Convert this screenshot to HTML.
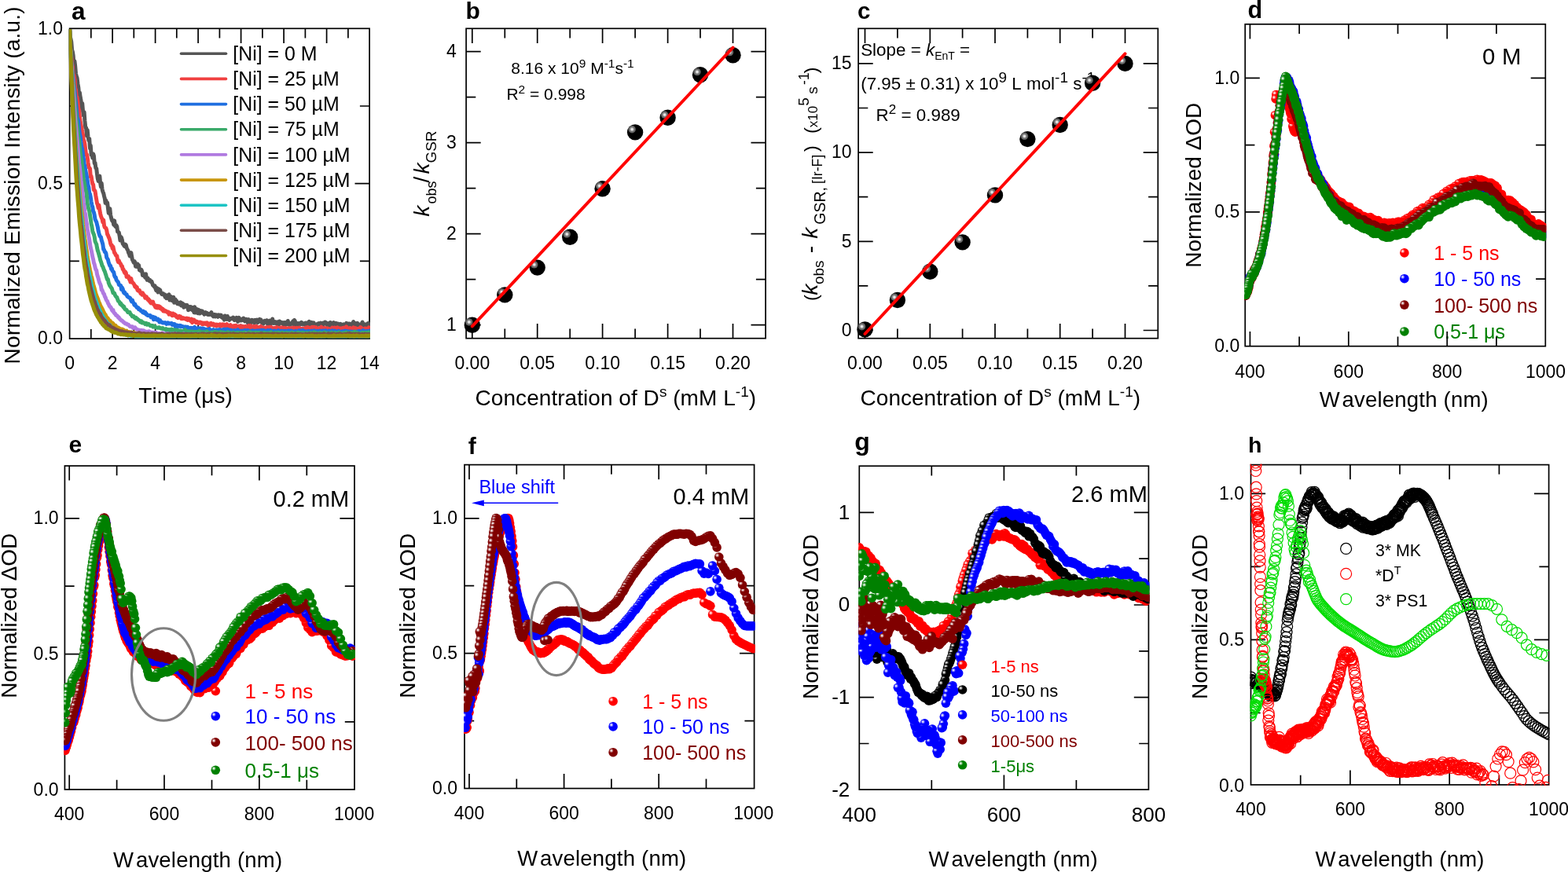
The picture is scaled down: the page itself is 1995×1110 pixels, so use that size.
<!DOCTYPE html>
<html lang="en"><head><meta charset="utf-8"><title>Figure</title>
<style>
html,body{margin:0;padding:0;background:#fff;}
body{width:1995px;height:1110px;overflow:hidden;}
svg{display:block;font-family:'Liberation Sans', Arial, Helvetica, sans-serif;}
text{white-space:pre;font-kerning:none;}
</style></head><body>
<svg width="1995" height="1110" viewBox="0 0 1995 1110">
<defs>
<radialGradient id="gmr"><stop offset="0" stop-color="#ffffff"/><stop offset="0.25" stop-color="#ffd9d9"/><stop offset="0.6" stop-color="#ff7373"/><stop offset="1" stop-color="#ff1919"/></radialGradient>
<marker id="mr" markerUnits="userSpaceOnUse" markerWidth="13.6" markerHeight="13.6" refX="6.8" refY="6.8" overflow="visible"><circle cx="6.8" cy="6.8" r="5.8" fill="#ff0000"/><circle cx="4.54" cy="4.65" r="2.73" fill="url(#gmr)"/></marker>
<radialGradient id="gmb"><stop offset="0" stop-color="#ffffff"/><stop offset="0.25" stop-color="#d9d9ff"/><stop offset="0.6" stop-color="#7373ff"/><stop offset="1" stop-color="#1919ff"/></radialGradient>
<marker id="mb" markerUnits="userSpaceOnUse" markerWidth="13.6" markerHeight="13.6" refX="6.8" refY="6.8" overflow="visible"><circle cx="6.8" cy="6.8" r="5.8" fill="#0000ff"/><circle cx="4.54" cy="4.65" r="2.73" fill="url(#gmb)"/></marker>
<radialGradient id="gmd"><stop offset="0" stop-color="#ffffff"/><stop offset="0.25" stop-color="#ecd9d9"/><stop offset="0.6" stop-color="#b97373"/><stop offset="1" stop-color="#8d1919"/></radialGradient>
<marker id="md" markerUnits="userSpaceOnUse" markerWidth="13.6" markerHeight="13.6" refX="6.8" refY="6.8" overflow="visible"><circle cx="6.8" cy="6.8" r="5.8" fill="#800000"/><circle cx="4.54" cy="4.65" r="2.73" fill="url(#gmd)"/></marker>
<radialGradient id="gmg"><stop offset="0" stop-color="#ffffff"/><stop offset="0.25" stop-color="#d9ecd9"/><stop offset="0.6" stop-color="#73b973"/><stop offset="1" stop-color="#198d19"/></radialGradient>
<marker id="mg" markerUnits="userSpaceOnUse" markerWidth="13.6" markerHeight="13.6" refX="6.8" refY="6.8" overflow="visible"><circle cx="6.8" cy="6.8" r="5.8" fill="#008000"/><circle cx="4.54" cy="4.65" r="2.73" fill="url(#gmg)"/></marker>
<radialGradient id="gmk"><stop offset="0" stop-color="#ffffff"/><stop offset="0.25" stop-color="#d9d9d9"/><stop offset="0.6" stop-color="#737373"/><stop offset="1" stop-color="#191919"/></radialGradient>
<marker id="mk" markerUnits="userSpaceOnUse" markerWidth="13.6" markerHeight="13.6" refX="6.8" refY="6.8" overflow="visible"><circle cx="6.8" cy="6.8" r="5.8" fill="#000000"/><circle cx="4.54" cy="4.65" r="2.73" fill="url(#gmk)"/></marker>
<radialGradient id="gbk"><stop offset="0" stop-color="#ffffff"/><stop offset="0.25" stop-color="#d9d9d9"/><stop offset="0.6" stop-color="#737373"/><stop offset="1" stop-color="#555555"/></radialGradient>
<marker id="bk" markerUnits="userSpaceOnUse" markerWidth="22.4" markerHeight="22.4" refX="11.2" refY="11.2" overflow="visible"><circle cx="11.2" cy="11.2" r="10.2" fill="#000000"/><circle cx="7.22" cy="7.43" r="4.79" fill="url(#gbk)"/></marker>
<marker id="ok" markerUnits="userSpaceOnUse" markerWidth="16" markerHeight="16" refX="8" refY="8" overflow="visible"><circle cx="8" cy="8" r="7" fill="none" stroke="#000" stroke-width="1.25"/></marker>
<marker id="or" markerUnits="userSpaceOnUse" markerWidth="16" markerHeight="16" refX="8" refY="8" overflow="visible"><circle cx="8" cy="8" r="7" fill="none" stroke="#ff0000" stroke-width="1.2"/></marker>
<marker id="og" markerUnits="userSpaceOnUse" markerWidth="16" markerHeight="16" refX="8" refY="8" overflow="visible"><circle cx="8" cy="8" r="7" fill="none" stroke="#00dc00" stroke-width="1.2"/></marker>
<clipPath id="ca"><rect x="87.75" y="37.15" width="383.20" height="393.35"/></clipPath>
<clipPath id="cd"><rect x="1583.20" y="29.80" width="384.10" height="411.90"/></clipPath>
<clipPath id="ce"><rect x="81.40" y="592.00" width="370.60" height="414.00"/></clipPath>
<clipPath id="cf"><rect x="590.00" y="590.60" width="370.60" height="414.00"/></clipPath>
<clipPath id="cg"><rect x="1092.30" y="592.20" width="370.10" height="413.90"/></clipPath>
<clipPath id="ch"><rect x="1590.70" y="590.80" width="380.70" height="409.00"/></clipPath>
</defs>
<rect width="1995" height="1110" fill="#fff"/>
<text x="91.1" y="24.7" font-size="31.5" font-weight="bold">a</text>
<rect x="88.6" y="36.3" width="381.5" height="394.8" fill="none" stroke="#000" stroke-width="1.7"/>
<path d="M143.1 431.1v-18.6M143.1 36.3v18.6M197.6 431.1v-18.6M197.6 36.3v18.6M252.1 431.1v-18.6M252.1 36.3v18.6M306.6 431.1v-18.6M306.6 36.3v18.6M361.1 431.1v-18.6M361.1 36.3v18.6M415.6 431.1v-18.6M415.6 36.3v18.6M115.8 431.1v-12.2M115.8 36.3v12.2M170.3 431.1v-12.2M170.3 36.3v12.2M224.8 431.1v-12.2M224.8 36.3v12.2M279.4 431.1v-12.2M279.4 36.3v12.2M333.9 431.1v-12.2M333.9 36.3v12.2M388.4 431.1v-12.2M388.4 36.3v12.2M442.9 431.1v-12.2M442.9 36.3v12.2M88.6 233.7h18.6M470.1 233.7h-18.6M88.6 332.4h12.2M470.1 332.4h-12.2M88.6 135h12.2M470.1 135h-12.2" fill="none" stroke="#000" stroke-width="1.7"/>
<text x="88.6" y="469.7" text-anchor="middle" font-size="23">0</text>
<text x="143.1" y="469.7" text-anchor="middle" font-size="23">2</text>
<text x="197.6" y="469.7" text-anchor="middle" font-size="23">4</text>
<text x="252.1" y="469.7" text-anchor="middle" font-size="23">6</text>
<text x="306.6" y="469.7" text-anchor="middle" font-size="23">8</text>
<text x="361.1" y="469.7" text-anchor="middle" font-size="23">10</text>
<text x="415.6" y="469.7" text-anchor="middle" font-size="23">12</text>
<text x="470.1" y="469.7" text-anchor="middle" font-size="23">14</text>
<text x="80" y="438.4" text-anchor="end" font-size="23">0.0</text>
<text x="80" y="241" text-anchor="end" font-size="23">0.5</text>
<text x="80" y="43.6" text-anchor="end" font-size="23">1.0</text>
<text x="176.2" y="513.4" font-size="28" text-anchor="start" fill="#000" textLength="119.6">Time (&#956;s)</text>
<text transform="translate(24.5 236) rotate(-90)" font-size="28" text-anchor="middle" textLength="455">Normalized Emission Intensity (a.u.)</text>
<g clip-path="url(#ca)" fill="none" stroke-linejoin="round" stroke-linecap="round">
<path d="M88.6 36.3 89.1 45.8 90 49.5 90.8 53.6 91.6 63.6 92.4 66 93.2 71.2 94 82.9 94.9 77.8 95.7 84.4 96.5 93.8 97.3 97.1 98.1 99.4 99 106.9 99.8 111.5 100.6 120.4 101.4 117.8 102.2 123.8 103 127.7 103.9 138.3 104.7 131.5 105.5 140.9 106.3 146.9 107.1 142.7 107.9 153.8 108.8 162.4 109.6 162.8 110.4 172.9 111.2 165.6 112 174.1 112.9 178.8 113.7 176.5 114.5 188.9 115.3 185.3 116.1 197.1 116.9 196 117.8 201 118.6 195.9 119.4 198.2 120.2 207.9 121 207.4 121.8 213.7 122.7 214.4 123.5 221.5 124.3 227.3 125.1 230.5 125.9 226.7 126.8 224 127.6 232.7 128.4 237.8 129.2 233.2 130 240.8 130.8 243.9 131.7 246 132.5 249.6 133.3 252.6 134.1 258.3 134.9 255.2 135.7 259.3 136.6 258 137.4 264.7 138.2 271.3 139 268.4 139.8 265.6 140.6 273.6 141.5 277.1 142.3 280.1 143.1 281.7 143.9 281.7 144.7 286.1 145.6 280.9 146.4 287.6 147.2 288.5 148 286.8 148.8 288.5 149.6 294.9 150.5 295.3 151.3 296 152.1 300.2 152.9 306 153.7 301.4 154.5 302.5 155.4 305.4 156.2 310.4 157 310.2 157.8 312.7 158.6 313.5 159.4 311.1 160.3 312 161.1 315.6 161.9 317.4 162.7 318.5 163.5 321.6 164.4 323.2 165.2 326 166 325.9 166.8 321.6 167.6 326.3 168.4 330.5 169.3 332.1 170.1 334.2 170.9 332.5 171.7 333.7 172.5 339.2 173.3 335.9 174.2 339.5 175 336 175.8 340.1 176.6 337.6 177.4 343.7 178.3 344.4 179.1 344.1 179.9 343.4 180.7 345.5 181.5 350.6 182.3 348.4 183.2 349.8 184 351.7 184.8 353.2 185.6 348.8 186.4 354.4 187.2 356.3 188.1 354 188.9 356 189.7 357.3 190.5 356.3 191.3 357.8 192.1 358.9 193 358.4 193.8 360.7 194.6 363.4 195.4 363.6 196.2 364.7 197.1 363.9 197.9 367.4 198.7 369.7 199.5 366.4 200.3 370.1 201.1 372 202 367.9 202.8 370.8 203.6 369 204.4 371.8 205.2 373.6 206 374.5 206.9 373.6 207.7 373.8 208.5 375.5 209.3 375 210.1 378.1 211 375.6 211.8 379.7 212.6 377.1 213.4 375.9 214.2 375.7 215 375 215.9 382 216.7 377.9 217.5 377.6 218.3 378.5 219.1 382.7 219.9 380.6 220.8 378.3 221.6 385.3 222.4 381.9 223.2 381.2 224 385.1 224.8 383.1 225.7 386.7 226.5 386.7 227.3 387.1 228.1 385.6 228.9 386.5 229.8 385 230.6 389 231.4 387.8 232.2 386.2 233 387.3 233.8 391.2 234.7 387.9 235.5 390.4 236.3 389.1 237.1 389.6 237.9 388.3 238.7 390.7 239.6 394.6 240.4 394.1 241.2 390.6 242 392.7 242.8 390.5 243.7 392.4 244.5 394.5 245.3 391.5 246.1 395.2 246.9 397.8 247.7 390.7 248.6 398.1 249.4 393.8 250.2 393.6 251 395.2 251.8 398.8 252.6 394.2 253.5 398.9 254.3 398.9 255.1 397.5 255.9 395.7 256.7 396.8 257.5 396.1 258.4 398.6 259.2 398.3 260 400.2 260.8 399 261.6 397.7 262.5 399.5 263.3 398.3 264.1 400.4 264.9 400.6 265.7 399.7 266.5 400.3 267.4 399.2 268.2 400.1 269 397.6 269.8 401.2 270.6 401.4 271.4 402.9 272.3 401.3 273.1 400.4 273.9 403 274.7 402 275.5 400.9 276.4 402.5 277.2 403.3 278 400.9 278.8 402.6 279.6 402.2 280.4 401.1 281.3 401.3 282.1 403.9 282.9 404.4 283.7 403.2 284.5 404 285.3 407.1 286.2 402 287 404.2 287.8 403.2 288.6 406.5 289.4 402.5 290.2 405.8 291.1 405.1 291.9 407.3 292.7 405.4 293.5 405.7 294.3 405.7 295.2 404.8 296 405.6 296.8 404.2 297.6 406.6 298.4 407.6 299.2 406.1 300.1 405.2 300.9 404.3 301.7 405.1 302.5 409.4 303.3 406 304.1 404.4 305 406.7 305.8 407.8 306.6 406.5 307.4 407.9 308.2 406.2 309.1 407.3 309.9 405.2 310.7 406.7 311.5 408.8 312.3 406.7 313.1 406.3 314 408.8 314.8 408.6 315.6 411.7 316.4 406.6 317.2 409.1 318 411.6 318.9 411.2 319.7 408.8 320.5 407.3 321.3 408.7 322.1 407.9 322.9 410.5 323.8 410.9 324.6 407.4 325.4 408.1 326.2 409 327 407 327.9 410.6 328.7 409.8 329.5 407.6 330.3 406.4 331.1 409.3 331.9 406.8 332.8 410.4 333.6 409 334.4 409.9 335.2 412.2 336 409.3 336.8 408.3 337.7 410 338.5 410 339.3 407.7 340.1 411.9 340.9 412.4 341.8 411.1 342.6 412 343.4 408.1 344.2 409.7 345 411.6 345.8 411.3 346.7 405.9 347.5 411.4 348.3 411.6 349.1 410 349.9 409.5 350.7 410.2 351.6 412 352.4 412.5 353.2 409.8 354 410.8 354.8 413.3 355.6 409 356.5 409.6 357.3 411.3 358.1 411.3 358.9 410.6 359.7 412.1 360.6 413.1 361.4 410.6 362.2 413.3 363 410.5 363.8 413.4 364.6 411.4 365.5 411.5 366.3 408.5 367.1 413 367.9 413.5 368.7 412.4 369.5 413.1 370.4 412.3 371.2 410.8 372 410.3 372.8 408.9 373.6 412.7 374.5 407.5 375.3 408.5 376.1 411.9 376.9 415.2 377.7 411.8 378.5 411.6 379.4 415.3 380.2 411.6 381 412.1 381.8 413 382.6 410.9 383.4 410.3 384.3 412.6 385.1 411.5 385.9 412.9 386.7 413.1 387.5 411.8 388.4 411.2 389.2 412.9 390 415.4 390.8 411.1 391.6 414.5 392.4 411.9 393.3 409.4 394.1 412.1 394.9 414 395.7 414.4 396.5 410.4 397.3 412.2 398.2 411.4 399 410.8 399.8 412.3 400.6 412.7 401.4 413.7 402.2 417 403.1 414.6 403.9 412.4 404.7 412.6 405.5 411.7 406.3 412.6 407.2 412.1 408 411.2 408.8 413.8 409.6 412.9 410.4 414.9 411.2 411 412.1 412.4 412.9 411.7 413.7 410.1 414.5 410.8 415.3 412.6 416.1 411.3 417 414.7 417.8 411.9 418.6 412.3 419.4 415 420.2 410.5 421.1 413.7 421.9 411.6 422.7 413.3 423.5 411.1 424.3 410.6 425.1 413.9 426 415 426.8 412.9 427.6 411.4 428.4 413.3 429.2 413.6 430 412 430.9 416.9 431.7 413.7 432.5 414.9 433.3 412.3 434.1 413.9 434.9 414.5 435.8 413.3 436.6 415 437.4 412.8 438.2 413.8 439 413.4 439.9 413.9 440.7 411.4 441.5 413 442.3 412 443.1 412.1 443.9 414.1 444.8 412 445.6 412.3 446.4 412.4 447.2 413.5 448 413.5 448.8 411.7 449.7 409.6 450.5 414.2 451.3 412.1 452.1 413.5 452.9 411.7 453.8 412.3 454.6 411.3 455.4 417.2 456.2 413.9 457 414.5 457.8 413.1 458.7 414.1 459.5 414 460.3 411.9 461.1 410.1 461.9 417.3 462.7 413.5 463.6 412.5 464.4 413 465.2 413.5 466 415.1 466.8 414.5 467.6 411.9 468.5 411.4 469.3 412.9 470.1 414.3" stroke="#555555" stroke-width="5"/>
<path d="M88.6 36.3 89.1 60.4 90 65.1 90.8 72.7 91.6 80.9 92.4 85.2 93.2 94.7 94 96 94.9 101.1 95.7 112.5 96.5 114.5 97.3 123.4 98.1 124.1 99 129.9 99.8 137.9 100.6 140.3 101.4 148.7 102.2 154.2 103 158.9 103.9 162.8 104.7 168 105.5 171.6 106.3 177.9 107.1 179.4 107.9 183.2 108.8 190.8 109.6 197 110.4 196.6 111.2 199.9 112 206.6 112.9 212.9 113.7 213.5 114.5 214.8 115.3 225.4 116.1 224.3 116.9 229.5 117.8 234.1 118.6 234.8 119.4 241.8 120.2 242 121 243.3 121.8 248.7 122.7 253.9 123.5 258.7 124.3 260.7 125.1 264.7 125.9 261.2 126.8 267.5 127.6 271.8 128.4 275 129.2 277.3 130 278.6 130.8 282.9 131.7 280.1 132.5 287 133.3 289.5 134.1 290 134.9 290.4 135.7 293 136.6 298.4 137.4 299.4 138.2 301.8 139 303.3 139.8 305.9 140.6 310 141.5 312.5 142.3 312.1 143.1 316.4 143.9 314.1 144.7 318.2 145.6 321.8 146.4 322.4 147.2 324.5 148 325.7 148.8 325.7 149.6 331.2 150.5 333.5 151.3 331.7 152.1 334.1 152.9 335.1 153.7 336.2 154.5 338.7 155.4 338.7 156.2 342.7 157 342.7 157.8 345.5 158.6 347.3 159.4 346 160.3 347.4 161.1 352.5 161.9 352.5 162.7 351.7 163.5 351.8 164.4 355.5 165.2 356 166 359 166.8 354.4 167.6 358.5 168.4 359 169.3 360.4 170.1 361.1 170.9 362.6 171.7 364.9 172.5 364.4 173.3 366.4 174.2 365.6 175 369.4 175.8 370.1 176.6 369.3 177.4 369.4 178.3 371.8 179.1 373.8 179.9 373.9 180.7 375.2 181.5 372.8 182.3 375 183.2 375.3 184 377.3 184.8 379.2 185.6 377.7 186.4 377.8 187.2 379.9 188.1 381.4 188.9 380.7 189.7 383.2 190.5 382.4 191.3 384.9 192.1 385.9 193 384.6 193.8 385.5 194.6 384.1 195.4 387.5 196.2 387.7 197.1 389.7 197.9 391.2 198.7 391.6 199.5 389.4 200.3 391.9 201.1 389.6 202 389.8 202.8 392.3 203.6 390.5 204.4 392.7 205.2 392.1 206 394.2 206.9 393.2 207.7 395.9 208.5 394.5 209.3 396.2 210.1 396.3 211 395.8 211.8 396.7 212.6 397.4 213.4 396.9 214.2 397.2 215 400.1 215.9 398.2 216.7 398.4 217.5 400.4 218.3 399.5 219.1 401.8 219.9 399 220.8 401.2 221.6 401.4 222.4 400.2 223.2 402.1 224 401.5 224.8 403.7 225.7 403.4 226.5 404.7 227.3 403.6 228.1 402.5 228.9 403.7 229.8 403.2 230.6 405.6 231.4 405.7 232.2 405.5 233 404.6 233.8 405.1 234.7 405.7 235.5 405.3 236.3 406.4 237.1 406.4 237.9 405.2 238.7 407.5 239.6 406.9 240.4 405.6 241.2 407.4 242 406.9 242.8 408.6 243.7 406 244.5 410.7 245.3 409.7 246.1 409.8 246.9 407.1 247.7 408.7 248.6 409.5 249.4 410.7 250.2 409.2 251 409.6 251.8 410.6 252.6 411.6 253.5 411.3 254.3 410.1 255.1 410.2 255.9 410.6 256.7 410.9 257.5 412.8 258.4 411 259.2 412.3 260 411.3 260.8 411 261.6 412.3 262.5 412.8 263.3 410.8 264.1 411.6 264.9 412.8 265.7 415.3 266.5 412.4 267.4 411.8 268.2 411.4 269 413.4 269.8 413.4 270.6 413.3 271.4 412.1 272.3 414.3 273.1 413.3 273.9 414.2 274.7 413.1 275.5 415 276.4 413.2 277.2 414.2 278 414 278.8 413.3 279.6 412.8 280.4 415.7 281.3 413.1 282.1 413.6 282.9 414.5 283.7 412.9 284.5 414.2 285.3 413.2 286.2 415.1 287 415.5 287.8 413.5 288.6 412.6 289.4 414.2 290.2 414 291.1 415.4 291.9 416.3 292.7 415.3 293.5 413.7 294.3 417.1 295.2 415.8 296 417.2 296.8 415.3 297.6 414.6 298.4 416.7 299.2 416 300.1 414.3 300.9 415.8 301.7 416.9 302.5 417.1 303.3 417.8 304.1 415.1 305 416.7 305.8 414.9 306.6 415.2 307.4 416.7 308.2 416.6 309.1 415.4 309.9 416.1 310.7 416 311.5 417.9 312.3 415.4 313.1 417.2 314 418.6 314.8 417 315.6 416.1 316.4 414.5 317.2 416.9 318 417.9 318.9 414.6 319.7 416.5 320.5 416.9 321.3 417.8 322.1 417.7 322.9 415.4 323.8 417.1 324.6 417.4 325.4 417.4 326.2 415.4 327 417.5 327.9 416.4 328.7 416.7 329.5 416.8 330.3 417.9 331.1 416.4 331.9 415.5 332.8 417.2 333.6 418 334.4 418.4 335.2 417 336 417.5 336.8 417.3 337.7 417.3 338.5 418.7 339.3 416.6 340.1 417.1 340.9 417.4 341.8 417.2 342.6 416.5 343.4 417.4 344.2 418.2 345 416.3 345.8 417.9 346.7 418.2 347.5 419 348.3 417.5 349.1 418.5 349.9 418.1 350.7 417.1 351.6 417.6 352.4 416.6 353.2 417.3 354 418 354.8 418 355.6 418.2 356.5 417.1 357.3 417.7 358.1 418.1 358.9 416.9 359.7 417.7 360.6 418.2 361.4 419.2 362.2 417.4 363 417.6 363.8 417.8 364.6 418.2 365.5 418.6 366.3 418.1 367.1 417.6 367.9 418 368.7 418 369.5 418.3 370.4 417.6 371.2 417.7 372 418.6 372.8 417.2 373.6 417.2 374.5 417.2 375.3 418.1 376.1 418.2 376.9 419.1 377.7 417.3 378.5 420 379.4 418.4 380.2 418.3 381 417.2 381.8 418 382.6 419 383.4 419.4 384.3 418.7 385.1 418 385.9 418 386.7 418.3 387.5 418.7 388.4 418.3 389.2 417.1 390 419.2 390.8 418.1 391.6 416.6 392.4 417.6 393.3 418.6 394.1 417.5 394.9 418.9 395.7 418.1 396.5 416.7 397.3 416.4 398.2 419.8 399 417.5 399.8 416.3 400.6 418.7 401.4 417.9 402.2 416.8 403.1 418.7 403.9 417.8 404.7 418.3 405.5 420 406.3 417.9 407.2 418.4 408 417.3 408.8 416.2 409.6 417.6 410.4 418.6 411.2 417.8 412.1 418.1 412.9 417.3 413.7 419.6 414.5 419.4 415.3 420.2 416.1 417.7 417 418.3 417.8 418.9 418.6 419 419.4 418.8 420.2 419.2 421.1 418.6 421.9 418.8 422.7 417 423.5 418 424.3 419.1 425.1 418.9 426 417.2 426.8 417.9 427.6 418 428.4 417.6 429.2 416.8 430 419.5 430.9 419 431.7 420 432.5 417.9 433.3 418.7 434.1 419 434.9 419.1 435.8 417.7 436.6 418.5 437.4 418.8 438.2 417.2 439 419.3 439.9 419.5 440.7 415.9 441.5 418.7 442.3 418.9 443.1 419 443.9 418.5 444.8 417.6 445.6 417.7 446.4 417.9 447.2 418.6 448 419.8 448.8 418.1 449.7 416.9 450.5 417.4 451.3 418.5 452.1 417.6 452.9 418.7 453.8 418.4 454.6 419.6 455.4 418.7 456.2 418.3 457 418.5 457.8 417.7 458.7 416.6 459.5 417.1 460.3 418.7 461.1 419.1 461.9 419 462.7 419.3 463.6 418.4 464.4 418 465.2 418.2 466 418.2 466.8 418.3 467.6 418.5 468.5 419.1 469.3 416.8 470.1 417.4" stroke="#f04040" stroke-width="5"/>
<path d="M88.6 36.3 89.1 66.2 90 73.8 90.8 80.6 91.6 86 92.4 94.2 93.2 101.6 94 108.9 94.9 116 95.7 123.7 96.5 131.1 97.3 138.8 98.1 148.3 99 151.7 99.8 154.5 100.6 164.7 101.4 170.8 102.2 173.7 103 181 103.9 187.5 104.7 189.5 105.5 196.4 106.3 201.3 107.1 208.6 107.9 211.7 108.8 216.7 109.6 220.8 110.4 224.8 111.2 229.4 112 235.3 112.9 238.7 113.7 245.8 114.5 247.1 115.3 251.1 116.1 256.6 116.9 261 117.8 263.6 118.6 269 119.4 270.3 120.2 273.8 121 279 121.8 280.9 122.7 282.7 123.5 285.8 124.3 289 125.1 293.7 125.9 296.9 126.8 299.9 127.6 301.3 128.4 301.7 129.2 305.7 130 308.1 130.8 311 131.7 317.4 132.5 318 133.3 320.7 134.1 320.9 134.9 322.6 135.7 327.9 136.6 329.2 137.4 330.6 138.2 334 139 336.2 139.8 338.3 140.6 338.3 141.5 342.4 142.3 341.8 143.1 344.9 143.9 345.8 144.7 346.6 145.6 350.9 146.4 352.8 147.2 352.9 148 356.2 148.8 357.4 149.6 358.2 150.5 359.3 151.3 362.4 152.1 362.8 152.9 363.1 153.7 363.6 154.5 368.6 155.4 366.2 156.2 367.9 157 371.3 157.8 372.9 158.6 372 159.4 374.1 160.3 374.6 161.1 374.9 161.9 377.3 162.7 377.7 163.5 378.4 164.4 379 165.2 379.1 166 380.1 166.8 382.5 167.6 383.9 168.4 382.1 169.3 384.8 170.1 385.8 170.9 388.2 171.7 387.1 172.5 389.4 173.3 389.9 174.2 391.5 175 391.4 175.8 391.6 176.6 393.8 177.4 393.9 178.3 393.7 179.1 395.5 179.9 396.1 180.7 396.4 181.5 397.5 182.3 396.2 183.2 398.3 184 397.2 184.8 397.6 185.6 400.1 186.4 399.5 187.2 400.5 188.1 401.6 188.9 401.4 189.7 401.8 190.5 401.4 191.3 401.6 192.1 403.9 193 403.7 193.8 403.3 194.6 403.2 195.4 406.8 196.2 403.9 197.1 405.6 197.9 404.5 198.7 406.5 199.5 407.3 200.3 406.9 201.1 406.2 202 407.6 202.8 409.9 203.6 407.7 204.4 409.9 205.2 409.7 206 410.1 206.9 411 207.7 410.8 208.5 410.9 209.3 410.8 210.1 410.6 211 411.1 211.8 412.3 212.6 411.5 213.4 410.8 214.2 411.1 215 412 215.9 411.8 216.7 411.8 217.5 411.6 218.3 411.6 219.1 413.4 219.9 413.6 220.8 412.4 221.6 412.5 222.4 412.7 223.2 416 224 414.5 224.8 417.1 225.7 414.1 226.5 414.8 227.3 415 228.1 415.3 228.9 414.3 229.8 415.7 230.6 414.8 231.4 415.3 232.2 415.6 233 415.7 233.8 416.1 234.7 417.2 235.5 415.9 236.3 416 237.1 416.8 237.9 416.3 238.7 416.3 239.6 418.1 240.4 417.3 241.2 417.6 242 418.1 242.8 417.3 243.7 418.3 244.5 418 245.3 417.6 246.1 417.6 246.9 417.8 247.7 416.4 248.6 418.6 249.4 418.1 250.2 419.3 251 418.1 251.8 417.7 252.6 417.7 253.5 419.2 254.3 419 255.1 417.9 255.9 419 256.7 418.3 257.5 419.8 258.4 418.1 259.2 418.4 260 418.9 260.8 419.9 261.6 419.5 262.5 419.3 263.3 419.3 264.1 419.6 264.9 419.8 265.7 419.5 266.5 418.7 267.4 421.3 268.2 420.8 269 421 269.8 420.4 270.6 421.3 271.4 419.6 272.3 420 273.1 420.3 273.9 420.7 274.7 420.1 275.5 420.1 276.4 420 277.2 420.9 278 419.9 278.8 421.5 279.6 419.5 280.4 422.7 281.3 420.9 282.1 421.4 282.9 420 283.7 421.7 284.5 419.3 285.3 421.8 286.2 419.2 287 420.4 287.8 420.7 288.6 420.5 289.4 419.2 290.2 420.2 291.1 422.5 291.9 420 292.7 420.8 293.5 422.1 294.3 420.4 295.2 421.9 296 420.9 296.8 420.9 297.6 421.5 298.4 420.6 299.2 421.9 300.1 421 300.9 421.5 301.7 421.3 302.5 419.8 303.3 421.1 304.1 422 305 421.3 305.8 421.8 306.6 421.3 307.4 421.2 308.2 421.3 309.1 421.3 309.9 421.7 310.7 421 311.5 420.6 312.3 421.8 313.1 421.5 314 421.4 314.8 420.5 315.6 420.7 316.4 422 317.2 421.4 318 422.6 318.9 422.2 319.7 421.5 320.5 421.1 321.3 420.8 322.1 421.8 322.9 422.5 323.8 421.3 324.6 421.7 325.4 421.3 326.2 421.5 327 421.1 327.9 421.1 328.7 421 329.5 422 330.3 420.9 331.1 422 331.9 421.6 332.8 420.3 333.6 421.4 334.4 422.5 335.2 420.6 336 421 336.8 420.9 337.7 421.6 338.5 421.5 339.3 421.9 340.1 422.2 340.9 420.6 341.8 422 342.6 422.1 343.4 422.1 344.2 420.4 345 421.1 345.8 422 346.7 421.8 347.5 421.4 348.3 421.2 349.1 423 349.9 421.2 350.7 422 351.6 422.3 352.4 422.1 353.2 421.3 354 420.6 354.8 421.7 355.6 421.4 356.5 422.4 357.3 421.5 358.1 421.3 358.9 422.9 359.7 422.2 360.6 421.3 361.4 423.1 362.2 422.1 363 421.4 363.8 423.1 364.6 422.2 365.5 421.8 366.3 421.2 367.1 422.8 367.9 421.1 368.7 421.7 369.5 421 370.4 421.1 371.2 421.7 372 421.6 372.8 423.2 373.6 422.9 374.5 422.6 375.3 422.2 376.1 421.3 376.9 423.2 377.7 422.2 378.5 422.9 379.4 423 380.2 420.9 381 421.9 381.8 420.8 382.6 421.1 383.4 422.6 384.3 423.3 385.1 420.5 385.9 422.2 386.7 422.8 387.5 421.5 388.4 421.9 389.2 422.4 390 422.2 390.8 421.8 391.6 421.9 392.4 421.4 393.3 422.2 394.1 422.2 394.9 421.5 395.7 421.7 396.5 421.2 397.3 422.1 398.2 422 399 422.8 399.8 420.9 400.6 423 401.4 421.8 402.2 422.6 403.1 421.7 403.9 421.4 404.7 423.1 405.5 422.1 406.3 423.2 407.2 421 408 422.3 408.8 423.1 409.6 422.5 410.4 421 411.2 420.9 412.1 421.1 412.9 422.5 413.7 422.1 414.5 420.8 415.3 422.5 416.1 422.2 417 422.7 417.8 422.8 418.6 421.1 419.4 421.5 420.2 421.7 421.1 421.6 421.9 421.3 422.7 420.9 423.5 422 424.3 422.2 425.1 422.7 426 421.2 426.8 422.4 427.6 423.1 428.4 422.2 429.2 422 430 421.4 430.9 421.3 431.7 422.5 432.5 422.6 433.3 422.2 434.1 422.9 434.9 422.1 435.8 421.7 436.6 422 437.4 423.2 438.2 422.9 439 421.1 439.9 422.7 440.7 421.5 441.5 421.6 442.3 422.2 443.1 422.7 443.9 421.9 444.8 422.6 445.6 422.1 446.4 421.9 447.2 422.5 448 422.2 448.8 422.2 449.7 422.9 450.5 422.1 451.3 422.5 452.1 423.3 452.9 422.2 453.8 422.2 454.6 422.4 455.4 423.5 456.2 421.5 457 421.5 457.8 421.5 458.7 421.8 459.5 422.9 460.3 421.9 461.1 422.7 461.9 420.5 462.7 422.4 463.6 421.5 464.4 423.1 465.2 422.9 466 422.4 466.8 421.5 467.6 421.6 468.5 421.8 469.3 423.3 470.1 421.2" stroke="#1f6fe0" stroke-width="5"/>
<path d="M88.6 36.3 89.1 57.5 90 67.5 90.8 79.1 91.6 88.7 92.4 101.4 93.2 105.2 94 117.5 94.9 125.1 95.7 136.2 96.5 143.3 97.3 152.8 98.1 159.3 99 166.4 99.8 173.5 100.6 179.1 101.4 187.2 102.2 194.2 103 201 103.9 204.9 104.7 214.3 105.5 218.1 106.3 227.7 107.1 232.1 107.9 236 108.8 242 109.6 243.5 110.4 249.1 111.2 258.7 112 262.9 112.9 266.4 113.7 268.8 114.5 273.9 115.3 279 116.1 285 116.9 288.4 117.8 294.2 118.6 296.7 119.4 298.3 120.2 301.5 121 307.1 121.8 309.1 122.7 310.8 123.5 315.4 124.3 319 125.1 321.1 125.9 324.1 126.8 327.3 127.6 330.7 128.4 333.2 129.2 335.3 130 338.4 130.8 339.2 131.7 341.9 132.5 344.1 133.3 345.5 134.1 348.1 134.9 350.4 135.7 353.3 136.6 355.8 137.4 355.6 138.2 360.1 139 361.9 139.8 363.9 140.6 364.7 141.5 366.2 142.3 367.3 143.1 369.9 143.9 372.7 144.7 372.5 145.6 373.5 146.4 375.6 147.2 377.1 148 377.9 148.8 378.5 149.6 381 150.5 383.2 151.3 383.8 152.1 384.6 152.9 387 153.7 386.1 154.5 388.3 155.4 388.4 156.2 389.7 157 391 157.8 390.5 158.6 393 159.4 394 160.3 394.2 161.1 394.6 161.9 396.1 162.7 397.5 163.5 397.1 164.4 398 165.2 397.7 166 400 166.8 400.3 167.6 401.6 168.4 402.8 169.3 402.4 170.1 402.5 170.9 404.3 171.7 404.7 172.5 405.6 173.3 404.5 174.2 406.3 175 406 175.8 407.4 176.6 407.3 177.4 408.2 178.3 409.8 179.1 408.7 179.9 408.8 180.7 410.9 181.5 410.1 182.3 410.7 183.2 411.5 184 411.3 184.8 412.7 185.6 411.7 186.4 411.5 187.2 413.3 188.1 412.9 188.9 412.3 189.7 413.4 190.5 414.1 191.3 414.7 192.1 414.3 193 414.7 193.8 414.5 194.6 416.1 195.4 414.8 196.2 415.9 197.1 415.5 197.9 416.6 198.7 417.1 199.5 416.9 200.3 417.3 201.1 417.2 202 416.8 202.8 416.8 203.6 417.5 204.4 418.1 205.2 418.2 206 417.8 206.9 417.6 207.7 418.6 208.5 418.7 209.3 419.2 210.1 418.8 211 418.5 211.8 420.8 212.6 419.2 213.4 419.8 214.2 420.9 215 419.5 215.9 419.9 216.7 419.7 217.5 420.8 218.3 419 219.1 420.2 219.9 420.6 220.8 419.7 221.6 420.2 222.4 420.2 223.2 420.1 224 422 224.8 420.1 225.7 421.2 226.5 421 227.3 420.7 228.1 421.7 228.9 421.2 229.8 421 230.6 421.5 231.4 421.3 232.2 422.5 233 422.4 233.8 422.4 234.7 421.7 235.5 419.9 236.3 421.8 237.1 422.1 237.9 422.1 238.7 421.6 239.6 421.8 240.4 422.9 241.2 421.8 242 422.4 242.8 422 243.7 423.5 244.5 423.3 245.3 422.2 246.1 423.5 246.9 422.4 247.7 422.5 248.6 422.6 249.4 422.5 250.2 422.6 251 422.6 251.8 423 252.6 422.9 253.5 421.3 254.3 422.3 255.1 422.6 255.9 422.8 256.7 423.4 257.5 422.9 258.4 423.2 259.2 422.6 260 423.6 260.8 424.4 261.6 423.5 262.5 422.8 263.3 421.9 264.1 422.7 264.9 423.8 265.7 423.4 266.5 423.8 267.4 423.4 268.2 423.8 269 424.2 269.8 423.1 270.6 423.3 271.4 423.5 272.3 423.2 273.1 422.4 273.9 423.4 274.7 423.7 275.5 423 276.4 424.4 277.2 423.1 278 423.9 278.8 424 279.6 423.5 280.4 422.7 281.3 424 282.1 423.1 282.9 423.4 283.7 424.3 284.5 423.1 285.3 424.1 286.2 424.4 287 424.1 287.8 424 288.6 423.4 289.4 424.1 290.2 422.9 291.1 423.6 291.9 424.1 292.7 424.1 293.5 423.6 294.3 424.8 295.2 424.9 296 424.2 296.8 423.4 297.6 423.7 298.4 423.8 299.2 423.9 300.1 424.9 300.9 424 301.7 424.7 302.5 423.4 303.3 423.8 304.1 423.9 305 423.6 305.8 423.7 306.6 423.7 307.4 423.6 308.2 424.1 309.1 424.5 309.9 423.7 310.7 423.1 311.5 423.3 312.3 424 313.1 423.5 314 424.1 314.8 423.7 315.6 424.2 316.4 423.8 317.2 422.8 318 423.5 318.9 423.1 319.7 424.3 320.5 424.2 321.3 423.9 322.1 423.6 322.9 424 323.8 423.4 324.6 424.2 325.4 423.2 326.2 423.4 327 424.5 327.9 423.6 328.7 424 329.5 423.4 330.3 424.2 331.1 423.8 331.9 423.6 332.8 425.3 333.6 424.9 334.4 423.9 335.2 424 336 423.4 336.8 423.8 337.7 424.6 338.5 423.8 339.3 424.3 340.1 424.1 340.9 424.2 341.8 423.8 342.6 424.7 343.4 424.5 344.2 425.1 345 422.8 345.8 424.5 346.7 424.4 347.5 424.5 348.3 424.3 349.1 424.2 349.9 423.6 350.7 423.9 351.6 423.8 352.4 424.3 353.2 424 354 423.3 354.8 424 355.6 423.8 356.5 425 357.3 423.7 358.1 423.8 358.9 423.3 359.7 425.4 360.6 424 361.4 424 362.2 423.9 363 424.3 363.8 423.9 364.6 423.6 365.5 424 366.3 424.1 367.1 424.1 367.9 424.2 368.7 424 369.5 424.4 370.4 425 371.2 423.3 372 424.9 372.8 424 373.6 424.7 374.5 424.1 375.3 424.5 376.1 424 376.9 424.4 377.7 424.7 378.5 423.8 379.4 423.3 380.2 423.8 381 423.9 381.8 424.5 382.6 424 383.4 423.8 384.3 424.3 385.1 423.5 385.9 424 386.7 423.8 387.5 424.3 388.4 424.3 389.2 423.9 390 423.8 390.8 423.8 391.6 424.5 392.4 424.4 393.3 424 394.1 425 394.9 423.5 395.7 423.8 396.5 424 397.3 424.4 398.2 423.6 399 424.2 399.8 423 400.6 423.8 401.4 424.8 402.2 423.6 403.1 424.3 403.9 424.3 404.7 424.1 405.5 424.1 406.3 423.9 407.2 423.6 408 423.8 408.8 424.4 409.6 424.7 410.4 424.4 411.2 423.8 412.1 423.6 412.9 423.1 413.7 424.7 414.5 424 415.3 424.1 416.1 424.2 417 423.9 417.8 424.1 418.6 424.2 419.4 424.4 420.2 423.8 421.1 423.5 421.9 423.2 422.7 424.3 423.5 424.6 424.3 424.2 425.1 424.5 426 423.5 426.8 424.4 427.6 424 428.4 424.7 429.2 424.2 430 423.9 430.9 423.2 431.7 424.4 432.5 423.8 433.3 425.1 434.1 424.6 434.9 424.4 435.8 424.3 436.6 423.8 437.4 423.7 438.2 424.9 439 423.8 439.9 424.6 440.7 423.1 441.5 423.9 442.3 423.9 443.1 424.1 443.9 424 444.8 424 445.6 424.4 446.4 423.6 447.2 423.9 448 423.6 448.8 424.1 449.7 423.7 450.5 424.4 451.3 422.2 452.1 424.4 452.9 424.3 453.8 423.5 454.6 423.4 455.4 424.4 456.2 424.9 457 424.7 457.8 424.5 458.7 424.4 459.5 424.1 460.3 423.5 461.1 423.5 461.9 424.3 462.7 423.7 463.6 423.6 464.4 423.3 465.2 424.1 466 424.4 466.8 423.6 467.6 423.2 468.5 424.3 469.3 423 470.1 423.1" stroke="#3aaa6a" stroke-width="5"/>
<path d="M88.6 36.3 89.1 54.9 90 67.4 90.8 80.4 91.6 92 92.4 107 93.2 113.9 94 125.5 94.9 140 95.7 151.8 96.5 160.1 97.3 169.3 98.1 177.7 99 187.5 99.8 197.3 100.6 207.5 101.4 213.1 102.2 220.6 103 229.3 103.9 236 104.7 243.1 105.5 250.2 106.3 257.6 107.1 262.4 107.9 270.1 108.8 273.3 109.6 281 110.4 285.1 111.2 291.4 112 295.4 112.9 300.7 113.7 304.7 114.5 310.3 115.3 315.3 116.1 318.3 116.9 322.3 117.8 327.1 118.6 330.1 119.4 334.5 120.2 336.5 121 340.2 121.8 343.1 122.7 344.2 123.5 349 124.3 351.7 125.1 354.2 125.9 357.4 126.8 360.3 127.6 361.7 128.4 364 129.2 369 130 369.2 130.8 371.5 131.7 373.7 132.5 374.4 133.3 377.5 134.1 378.4 134.9 381 135.7 382.6 136.6 383.5 137.4 386 138.2 387.1 139 389.2 139.8 390.4 140.6 390.8 141.5 392.2 142.3 394.5 143.1 395.7 143.9 394.6 144.7 397.6 145.6 398.8 146.4 399.1 147.2 400.8 148 401.5 148.8 401.7 149.6 402.6 150.5 404.1 151.3 404.1 152.1 405.7 152.9 406.5 153.7 407.1 154.5 408 155.4 408.2 156.2 409 157 410.2 157.8 410.3 158.6 411.3 159.4 411.9 160.3 412.2 161.1 412.1 161.9 413 162.7 413 163.5 413.3 164.4 414.6 165.2 415.3 166 415.8 166.8 415.7 167.6 415.8 168.4 415.8 169.3 417.6 170.1 416.8 170.9 417.1 171.7 416.8 172.5 418.2 173.3 418.6 174.2 419.6 175 419.5 175.8 419.9 176.6 420.1 177.4 420.3 178.3 420.8 179.1 420.4 179.9 420.4 180.7 420.4 181.5 421 182.3 420.7 183.2 420.9 184 422.3 184.8 421.9 185.6 422.5 186.4 422.5 187.2 422.2 188.1 422.5 188.9 421.9 189.7 421.8 190.5 422.6 191.3 423 192.1 423.1 193 423.2 193.8 423.1 194.6 423.7 195.4 423.3 196.2 423.7 197.1 423.3 197.9 423.3 198.7 423.2 199.5 424.1 200.3 424.7 201.1 424.9 202 424.4 202.8 425 203.6 425.1 204.4 424.6 205.2 425 206 424.3 206.9 423.9 207.7 424.9 208.5 424.7 209.3 425.5 210.1 424.9 211 425.3 211.8 425.5 212.6 425.9 213.4 424.5 214.2 425.9 215 425.7 215.9 425.3 216.7 425.2 217.5 425.2 218.3 425.3 219.1 425.8 219.9 425.1 220.8 425.4 221.6 426.1 222.4 424.9 223.2 425.7 224 425.2 224.8 426.2 225.7 426.2 226.5 425.9 227.3 426 228.1 425.3 228.9 426.4 229.8 425.7 230.6 426.2 231.4 425.6 232.2 425.8 233 426.1 233.8 425 234.7 425.9 235.5 425.5 236.3 426.5 237.1 426 237.9 425.9 238.7 425.9 239.6 426.1 240.4 426.4 241.2 427.3 242 426.3 242.8 426.4 243.7 426.2 244.5 425.7 245.3 425.2 246.1 425.9 246.9 425.7 247.7 425.9 248.6 425.8 249.4 425.9 250.2 426.2 251 426.3 251.8 426 252.6 425.4 253.5 425.9 254.3 425.5 255.1 426.7 255.9 426.1 256.7 426 257.5 426 258.4 426.8 259.2 427 260 427.1 260.8 426.4 261.6 425.3 262.5 426.1 263.3 426.7 264.1 426.1 264.9 426.4 265.7 426.2 266.5 426.4 267.4 426.8 268.2 426.5 269 426 269.8 426.1 270.6 425.8 271.4 426.7 272.3 425.9 273.1 426.3 273.9 426.2 274.7 425.8 275.5 426.3 276.4 426.2 277.2 426 278 426 278.8 426 279.6 425.8 280.4 426.1 281.3 426.5 282.1 425.3 282.9 426.3 283.7 426.1 284.5 426.6 285.3 427.2 286.2 426.6 287 426.3 287.8 426.1 288.6 426.3 289.4 426 290.2 425.9 291.1 425.9 291.9 426.3 292.7 426.3 293.5 426.4 294.3 426.7 295.2 425.7 296 426.8 296.8 426.3 297.6 426.2 298.4 427.2 299.2 426 300.1 426.5 300.9 426.2 301.7 426.5 302.5 426.9 303.3 426.2 304.1 426.3 305 425.9 305.8 426.1 306.6 427 307.4 425.9 308.2 426 309.1 426 309.9 426.1 310.7 426.6 311.5 426.1 312.3 426.5 313.1 425.2 314 426.4 314.8 426.8 315.6 426.5 316.4 425.8 317.2 426.6 318 427.3 318.9 425.7 319.7 426.2 320.5 426.5 321.3 426 322.1 426.7 322.9 426.8 323.8 426 324.6 426.5 325.4 426.1 326.2 426.3 327 426 327.9 426.3 328.7 427.2 329.5 426.1 330.3 426.5 331.1 426 331.9 426.3 332.8 425.8 333.6 426.5 334.4 427.2 335.2 426.5 336 426.1 336.8 426.5 337.7 426.5 338.5 425.7 339.3 426.4 340.1 425.9 340.9 426.3 341.8 426.9 342.6 426.7 343.4 426.5 344.2 426.2 345 426.7 345.8 426.9 346.7 426.8 347.5 426.6 348.3 426.7 349.1 426.6 349.9 425.6 350.7 426.2 351.6 426.7 352.4 426.3 353.2 425.7 354 426.1 354.8 426.4 355.6 426.9 356.5 427 357.3 426.5 358.1 426.4 358.9 427 359.7 426.9 360.6 426.4 361.4 427.2 362.2 427 363 426.4 363.8 426.1 364.6 426.2 365.5 425.9 366.3 425.7 367.1 426 367.9 426.5 368.7 425.5 369.5 425.7 370.4 426 371.2 426.7 372 426.2 372.8 427.2 373.6 426.5 374.5 427.4 375.3 426.5 376.1 425.9 376.9 426.3 377.7 425.7 378.5 426.3 379.4 426.3 380.2 426.5 381 426.1 381.8 426.4 382.6 425.9 383.4 425.7 384.3 426.2 385.1 426.8 385.9 426.1 386.7 425.8 387.5 426.1 388.4 426.2 389.2 426 390 425.8 390.8 427.4 391.6 425.7 392.4 426 393.3 426.1 394.1 426.6 394.9 426.2 395.7 426.1 396.5 426.9 397.3 426 398.2 426.3 399 425.7 399.8 426.1 400.6 426.4 401.4 426.3 402.2 426.1 403.1 426.3 403.9 426.1 404.7 426.6 405.5 426.8 406.3 426.6 407.2 426.9 408 426.7 408.8 426.2 409.6 427 410.4 426.8 411.2 426 412.1 426.6 412.9 426.3 413.7 426.8 414.5 426.8 415.3 426.5 416.1 425.7 417 426.2 417.8 427 418.6 426.2 419.4 426 420.2 426.1 421.1 426.8 421.9 426.4 422.7 425.5 423.5 426.7 424.3 426.2 425.1 426.6 426 426.9 426.8 426.5 427.6 425.9 428.4 425.9 429.2 426.7 430 426.5 430.9 426.7 431.7 427.2 432.5 426.1 433.3 425.7 434.1 425.7 434.9 426.5 435.8 425.8 436.6 425.9 437.4 426.5 438.2 426.3 439 426.5 439.9 426.2 440.7 425.6 441.5 426.7 442.3 426.8 443.1 426 443.9 426.3 444.8 427.1 445.6 426.7 446.4 426.7 447.2 426.6 448 426.2 448.8 425.9 449.7 426.4 450.5 426.3 451.3 426.6 452.1 425.9 452.9 425.8 453.8 426.4 454.6 426.6 455.4 425.5 456.2 426 457 426.7 457.8 427 458.7 426.4 459.5 425.8 460.3 426.6 461.1 426.4 461.9 426.5 462.7 426.1 463.6 425.8 464.4 426.8 465.2 426.4 466 426.4 466.8 426.6 467.6 426.8 468.5 426 469.3 426.3 470.1 426" stroke="#b07ae0" stroke-width="5"/>
<path d="M88.6 36.3 89.1 52.8 90 69.6 90.8 87.4 91.6 103.2 92.4 118.1 93.2 133.1 94 148.2 94.9 158.7 95.7 172.6 96.5 185.7 97.3 198 98.1 207.1 99 216.9 99.8 226.6 100.6 235.9 101.4 246.1 102.2 253.9 103 263.7 103.9 270.2 104.7 277 105.5 285.2 106.3 291.6 107.1 297.8 107.9 303.9 108.8 308.8 109.6 316.1 110.4 319.7 111.2 326.5 112 330.9 112.9 335.5 113.7 339.4 114.5 343.8 115.3 347.2 116.1 351.2 116.9 353.5 117.8 358 118.6 361.6 119.4 364.4 120.2 367.2 121 370.4 121.8 373.6 122.7 376 123.5 377.9 124.3 379.9 125.1 382.3 125.9 384.7 126.8 386.4 127.6 388.8 128.4 390.3 129.2 391.4 130 393.2 130.8 394.7 131.7 397 132.5 398.2 133.3 400.1 134.1 400.5 134.9 402.4 135.7 403.9 136.6 404.7 137.4 405.4 138.2 407.5 139 408.1 139.8 408 140.6 409.3 141.5 410.2 142.3 411.7 143.1 411.1 143.9 412.1 144.7 412.9 145.6 414.3 146.4 414.2 147.2 414.6 148 415.8 148.8 416.3 149.6 416.9 150.5 416.9 151.3 417.7 152.1 418.2 152.9 419.1 153.7 419.6 154.5 419 155.4 419.1 156.2 419.7 157 419.8 157.8 420.9 158.6 421 159.4 421.1 160.3 421.6 161.1 421.2 161.9 422.5 162.7 422.5 163.5 422.7 164.4 423 165.2 422.7 166 423.9 166.8 423 167.6 423.2 168.4 423.6 169.3 423.4 170.1 423.2 170.9 424.1 171.7 424 172.5 424.3 173.3 424.4 174.2 424.8 175 425 175.8 424.7 176.6 425.2 177.4 424.8 178.3 424.9 179.1 425.4 179.9 425.3 180.7 425.4 181.5 425.6 182.3 425.2 183.2 425.7 184 425.7 184.8 426.5 185.6 425.7 186.4 426.4 187.2 426.1 188.1 425.5 188.9 425.5 189.7 426.3 190.5 426.6 191.3 426.1 192.1 426.4 193 426.2 193.8 426.8 194.6 426 195.4 425.9 196.2 426.9 197.1 426.7 197.9 426.7 198.7 426.3 199.5 427.2 200.3 426.5 201.1 426.7 202 426.9 202.8 426.4 203.6 427.3 204.4 427.1 205.2 427 206 426.5 206.9 426.9 207.7 427 208.5 426.6 209.3 427 210.1 427 211 426.9 211.8 426.7 212.6 426 213.4 427.2 214.2 426.8 215 426.9 215.9 427 216.7 426.4 217.5 426.7 218.3 426.7 219.1 427.1 219.9 427.2 220.8 426.9 221.6 427.1 222.4 427.2 223.2 426.8 224 427.4 224.8 427.2 225.7 426.7 226.5 427 227.3 426.8 228.1 427.3 228.9 426.8 229.8 427.2 230.6 426.6 231.4 426.8 232.2 426.9 233 426.5 233.8 426.9 234.7 427.2 235.5 426.6 236.3 426.9 237.1 426.7 237.9 427 238.7 426.7 239.6 427.3 240.4 427.5 241.2 427.5 242 426.8 242.8 427.7 243.7 427.6 244.5 427.5 245.3 427 246.1 426.9 246.9 427.3 247.7 426.8 248.6 427 249.4 426.7 250.2 426.8 251 427.3 251.8 427 252.6 427.1 253.5 426.9 254.3 427 255.1 427.1 255.9 426.9 256.7 427.1 257.5 426.9 258.4 427.1 259.2 427.1 260 426.8 260.8 426.8 261.6 426.7 262.5 426.9 263.3 427.2 264.1 427 264.9 427 265.7 427.6 266.5 427.4 267.4 426.6 268.2 427.1 269 428 269.8 427.1 270.6 427 271.4 427.5 272.3 426.4 273.1 426.7 273.9 426.8 274.7 427.2 275.5 426.9 276.4 426.8 277.2 426.9 278 427.3 278.8 427 279.6 427.1 280.4 427 281.3 427.4 282.1 427 282.9 427.1 283.7 427 284.5 427 285.3 427.6 286.2 426.8 287 426.9 287.8 427.5 288.6 427.1 289.4 427.4 290.2 427.2 291.1 426.8 291.9 426.9 292.7 426.5 293.5 427.1 294.3 427.5 295.2 427.1 296 427.9 296.8 426.5 297.6 427 298.4 427 299.2 427.1 300.1 427.4 300.9 427.2 301.7 427.4 302.5 427.3 303.3 427 304.1 427.5 305 426.6 305.8 427.5 306.6 426.9 307.4 427.3 308.2 427.5 309.1 427 309.9 427.1 310.7 427.2 311.5 427.1 312.3 427.3 313.1 427 314 427.3 314.8 427.1 315.6 426.8 316.4 427.6 317.2 427.3 318 427.4 318.9 427.4 319.7 427.6 320.5 427.2 321.3 427.1 322.1 427.2 322.9 427.6 323.8 426.9 324.6 426.9 325.4 427.1 326.2 427.5 327 427.4 327.9 426.5 328.7 426.6 329.5 427 330.3 427.4 331.1 426.8 331.9 427.1 332.8 426.6 333.6 427.3 334.4 427 335.2 427.2 336 426.9 336.8 427.3 337.7 426.9 338.5 427.3 339.3 427.4 340.1 427 340.9 427.1 341.8 427.8 342.6 427.2 343.4 427.1 344.2 427.1 345 426.5 345.8 427.4 346.7 427.2 347.5 427.7 348.3 427.6 349.1 427.3 349.9 427.2 350.7 427.2 351.6 427 352.4 426.9 353.2 426.8 354 427.2 354.8 427 355.6 427.4 356.5 427 357.3 427 358.1 427.3 358.9 428.2 359.7 427.4 360.6 426.3 361.4 427.2 362.2 427.4 363 427.1 363.8 426.8 364.6 427 365.5 427.2 366.3 427.6 367.1 427.2 367.9 427.5 368.7 427 369.5 426.7 370.4 426.8 371.2 427.3 372 427.5 372.8 427.6 373.6 427 374.5 427 375.3 426.9 376.1 427 376.9 427.5 377.7 427.8 378.5 426.8 379.4 427.4 380.2 426.6 381 427.8 381.8 427.5 382.6 427.5 383.4 427.1 384.3 426.9 385.1 427.3 385.9 427 386.7 427.6 387.5 427.3 388.4 427.5 389.2 427.3 390 427.4 390.8 427.1 391.6 426.1 392.4 427.6 393.3 427.2 394.1 426.9 394.9 427.1 395.7 426.7 396.5 427.5 397.3 426.9 398.2 427.4 399 426.9 399.8 427.1 400.6 427.1 401.4 427.3 402.2 427.7 403.1 427.5 403.9 426.9 404.7 427.2 405.5 426.9 406.3 427.6 407.2 427 408 426.8 408.8 427.9 409.6 427.1 410.4 426.5 411.2 427.4 412.1 426.8 412.9 427.1 413.7 426.9 414.5 427.3 415.3 427.4 416.1 427.3 417 427.3 417.8 427.3 418.6 427.4 419.4 426.8 420.2 427.3 421.1 427.5 421.9 427.5 422.7 427 423.5 427.9 424.3 427 425.1 426.9 426 426.8 426.8 427.3 427.6 427.4 428.4 427.1 429.2 427.1 430 426.7 430.9 427.1 431.7 427.3 432.5 427.6 433.3 427.2 434.1 427.1 434.9 426.8 435.8 427.1 436.6 426.7 437.4 426.8 438.2 427.4 439 427.5 439.9 427.4 440.7 427.2 441.5 427.4 442.3 426.9 443.1 426.9 443.9 426.8 444.8 427.1 445.6 427.3 446.4 427 447.2 427.4 448 427.1 448.8 427.4 449.7 426.8 450.5 428 451.3 426.9 452.1 426.9 452.9 427.2 453.8 427 454.6 427.1 455.4 426.7 456.2 426.6 457 427.1 457.8 426.6 458.7 427.4 459.5 427 460.3 427 461.1 427.6 461.9 427 462.7 427.4 463.6 426.9 464.4 427.4 465.2 427.7 466 427.6 466.8 427.1 467.6 427.1 468.5 427 469.3 427.4 470.1 426.9" stroke="#c8960a" stroke-width="5"/>
<path d="M88.6 36.3 89.1 52.5 90 70.4 90.8 89.6 91.6 108.4 92.4 122.2 93.2 138.4 94 153.4 94.9 165.9 95.7 180.8 96.5 192.3 97.3 204.7 98.1 214 99 228.4 99.8 237 100.6 246.6 101.4 255.3 102.2 265.2 103 273.7 103.9 280.1 104.7 288.9 105.5 295.5 106.3 302.5 107.1 308.6 107.9 315.9 108.8 321.1 109.6 326.3 110.4 331.5 111.2 335.8 112 340.9 112.9 345.3 113.7 349.9 114.5 353.2 115.3 358.1 116.1 361.5 116.9 365.7 117.8 368.7 118.6 370.8 119.4 374.2 120.2 378 121 379.7 121.8 382.3 122.7 385.2 123.5 386.7 124.3 389.2 125.1 391.1 125.9 392.6 126.8 395.2 127.6 396.2 128.4 398.5 129.2 400.1 130 400.9 130.8 402.7 131.7 404.5 132.5 405.6 133.3 406.7 134.1 408.6 134.9 408.8 135.7 410.1 136.6 411.7 137.4 412.5 138.2 412.6 139 414.3 139.8 413.8 140.6 415.8 141.5 416.1 142.3 417.8 143.1 417.5 143.9 418.3 144.7 418.5 145.6 419.2 146.4 419.9 147.2 419.5 148 420.5 148.8 421.5 149.6 421.6 150.5 423.1 151.3 422.7 152.1 422.5 152.9 423.4 153.7 423.5 154.5 424.3 155.4 423.9 156.2 424.5 157 424.8 157.8 424.7 158.6 424.7 159.4 425.2 160.3 426.3 161.1 425.8 161.9 426.1 162.7 426.7 163.5 427 164.4 426.8 165.2 427 166 427 166.8 427.4 167.6 427.2 168.4 427.3 169.3 427.6 170.1 427.6 170.9 428 171.7 428.4 172.5 428 173.3 427.8 174.2 427.4 175 428.9 175.8 428.5 176.6 428.7 177.4 428.4 178.3 428.9 179.1 428.6 179.9 428.4 180.7 429 181.5 428.9 182.3 428.4 183.2 428.7 184 429.5 184.8 428.4 185.6 429.3 186.4 429 187.2 429.3 188.1 429.3 188.9 429.4 189.7 429.1 190.5 429.5 191.3 429.7 192.1 429.5 193 429.4 193.8 430 194.6 429.2 195.4 429.7 196.2 429.3 197.1 429.1 197.9 429.5 198.7 429.4 199.5 429.7 200.3 429.8 201.1 430.2 202 429.7 202.8 429.8 203.6 430.3 204.4 429.6 205.2 429.3 206 429.6 206.9 429.4 207.7 429.8 208.5 430 209.3 429.7 210.1 429.8 211 430.1 211.8 429.5 212.6 429.7 213.4 430 214.2 429.7 215 429.8 215.9 429.6 216.7 429.4 217.5 430 218.3 430.2 219.1 429.4 219.9 429.2 220.8 430 221.6 430.1 222.4 430.2 223.2 429.9 224 429.8 224.8 429.9 225.7 429.6 226.5 430.1 227.3 430 228.1 430.2 228.9 429.5 229.8 429.6 230.6 429.5 231.4 430.1 232.2 429.5 233 429.8 233.8 429.7 234.7 429.7 235.5 430 236.3 429.9 237.1 430.3 237.9 430 238.7 430 239.6 430.2 240.4 429.9 241.2 429.5 242 430 242.8 430.2 243.7 430.1 244.5 429.8 245.3 429.4 246.1 429.9 246.9 429.9 247.7 430.3 248.6 429.8 249.4 429.7 250.2 430 251 429.9 251.8 430.1 252.6 429.7 253.5 429.5 254.3 429.8 255.1 429.8 255.9 429.9 256.7 430.1 257.5 430.1 258.4 430 259.2 429.9 260 429.9 260.8 429.6 261.6 429.7 262.5 429.5 263.3 429.7 264.1 430 264.9 429.9 265.7 430.4 266.5 429.4 267.4 430.1 268.2 430 269 429.4 269.8 430.2 270.6 430.1 271.4 429.9 272.3 430.1 273.1 429.9 273.9 429.8 274.7 429.7 275.5 429.9 276.4 429.7 277.2 430 278 429.7 278.8 429.6 279.6 430.4 280.4 430 281.3 429.9 282.1 430.4 282.9 430.8 283.7 429.8 284.5 430.1 285.3 429.7 286.2 429.9 287 429.9 287.8 430 288.6 429.9 289.4 430.2 290.2 430.1 291.1 429.7 291.9 430 292.7 429.8 293.5 429.9 294.3 430 295.2 430.2 296 429.7 296.8 430.1 297.6 429.8 298.4 430.4 299.2 429.8 300.1 429.8 300.9 430.1 301.7 430.4 302.5 430 303.3 429.9 304.1 430.1 305 430.1 305.8 429.7 306.6 429.9 307.4 430 308.2 429.7 309.1 429.9 309.9 430.1 310.7 429.7 311.5 430 312.3 429.7 313.1 430.1 314 429.8 314.8 429.6 315.6 429.8 316.4 429.8 317.2 429.8 318 429.7 318.9 429.9 319.7 429.8 320.5 430 321.3 429.4 322.1 430.2 322.9 429.7 323.8 430.2 324.6 429.8 325.4 429.6 326.2 430.2 327 429.4 327.9 430.2 328.7 430.1 329.5 429.8 330.3 430.2 331.1 429.6 331.9 429.8 332.8 430.7 333.6 430.3 334.4 430.1 335.2 429.8 336 430.2 336.8 430.1 337.7 429.7 338.5 430.2 339.3 429.8 340.1 430.3 340.9 429.6 341.8 429.5 342.6 430.2 343.4 430.6 344.2 430.4 345 429.7 345.8 430.1 346.7 429.6 347.5 430.3 348.3 430.2 349.1 430 349.9 429.6 350.7 430 351.6 430.2 352.4 429.8 353.2 429.9 354 429.8 354.8 430 355.6 430.1 356.5 429.9 357.3 430.6 358.1 429.8 358.9 429.6 359.7 429.8 360.6 430.2 361.4 430.3 362.2 429.6 363 430.1 363.8 430 364.6 429.9 365.5 430.1 366.3 429.9 367.1 429.5 367.9 430.1 368.7 429.4 369.5 429.8 370.4 429.8 371.2 429.7 372 429.7 372.8 429.6 373.6 429.8 374.5 430.1 375.3 429.5 376.1 430 376.9 430.2 377.7 429.7 378.5 429.7 379.4 429.9 380.2 429.9 381 429.8 381.8 429.4 382.6 429.9 383.4 430.3 384.3 430.1 385.1 429.8 385.9 430 386.7 430.1 387.5 429.7 388.4 429.7 389.2 430 390 429.8 390.8 430.1 391.6 430.1 392.4 430 393.3 430.3 394.1 429.8 394.9 429.9 395.7 430.1 396.5 429.9 397.3 429.9 398.2 430.1 399 430.1 399.8 430.1 400.6 429.6 401.4 430.4 402.2 430 403.1 429.7 403.9 430.2 404.7 430.2 405.5 430.2 406.3 430.4 407.2 429.6 408 430 408.8 430.2 409.6 430.1 410.4 429.9 411.2 430 412.1 430.2 412.9 429.8 413.7 430.2 414.5 430.1 415.3 429.9 416.1 430.2 417 429.9 417.8 430.1 418.6 429.2 419.4 430.1 420.2 429.8 421.1 430.2 421.9 430.3 422.7 430 423.5 430.1 424.3 430.1 425.1 430 426 429.7 426.8 429.4 427.6 429.4 428.4 429.9 429.2 429.5 430 429.5 430.9 430.1 431.7 430.1 432.5 430 433.3 429.4 434.1 430 434.9 430 435.8 429.6 436.6 430 437.4 430 438.2 429.8 439 429.9 439.9 430.6 440.7 430.3 441.5 429.8 442.3 430.4 443.1 429.6 443.9 430 444.8 429.9 445.6 429.9 446.4 430.5 447.2 430.2 448 430.3 448.8 429.9 449.7 429.6 450.5 430 451.3 430 452.1 430.5 452.9 430.1 453.8 430 454.6 430 455.4 429.8 456.2 429.6 457 430 457.8 429.9 458.7 430.4 459.5 429.8 460.3 430 461.1 430.5 461.9 429.9 462.7 430.2 463.6 429.7 464.4 429.8 465.2 430 466 429.5 466.8 430 467.6 430.1 468.5 430 469.3 429.9 470.1 430.2" stroke="#1cc4c4" stroke-width="5"/>
<path d="M88.6 36.3 89.1 53.1 90 74.9 90.8 95.5 91.6 111.5 92.4 129 93.2 145.9 94 161.5 94.9 175.6 95.7 190.8 96.5 202.8 97.3 216.7 98.1 229 99 239.3 99.8 250 100.6 259.3 101.4 267.6 102.2 277.4 103 285.3 103.9 292.4 104.7 300 105.5 308.1 106.3 315.2 107.1 319.6 107.9 327.5 108.8 333.5 109.6 338.8 110.4 341.8 111.2 348.1 112 351.7 112.9 355.8 113.7 358.9 114.5 364.1 115.3 366.8 116.1 370 116.9 372.5 117.8 376.3 118.6 378.8 119.4 381.7 120.2 383.5 121 385.9 121.8 388.8 122.7 390.4 123.5 393.3 124.3 394.4 125.1 396.6 125.9 398 126.8 398.9 127.6 399.9 128.4 402.2 129.2 403.6 130 404.9 130.8 405.6 131.7 407.1 132.5 407.7 133.3 408.4 134.1 409.7 134.9 411 135.7 411.4 136.6 412.8 137.4 413.9 138.2 413.4 139 413.8 139.8 414.7 140.6 415.9 141.5 417.6 142.3 417.1 143.1 417.1 143.9 417.9 144.7 417.7 145.6 418.9 146.4 418.8 147.2 419.3 148 419.6 148.8 420.6 149.6 420.4 150.5 420.6 151.3 421.1 152.1 421.7 152.9 421.6 153.7 422 154.5 421.8 155.4 421.8 156.2 422.2 157 422.4 157.8 422.7 158.6 422.8 159.4 423.7 160.3 423.1 161.1 423 161.9 423.6 162.7 423.3 163.5 424.2 164.4 423.7 165.2 423.9 166 423.8 166.8 424 167.6 423.4 168.4 425.3 169.3 424.8 170.1 424.6 170.9 424.4 171.7 424.7 172.5 424.8 173.3 425.2 174.2 425.1 175 425 175.8 424.3 176.6 425.1 177.4 423.9 178.3 424.5 179.1 425 179.9 424.7 180.7 424.7 181.5 425.5 182.3 425.6 183.2 424.6 184 425.5 184.8 424.9 185.6 425 186.4 425.8 187.2 425 188.1 425.1 188.9 424.8 189.7 425.3 190.5 425.2 191.3 425.2 192.1 425.4 193 424.8 193.8 425 194.6 424.9 195.4 425.3 196.2 425 197.1 425.7 197.9 425.6 198.7 425.1 199.5 425.5 200.3 425.6 201.1 425.4 202 426 202.8 425.4 203.6 425.3 204.4 425.6 205.2 425.9 206 424.9 206.9 425.4 207.7 425.9 208.5 425.7 209.3 426.1 210.1 426.1 211 426.2 211.8 425.8 212.6 425.4 213.4 425.3 214.2 425.6 215 425.2 215.9 425.4 216.7 425.9 217.5 425.8 218.3 425.5 219.1 425.3 219.9 425.2 220.8 426 221.6 426.2 222.4 424.9 223.2 425.7 224 425.2 224.8 425.6 225.7 426 226.5 425.1 227.3 425.4 228.1 425.1 228.9 425.4 229.8 425.9 230.6 425.6 231.4 425.2 232.2 425.8 233 425.5 233.8 425.2 234.7 426 235.5 425.7 236.3 425.5 237.1 425.3 237.9 425.6 238.7 425.8 239.6 425.4 240.4 425.8 241.2 425.4 242 425.5 242.8 425.6 243.7 425.3 244.5 425.2 245.3 426 246.1 425.4 246.9 425.6 247.7 425.7 248.6 425.6 249.4 425.2 250.2 425.6 251 425.7 251.8 426 252.6 425.6 253.5 425.6 254.3 425.9 255.1 425.7 255.9 425.4 256.7 425.1 257.5 425.7 258.4 424.9 259.2 425.2 260 425.3 260.8 425.4 261.6 425.5 262.5 425.8 263.3 425.6 264.1 425.5 264.9 425.5 265.7 425.1 266.5 424.9 267.4 425.4 268.2 425.2 269 425.8 269.8 426.2 270.6 425.6 271.4 425.5 272.3 425.1 273.1 424.8 273.9 425.5 274.7 425.1 275.5 425.2 276.4 425.5 277.2 425.3 278 425.4 278.8 425 279.6 425.9 280.4 426.3 281.3 425.5 282.1 425.2 282.9 425.2 283.7 425.7 284.5 425.4 285.3 425.8 286.2 425.3 287 425.8 287.8 425.9 288.6 425.2 289.4 426 290.2 426 291.1 425.3 291.9 425.5 292.7 426.3 293.5 425.2 294.3 426 295.2 425.7 296 425.6 296.8 424.9 297.6 425.6 298.4 425.3 299.2 425.6 300.1 425.4 300.9 426 301.7 425.6 302.5 425.8 303.3 425.9 304.1 425.5 305 425.2 305.8 425.4 306.6 425.7 307.4 425.3 308.2 425.9 309.1 425.4 309.9 425.4 310.7 425.6 311.5 425.6 312.3 425.5 313.1 425.7 314 425.6 314.8 425.3 315.6 426.2 316.4 425.1 317.2 425.4 318 425.5 318.9 425.9 319.7 425.7 320.5 425.7 321.3 425.3 322.1 425.3 322.9 425.2 323.8 425.5 324.6 426.2 325.4 425.9 326.2 425.7 327 425.4 327.9 426.1 328.7 425.6 329.5 425.5 330.3 425.8 331.1 425.6 331.9 424.8 332.8 425.6 333.6 424.9 334.4 425.5 335.2 425.8 336 425.4 336.8 425.7 337.7 425.6 338.5 426.3 339.3 425.4 340.1 425.8 340.9 425.2 341.8 425.5 342.6 425.7 343.4 425.9 344.2 425.6 345 425.7 345.8 425.8 346.7 425 347.5 425.6 348.3 425.3 349.1 425.1 349.9 425.4 350.7 425.4 351.6 425.4 352.4 425.3 353.2 425.4 354 425.4 354.8 425.5 355.6 425.7 356.5 425.7 357.3 425.8 358.1 425.5 358.9 425.1 359.7 425.9 360.6 425.8 361.4 425.9 362.2 425.6 363 425.2 363.8 425.7 364.6 425.5 365.5 426.3 366.3 425.6 367.1 425.4 367.9 425.8 368.7 426.1 369.5 425.4 370.4 425.6 371.2 425 372 425.8 372.8 425.6 373.6 425.7 374.5 425.5 375.3 426.2 376.1 425.1 376.9 425.4 377.7 425.6 378.5 425.7 379.4 425.4 380.2 425.5 381 425.7 381.8 425.6 382.6 425.5 383.4 425.7 384.3 425.7 385.1 425.7 385.9 425.7 386.7 426 387.5 425.9 388.4 425.5 389.2 425.3 390 425.6 390.8 426.7 391.6 426.1 392.4 425.4 393.3 425 394.1 425.2 394.9 425.6 395.7 425.7 396.5 425.7 397.3 425 398.2 425.5 399 425.9 399.8 425.3 400.6 425.3 401.4 426.2 402.2 425.8 403.1 425.2 403.9 425.3 404.7 426 405.5 425.6 406.3 425.3 407.2 425.5 408 425.9 408.8 425.6 409.6 425.4 410.4 425.4 411.2 425.9 412.1 424.8 412.9 425.5 413.7 426.1 414.5 425.7 415.3 426.5 416.1 425.8 417 425.6 417.8 424.8 418.6 425.5 419.4 425.4 420.2 425.3 421.1 425.5 421.9 425.8 422.7 425.1 423.5 425.4 424.3 425.1 425.1 425.2 426 425.9 426.8 425.7 427.6 425.7 428.4 425.7 429.2 425.4 430 425.6 430.9 425.8 431.7 425.1 432.5 425.1 433.3 425.5 434.1 425.9 434.9 425.8 435.8 425.8 436.6 425.8 437.4 425.9 438.2 425.5 439 425.5 439.9 425.4 440.7 425.9 441.5 425.5 442.3 424.9 443.1 425.5 443.9 425.7 444.8 424.7 445.6 425.5 446.4 425.8 447.2 425.3 448 425.8 448.8 425.7 449.7 425.2 450.5 425.8 451.3 426 452.1 425.3 452.9 425.3 453.8 426 454.6 425.7 455.4 425.2 456.2 425.5 457 425.3 457.8 425.6 458.7 425.8 459.5 425.7 460.3 425.7 461.1 425.5 461.9 426.4 462.7 426.2 463.6 425.5 464.4 425.3 465.2 425.8 466 425.5 466.8 425.9 467.6 426 468.5 425.5 469.3 425.6 470.1 425.7" stroke="#7a4c48" stroke-width="5"/>
<path d="M88.6 36.3 89.1 54.7 90 77.9 90.8 99.7 91.6 119.9 92.4 139.1 93.2 156.2 94 173.1 94.9 187.6 95.7 202.7 96.5 217.7 97.3 231.6 98.1 242.4 99 254.7 99.8 263.9 100.6 276.1 101.4 284.8 102.2 292.2 103 301.6 103.9 308.9 104.7 316.3 105.5 323.9 106.3 329.5 107.1 336.5 107.9 341.9 108.8 345.7 109.6 352.1 110.4 356.4 111.2 361.6 112 364.4 112.9 369.5 113.7 373 114.5 376.3 115.3 379.7 116.1 382.9 116.9 385.1 117.8 387.9 118.6 390.1 119.4 392.9 120.2 395 121 396.8 121.8 398.5 122.7 400.7 123.5 402 124.3 403.7 125.1 404.6 125.9 406.2 126.8 407.6 127.6 408.6 128.4 410.4 129.2 410.7 130 412.1 130.8 413.4 131.7 413.9 132.5 415.3 133.3 415 134.1 416.3 134.9 417.7 135.7 418.2 136.6 418.5 137.4 419.1 138.2 419.3 139 419.6 139.8 420.1 140.6 420.7 141.5 421.6 142.3 421.3 143.1 421.6 143.9 423 144.7 422.9 145.6 423.1 146.4 423.5 147.2 423.2 148 423.6 148.8 424 149.6 424.6 150.5 425.1 151.3 424.9 152.1 425.1 152.9 425.3 153.7 425.8 154.5 425.8 155.4 425.6 156.2 425.5 157 425.9 157.8 425.9 158.6 425.9 159.4 426 160.3 425.7 161.1 426.4 161.9 426.2 162.7 426.8 163.5 426.1 164.4 426.3 165.2 426.3 166 426.6 166.8 426.7 167.6 427.1 168.4 426.7 169.3 426.4 170.1 427.7 170.9 426.4 171.7 427.2 172.5 426.8 173.3 427.3 174.2 427.1 175 426.8 175.8 427.2 176.6 426.6 177.4 427.2 178.3 427 179.1 427.4 179.9 427.4 180.7 427.4 181.5 427.1 182.3 426.8 183.2 427.3 184 427.7 184.8 427.5 185.6 427.8 186.4 427.2 187.2 427.4 188.1 427.7 188.9 427.5 189.7 427.1 190.5 427.3 191.3 427.6 192.1 427.2 193 427.3 193.8 427.6 194.6 427.4 195.4 426.9 196.2 427.8 197.1 427.2 197.9 427.5 198.7 427.3 199.5 427.4 200.3 427.4 201.1 427.5 202 427.5 202.8 427.3 203.6 427.4 204.4 427.9 205.2 427.4 206 427.1 206.9 427.2 207.7 427.4 208.5 428.1 209.3 427.3 210.1 427.3 211 427.1 211.8 427.8 212.6 427.6 213.4 427.7 214.2 427.6 215 428.1 215.9 427.7 216.7 427.7 217.5 427.6 218.3 427 219.1 427.7 219.9 427.7 220.8 427.2 221.6 427.7 222.4 427.2 223.2 427.4 224 427.7 224.8 427.8 225.7 427.5 226.5 427.6 227.3 427.5 228.1 427.7 228.9 427.4 229.8 427.7 230.6 427.7 231.4 427.6 232.2 427.9 233 427.6 233.8 427.6 234.7 428 235.5 428.1 236.3 427.2 237.1 427.6 237.9 427.6 238.7 427.7 239.6 427.1 240.4 427.6 241.2 428.1 242 427.4 242.8 427.8 243.7 427.4 244.5 427.6 245.3 427.2 246.1 427.4 246.9 427.7 247.7 427.1 248.6 426.7 249.4 427.7 250.2 427.2 251 427.4 251.8 427.4 252.6 427.9 253.5 427.8 254.3 427.1 255.1 427.5 255.9 427.7 256.7 427 257.5 427.2 258.4 427.3 259.2 427.8 260 427.5 260.8 427.1 261.6 428.2 262.5 428 263.3 427.8 264.1 427.2 264.9 427.5 265.7 427.4 266.5 427.5 267.4 427.5 268.2 427.2 269 426.4 269.8 427.4 270.6 427.1 271.4 427.7 272.3 427.1 273.1 427.5 273.9 427.5 274.7 427.7 275.5 427.8 276.4 427.7 277.2 427.8 278 427.9 278.8 427 279.6 427.4 280.4 427.2 281.3 427.4 282.1 428 282.9 427.5 283.7 427.8 284.5 427.8 285.3 427.6 286.2 427.5 287 427.5 287.8 427.5 288.6 427.6 289.4 427.5 290.2 427.2 291.1 426.9 291.9 427.2 292.7 427.6 293.5 427.4 294.3 427.2 295.2 427.2 296 427.2 296.8 427.2 297.6 427.4 298.4 427.6 299.2 428 300.1 427.2 300.9 427.4 301.7 427.8 302.5 427.5 303.3 427.7 304.1 427.7 305 427 305.8 427.7 306.6 426.8 307.4 427.6 308.2 427.8 309.1 427.5 309.9 426.8 310.7 427.6 311.5 427.4 312.3 428.2 313.1 427.4 314 428 314.8 427.6 315.6 427.1 316.4 427.6 317.2 427.3 318 427.6 318.9 427.7 319.7 427.5 320.5 427.2 321.3 427.5 322.1 427.6 322.9 427.8 323.8 428.1 324.6 427.5 325.4 427.6 326.2 427.5 327 427.2 327.9 427.3 328.7 427.8 329.5 427.5 330.3 427.5 331.1 427.6 331.9 428.2 332.8 427.8 333.6 427.6 334.4 427.3 335.2 427.6 336 428 336.8 427.1 337.7 427.6 338.5 427.7 339.3 427.4 340.1 427.3 340.9 427.6 341.8 427.7 342.6 427.7 343.4 427.3 344.2 427.6 345 427.4 345.8 428.1 346.7 427.7 347.5 427.7 348.3 427.7 349.1 428.2 349.9 427.7 350.7 427.1 351.6 427.5 352.4 427.7 353.2 427.8 354 428 354.8 427.5 355.6 427.8 356.5 427.7 357.3 427.3 358.1 427.3 358.9 427.4 359.7 428.1 360.6 427.7 361.4 427.2 362.2 427.9 363 427.2 363.8 427.6 364.6 427.3 365.5 427.7 366.3 427.9 367.1 427.9 367.9 427.1 368.7 427.7 369.5 427.9 370.4 427.3 371.2 428 372 427.6 372.8 427.5 373.6 427.5 374.5 427.4 375.3 427.6 376.1 428.3 376.9 427.5 377.7 427.6 378.5 427.6 379.4 427.4 380.2 427.3 381 427.5 381.8 427.1 382.6 426.9 383.4 427.5 384.3 427.7 385.1 428 385.9 427.4 386.7 428.1 387.5 427 388.4 427.3 389.2 427.7 390 427.3 390.8 427.8 391.6 427.9 392.4 427.3 393.3 427.9 394.1 427.5 394.9 427.6 395.7 427.1 396.5 427.5 397.3 427.1 398.2 427.3 399 427.8 399.8 427.9 400.6 428.2 401.4 427.6 402.2 428.4 403.1 427.8 403.9 428.3 404.7 427.8 405.5 427.3 406.3 427.8 407.2 427.7 408 427.7 408.8 427.5 409.6 428 410.4 427.5 411.2 427.6 412.1 427.9 412.9 427.9 413.7 427.2 414.5 427.3 415.3 427.4 416.1 427.8 417 427.7 417.8 428 418.6 428.1 419.4 427.7 420.2 427.8 421.1 428 421.9 427.9 422.7 427.5 423.5 427.7 424.3 428.1 425.1 426.9 426 428.1 426.8 427.5 427.6 427.9 428.4 427.4 429.2 427.5 430 427.3 430.9 427.6 431.7 427.8 432.5 427.1 433.3 427.6 434.1 427.6 434.9 427.6 435.8 427.8 436.6 427.5 437.4 427 438.2 427.1 439 427.5 439.9 427.4 440.7 427.3 441.5 427.8 442.3 427.1 443.1 427.5 443.9 428.1 444.8 427.4 445.6 427.9 446.4 427.5 447.2 427.4 448 427.7 448.8 427.5 449.7 427.1 450.5 428 451.3 428.2 452.1 427.6 452.9 427.6 453.8 426.9 454.6 427.3 455.4 427.4 456.2 427.6 457 428.2 457.8 428 458.7 427.7 459.5 427.5 460.3 427.7 461.1 427.5 461.9 427.4 462.7 427.8 463.6 427.7 464.4 427.9 465.2 427.2 466 428.2 466.8 427.4 467.6 427.3 468.5 428.2 469.3 427.7 470.1 427.2" stroke="#968f08" stroke-width="5"/>
</g>
<line x1="230.5" y1="68.3" x2="287.5" y2="68.3" stroke="#555555" stroke-width="3.6" stroke-linecap="round"/>
<text x="296.3" y="77" font-size="24.9" text-anchor="start" fill="#000">[Ni] = 0 M</text>
<line x1="230.5" y1="100.4" x2="287.5" y2="100.4" stroke="#f04040" stroke-width="3.6" stroke-linecap="round"/>
<text x="296.3" y="109.1" font-size="24.9" text-anchor="start" fill="#000">[Ni] = 25 &#181;M</text>
<line x1="230.5" y1="132.6" x2="287.5" y2="132.6" stroke="#1f6fe0" stroke-width="3.6" stroke-linecap="round"/>
<text x="296.3" y="141.3" font-size="24.9" text-anchor="start" fill="#000">[Ni] = 50 &#181;M</text>
<line x1="230.5" y1="164.8" x2="287.5" y2="164.8" stroke="#3aaa6a" stroke-width="3.6" stroke-linecap="round"/>
<text x="296.3" y="173.4" font-size="24.9" text-anchor="start" fill="#000">[Ni] = 75 &#181;M</text>
<line x1="230.5" y1="196.9" x2="287.5" y2="196.9" stroke="#b07ae0" stroke-width="3.6" stroke-linecap="round"/>
<text x="296.3" y="205.6" font-size="24.9" text-anchor="start" fill="#000">[Ni] = 100 &#181;M</text>
<line x1="230.5" y1="229.1" x2="287.5" y2="229.1" stroke="#c8960a" stroke-width="3.6" stroke-linecap="round"/>
<text x="296.3" y="237.8" font-size="24.9" text-anchor="start" fill="#000">[Ni] = 125 &#181;M</text>
<line x1="230.5" y1="261.2" x2="287.5" y2="261.2" stroke="#1cc4c4" stroke-width="3.6" stroke-linecap="round"/>
<text x="296.3" y="269.9" font-size="24.9" text-anchor="start" fill="#000">[Ni] = 150 &#181;M</text>
<line x1="230.5" y1="293.3" x2="287.5" y2="293.3" stroke="#7a4c48" stroke-width="3.6" stroke-linecap="round"/>
<text x="296.3" y="302" font-size="24.9" text-anchor="start" fill="#000">[Ni] = 175 &#181;M</text>
<line x1="230.5" y1="325.5" x2="287.5" y2="325.5" stroke="#968f08" stroke-width="3.6" stroke-linecap="round"/>
<text x="296.3" y="334.2" font-size="24.9" text-anchor="start" fill="#000">[Ni] = 200 &#181;M</text>
<text x="592.6" y="23.8" font-size="30" font-weight="bold">b</text>
<rect x="593.1" y="36.3" width="381" height="394.4" fill="none" stroke="#000" stroke-width="1.7"/>
<path d="M600.8 430.7v-18.6M600.8 36.3v18.6M683.7 430.7v-18.6M683.7 36.3v18.6M766.6 430.7v-18.6M766.6 36.3v18.6M849.6 430.7v-18.6M849.6 36.3v18.6M932.5 430.7v-18.6M932.5 36.3v18.6M642.3 430.7v-12.2M642.3 36.3v12.2M725.2 430.7v-12.2M725.2 36.3v12.2M808.1 430.7v-12.2M808.1 36.3v12.2M891 430.7v-12.2M891 36.3v12.2M593.1 413.7h18.6M974.1 413.7h-18.6M593.1 297.7h18.6M974.1 297.7h-18.6M593.1 181.7h18.6M974.1 181.7h-18.6M593.1 65.7h18.6M974.1 65.7h-18.6M593.1 355.7h12.2M974.1 355.7h-12.2M593.1 239.7h12.2M974.1 239.7h-12.2M593.1 123.7h12.2M974.1 123.7h-12.2" fill="none" stroke="#000" stroke-width="1.7"/>
<text x="600.8" y="469.7" text-anchor="middle" font-size="23">0.00</text>
<text x="683.7" y="469.7" text-anchor="middle" font-size="23">0.05</text>
<text x="766.6" y="469.7" text-anchor="middle" font-size="23">0.10</text>
<text x="849.6" y="469.7" text-anchor="middle" font-size="23">0.15</text>
<text x="932.5" y="469.7" text-anchor="middle" font-size="23">0.20</text>
<text x="580.8" y="421" text-anchor="end" font-size="23">1</text>
<text x="580.8" y="305" text-anchor="end" font-size="23">2</text>
<text x="580.8" y="189" text-anchor="end" font-size="23">3</text>
<text x="580.8" y="73" text-anchor="end" font-size="23">4</text>
<text x="604.6" y="516.4" font-size="28" textLength="357.5">Concentration of D<tspan dy="-11" font-size="19">s</tspan><tspan dy="11"> (mM L</tspan><tspan dy="-11" font-size="19">-1</tspan><tspan dy="11">)</tspan></text>
<g transform="translate(546.4 275.8) rotate(-90)" fill="#000">
<text x="0" y="0" font-size="28" font-style="italic">k</text>
<text x="16.4" y="8.5" font-size="18">obs</text>
<text x="43.3" y="0" font-size="28">/</text>
<text x="54.2" y="0" font-size="28" font-style="italic">k</text>
<text x="68.2" y="8.5" font-size="19">GSR</text>
</g>
<text x="650.3" y="94" font-size="21">8.16 x 10<tspan dy="-8.5" font-size="15.5">9</tspan><tspan dy="8.5"> M</tspan><tspan dy="-8.5" font-size="15.5">-1</tspan><tspan dy="8.5">s</tspan><tspan dy="-8.5" font-size="15.5">-1</tspan></text>
<text x="644.4" y="127.1" font-size="21">R<tspan dy="-8.5" font-size="15.5">2</tspan><tspan dy="8.5"> = 0.998</tspan></text>
<polyline points="600.8,413.7 642.3,375.4 683.7,340.6 725.2,301.8 766.6,240.3 808.1,168.4 849.6,149.8 891,95.3 932.5,70.3" fill="none" stroke="none" marker-start="url(#bk)" marker-mid="url(#bk)" marker-end="url(#bk)"/>
<line x1="600.8" y1="415.4" x2="932.5" y2="60.5" stroke="#ff0000" stroke-width="4" stroke-linecap="round"/>
<text x="1090.9" y="23.8" font-size="29.5" font-weight="bold">c</text>
<rect x="1092.1" y="36.3" width="381.2" height="394.4" fill="none" stroke="#000" stroke-width="1.7"/>
<path d="M1100.5 430.7v-18.6M1100.5 36.3v18.6M1183.3 430.7v-18.6M1183.3 36.3v18.6M1266 430.7v-18.6M1266 36.3v18.6M1348.7 430.7v-18.6M1348.7 36.3v18.6M1431.5 430.7v-18.6M1431.5 36.3v18.6M1141.9 430.7v-12.2M1141.9 36.3v12.2M1224.6 430.7v-12.2M1224.6 36.3v12.2M1307.4 430.7v-12.2M1307.4 36.3v12.2M1390.1 430.7v-12.2M1390.1 36.3v12.2M1092.1 420.5h18.6M1473.3 420.5h-18.6M1092.1 307.3h18.6M1473.3 307.3h-18.6M1092.1 194.1h18.6M1473.3 194.1h-18.6M1092.1 80.9h18.6M1473.3 80.9h-18.6M1092.1 363.9h12.2M1473.3 363.9h-12.2M1092.1 250.7h12.2M1473.3 250.7h-12.2M1092.1 137.5h12.2M1473.3 137.5h-12.2" fill="none" stroke="#000" stroke-width="1.7"/>
<text x="1100.5" y="469.7" text-anchor="middle" font-size="23">0.00</text>
<text x="1183.3" y="469.7" text-anchor="middle" font-size="23">0.05</text>
<text x="1266" y="469.7" text-anchor="middle" font-size="23">0.10</text>
<text x="1348.7" y="469.7" text-anchor="middle" font-size="23">0.15</text>
<text x="1431.5" y="469.7" text-anchor="middle" font-size="23">0.20</text>
<text x="1083.5" y="427.8" text-anchor="end" font-size="23">0</text>
<text x="1083.5" y="314.6" text-anchor="end" font-size="23">5</text>
<text x="1083.5" y="201.4" text-anchor="end" font-size="23">10</text>
<text x="1083.5" y="88.2" text-anchor="end" font-size="23">15</text>
<text x="1094.6" y="516.4" font-size="28" textLength="356.5">Concentration of D<tspan dy="-11" font-size="19">s</tspan><tspan dy="11"> (mM L</tspan><tspan dy="-11" font-size="19">-1</tspan><tspan dy="11">)</tspan></text>
<g transform="translate(1040 381.9) rotate(-90)" fill="#000">
<text x="-1.2" y="0" font-size="24">(</text>
<text x="6.2" y="0" font-size="28" font-style="italic">k</text>
<text x="19.8" y="7.7" font-size="19">obs</text>
<text x="59.7" y="0" font-size="28">-</text>
<text x="78.2" y="0" font-size="28" font-style="italic">k</text>
<text x="96.2" y="9.5" font-size="19.5">GSR,</text>
<text x="147.9" y="6" font-size="17.6">[Ir-F]</text>
<text x="188.7" y="0" font-size="24">)</text>
<text x="212" y="0" font-size="24">(</text>
<text x="219.6" y="0" font-size="17">x10</text>
<text x="247.2" y="-11" font-size="19">5</text>
<text x="262.2" y="0" font-size="19">s</text>
<text x="274" y="-11" font-size="17.5">-1</text>
<text x="288.3" y="0" font-size="24">)</text>
</g>
<text x="1095.2" y="71" font-size="22.4">Slope = <tspan font-style="italic">k</tspan><tspan dy="5" font-size="14">EnT</tspan><tspan dy="-5"> =</tspan></text>
<text x="1095.2" y="114.3" font-size="22.4">(7.95 &#177; 0.31) x 10<tspan dy="-9" font-size="19">9</tspan><tspan dy="9"> L mol</tspan><tspan dy="-9" font-size="19">-1</tspan><tspan dy="9"> s</tspan><tspan dy="-9" font-size="19">-1</tspan></text>
<text x="1114.6" y="153.5" font-size="22.4">R<tspan dy="-9" font-size="17">2</tspan><tspan dy="9"> = 0.989</tspan></text>
<polyline points="1100.5,419.4 1141.9,382 1183.3,345.8 1224.6,308.4 1266,248.4 1307.4,177.1 1348.7,159 1390.1,105.8 1431.5,80.9" fill="none" stroke="none" marker-start="url(#bk)" marker-mid="url(#bk)" marker-end="url(#bk)"/>
<line x1="1100.5" y1="425" x2="1431.5" y2="68.4" stroke="#ff0000" stroke-width="4" stroke-linecap="round"/>
<text x="1587.6" y="23" font-size="30.5" font-weight="bold">d</text>
<rect x="1584.2" y="30.8" width="382.1" height="409.9" fill="none" stroke="#000" stroke-width="1.7"/>
<polyline points="1786.9,321.9" fill="none" stroke="none" marker-start="url(#mr)" marker-mid="url(#mr)" marker-end="url(#mr)"/>
<text x="1824.2" y="331.3" font-size="25" text-anchor="start" fill="#ff0000">1 - 5 ns</text>
<polyline points="1786.9,354.7" fill="none" stroke="none" marker-start="url(#mb)" marker-mid="url(#mb)" marker-end="url(#mb)"/>
<text x="1824.2" y="364.1" font-size="25" text-anchor="start" fill="#0000ff">10 - 50 ns</text>
<polyline points="1786.9,388.1" fill="none" stroke="none" marker-start="url(#md)" marker-mid="url(#md)" marker-end="url(#md)"/>
<text x="1824.2" y="397.5" font-size="25" text-anchor="start" fill="#800000">100- 500 ns</text>
<polyline points="1786.9,422" fill="none" stroke="none" marker-start="url(#mg)" marker-mid="url(#mg)" marker-end="url(#mg)"/>
<text x="1824.2" y="431.4" font-size="25" text-anchor="start" fill="#008000">0.5-1 &#956;s</text>
<path d="M1590.4 440.7v-18.6M1590.4 30.8v18.6M1715.8 440.7v-18.6M1715.8 30.8v18.6M1841.2 440.7v-18.6M1841.2 30.8v18.6M1653.1 440.7v-12.2M1653.1 30.8v12.2M1778.5 440.7v-12.2M1778.5 30.8v12.2M1903.9 440.7v-12.2M1903.9 30.8v12.2M1584.2 269.9h18.6M1966.3 269.9h-18.6M1584.2 99.3h18.6M1966.3 99.3h-18.6M1584.2 355.1h12.2M1966.3 355.1h-12.2M1584.2 184.6h12.2M1966.3 184.6h-12.2" fill="none" stroke="#000" stroke-width="1.7"/>
<text x="1590.4" y="480.6" text-anchor="middle" font-size="23">400</text>
<text x="1715.8" y="480.6" text-anchor="middle" font-size="23">600</text>
<text x="1841.2" y="480.6" text-anchor="middle" font-size="23">800</text>
<text x="1966.6" y="480.6" text-anchor="middle" font-size="23">1000</text>
<text x="1577.3" y="447.7" text-anchor="end" font-size="23">0.0</text>
<text x="1577.3" y="277.2" text-anchor="end" font-size="23">0.5</text>
<text x="1577.3" y="106.7" text-anchor="end" font-size="23">1.0</text>
<text x="1678.7" y="518.4" font-size="27.5" textLength="215">W<tspan dx="2.6">avelength (nm)</tspan></text>
<text transform="translate(1528.4 235.7) rotate(-90)" font-size="28" text-anchor="middle">Normalized &#916;OD</text>
<text x="1886" y="82" font-size="29.3" text-anchor="start" fill="#000" textLength="49.3">0 M</text>
<g clip-path="url(#cd)">
<polyline points="1963.9,289.2 1960.7,286.9 1957.5,284.9 1954.4,285.7 1951.3,284.9 1948.2,279.4 1945.1,278.1 1942.1,273.1 1939.1,270.1 1936.1,268 1933.2,266.3 1930.2,263.7 1927.3,260.4 1924.5,257.5 1921.6,255 1918.8,254.6 1916,254.6 1913.3,253.3 1910.5,247.2 1907.8,246.1 1905.1,239.4 1902.5,236.3 1899.8,234.8 1897.2,232.9 1894.6,232.7 1892,232.9 1889.5,231 1886.9,229.9 1884.4,228.8 1882,231.4 1879.5,228.2 1877.1,230.4 1874.6,229.7 1872.2,229.7 1869.9,230 1867.5,232.2 1865.2,231.5 1862.8,231.6 1860.5,231.8 1858.3,233 1856,233.7 1853.7,237.3 1851.5,237.1 1849.3,239.5 1847.1,239.9 1844.9,240.8 1842.8,244.6 1840.7,243.3 1838.5,245.9 1836.4,246.7 1834.3,251.2 1832.3,250.7 1830.2,251 1828.2,252.7 1826.2,255.6 1824.2,254.3 1822.2,258 1820.2,261.8 1818.2,260.3 1816.3,263 1814.4,265.6 1812.4,265.8 1810.5,264.5 1808.7,266.2 1806.8,270.2 1804.9,268.5 1803.1,269.1 1801.3,271.8 1799.4,274.3 1797.6,273.4 1795.9,275.4 1794.1,276.6 1792.3,278.8 1790.6,277.8 1788.8,280.6 1787.1,280.1 1785.4,282.1 1783.7,283.2 1782,283.9 1780.3,282.3 1778.7,282.4 1777,283.1 1775.4,284.9 1773.8,285.2 1772.1,283.4 1770.5,286.3 1768.9,285.7 1767.4,283.7 1765.8,285.6 1764.2,286.1 1762.7,284.1 1761.1,283.2 1759.6,285.4 1758.1,285 1756.6,284.4 1755.1,282.7 1753.6,280.6 1752.1,282.2 1750.7,282 1749.2,280.1 1747.8,281.7 1746.3,278.7 1744.9,280.6 1743.5,276.5 1742.1,279.4 1740.7,279.3 1739.3,277.4 1737.9,278.6 1736.5,276.1 1735.1,275.4 1733.8,275.5 1732.4,275.5 1731.1,274.4 1729.8,273.1 1728.5,271.2 1727.1,271.2 1725.8,270.7 1724.5,270.3 1723.3,268.5 1722,269.8 1720.7,267.7 1719.5,268.9 1718.2,267.7 1716.9,263.4 1715.7,266 1714.5,264.1 1713.3,262.7 1712,263.3 1710.8,264 1709.6,260.5 1708.4,261.6 1707.2,257.9 1706.1,258.6 1704.9,258.1 1703.7,256.5 1702.6,255.7 1701.4,256.6 1700.3,256.2 1699.1,253 1698,252.6 1696.9,250.3 1695.8,249.2 1694.7,248.6 1693.6,246.2 1692.5,245.5 1691.4,244.2 1690.3,244.5 1689.2,241.8 1688.1,240.2 1687.1,238.1 1686,239.3 1684.9,235.4 1683.9,234.6 1682.9,233.3 1681.8,232.1 1680.8,229.1 1679.8,229.1 1678.8,226.6 1677.7,227.3 1676.7,225.4 1675.7,223.4 1674.7,223.4 1673.7,221.3 1672.8,219.6 1671.8,219.3 1670.8,216.6 1669.8,215.1 1668.9,214.2 1667.9,208.2 1667,205.3 1666,203.7 1665.1,199 1664.1,198.2 1663.2,193.1 1662.3,191.1 1661.4,187.6 1660.4,181.8 1659.5,179.9 1658.6,171 1657.7,170.8 1656.8,165.6 1655.9,164.9 1655.1,160.4 1654.2,160.4 1653.3,155.7 1652.4,157.7 1651.6,161.1 1650.7,164.1 1649.8,166 1649,166.3 1648.1,168.2 1647.3,167.7 1646.4,166.3 1645.6,163.4 1644.8,160.7 1643.9,152.6 1643.1,151.5 1642.3,145.3 1641.5,142.5 1640.7,138.9 1639.9,135.6 1639.1,130.9 1638.3,126.9 1637.5,125.4 1636.7,118 1635.9,118.3 1635.1,114.7 1634.3,117.2 1633.5,117.7 1632.8,119.3 1632,116.8 1631.2,121.6 1630.5,121.4 1629.7,121.3 1629,122.9 1628.2,121.7 1627.5,123.4 1626.7,124 1626,122.4 1625.3,121.7 1624.5,122.2 1623.8,120.5 1623.1,126 1622.4,146.7 1621.6,168.3 1620.9,185.7 1620.2,197.2 1619.5,206.3 1618.8,215.2 1618.1,220.8 1617.4,233.1 1616.7,240.5 1616,246.6 1615.3,250.4 1614.6,256.4 1614,263.1 1613.3,265.9 1612.6,271 1611.9,278.1 1611.3,282.5 1610.6,286.9 1610,288.7 1609.3,295.4 1608.6,298.6 1608,302.2 1607.3,307 1606.7,310.3 1606,313.5 1605.4,315.1 1604.8,318.1 1604.1,321 1603.5,323.2 1602.9,324.2 1602.2,327.1 1601.6,329.5 1601,332.6 1600.4,333.6 1599.8,336.3 1599.2,339.1 1598.5,340.2 1597.9,341.8 1597.3,343.8 1596.7,342.4 1596.1,344.3 1595.5,348.4 1594.9,349.1 1594.3,349.9 1593.8,350.1 1593.2,353.1 1592.6,352.4 1592,351.6 1591.4,355.3 1590.9,356.8 1590.3,357.4 1589.7,359.4 1589.1,363 1588.6,366.8 1588,366.2 1587.5,370.8 1586.9,372 1586.3,372.3 1585.8,373.9 1585.2,373.7 1584.7,375 1584.1,376.1" fill="none" stroke="none" marker-start="url(#mr)" marker-mid="url(#mr)" marker-end="url(#mr)"/>
<polyline points="1963.9,298.6 1960.7,298.5 1957.5,295.8 1954.4,295.3 1951.3,294.7 1948.2,291.6 1945.1,287.4 1942.1,286.3 1939.1,284.1 1936.1,279.8 1933.2,277.7 1930.2,274.8 1927.3,272.6 1924.5,271.3 1921.6,272.5 1918.8,270.4 1916,268.6 1913.3,266.8 1910.5,262.8 1907.8,261.9 1905.1,258.9 1902.5,258.6 1899.8,254.3 1897.2,249.8 1894.6,247.7 1892,248.7 1889.5,247.5 1886.9,247 1884.4,245.3 1882,241.1 1879.5,245.6 1877.1,244.1 1874.6,245 1872.2,241.9 1869.9,246.8 1867.5,243.7 1865.2,244.9 1862.8,246.2 1860.5,248.3 1858.3,248.4 1856,247.4 1853.7,251.8 1851.5,250.7 1849.3,253 1847.1,252.3 1844.9,254.4 1842.8,253.2 1840.7,255.2 1838.5,255.2 1836.4,257.9 1834.3,257.5 1832.3,259.3 1830.2,260.2 1828.2,263.8 1826.2,265.2 1824.2,265.3 1822.2,267 1820.2,267.5 1818.2,268.4 1816.3,272.2 1814.4,273.2 1812.4,273.2 1810.5,277 1808.7,276.9 1806.8,275.9 1804.9,280.4 1803.1,280.8 1801.3,280.8 1799.4,284.2 1797.6,284.5 1795.9,285.3 1794.1,286.3 1792.3,286.8 1790.6,288.6 1788.8,290 1787.1,291.2 1785.4,294.1 1783.7,292.7 1782,295.6 1780.3,294.6 1778.7,291.6 1777,295.1 1775.4,296.9 1773.8,295.1 1772.1,295.6 1770.5,298.4 1768.9,295.6 1767.4,296.7 1765.8,296.8 1764.2,298 1762.7,297.8 1761.1,296.2 1759.6,295.8 1758.1,294.4 1756.6,294.9 1755.1,294.6 1753.6,293.6 1752.1,293.8 1750.7,289.6 1749.2,291.6 1747.8,291.1 1746.3,290.4 1744.9,289.1 1743.5,288 1742.1,287.2 1740.7,288 1739.3,287 1737.9,285.8 1736.5,287.7 1735.1,285.7 1733.8,284.8 1732.4,284.9 1731.1,284 1729.8,282.6 1728.5,280.9 1727.1,279.5 1725.8,279.5 1724.5,278.8 1723.3,278 1722,275.5 1720.7,275.8 1719.5,275.9 1718.2,271.6 1716.9,274.6 1715.7,273.7 1714.5,274.4 1713.3,271 1712,271 1710.8,268.4 1709.6,267.5 1708.4,269.2 1707.2,267.8 1706.1,265.4 1704.9,265.2 1703.7,263.1 1702.6,263.4 1701.4,260.8 1700.3,260.5 1699.1,260.9 1698,256.6 1696.9,256.6 1695.8,256.4 1694.7,254.8 1693.6,253.8 1692.5,252.1 1691.4,248 1690.3,247.7 1689.2,249.3 1688.1,245.3 1687.1,242.3 1686,239.7 1684.9,240.6 1683.9,235.8 1682.9,233.6 1681.8,235.6 1680.8,232 1679.8,228.2 1678.8,228.2 1677.7,225.9 1676.7,221.5 1675.7,220.4 1674.7,220.7 1673.7,214.4 1672.8,213.6 1671.8,210.6 1670.8,207.7 1669.8,205.3 1668.9,199.2 1667.9,199.7 1667,194.4 1666,191.9 1665.1,188.1 1664.1,184.1 1663.2,181.4 1662.3,175.4 1661.4,175.5 1660.4,170.6 1659.5,166.3 1658.6,160.7 1657.7,157.8 1656.8,156.3 1655.9,150.8 1655.1,149.7 1654.2,146.3 1653.3,144 1652.4,138.8 1651.6,137.9 1650.7,133.5 1649.8,129.4 1649,128.9 1648.1,127.4 1647.3,123.1 1646.4,120.3 1645.6,116.5 1644.8,115.5 1643.9,114.3 1643.1,112.1 1642.3,111.7 1641.5,109.1 1640.7,105.1 1639.9,102.3 1639.1,102.4 1638.3,100.9 1637.5,98.7 1636.7,100 1635.9,99.2 1635.1,99.1 1634.3,102.7 1633.5,106.8 1632.8,114.1 1632,118.8 1631.2,122.8 1630.5,128.6 1629.7,132.7 1629,137.9 1628.2,141.1 1627.5,146.1 1626.7,153.2 1626,156.6 1625.3,166.2 1624.5,169.3 1623.8,177.2 1623.1,183.6 1622.4,188.2 1621.6,196.6 1620.9,201 1620.2,208.2 1619.5,213 1618.8,219.9 1618.1,229.3 1617.4,237.6 1616.7,243.1 1616,249.4 1615.3,257.2 1614.6,261.7 1614,266.8 1613.3,272.1 1612.6,275.7 1611.9,283.4 1611.3,286.9 1610.6,292.4 1610,294.4 1609.3,298.5 1608.6,302.9 1608,304.5 1607.3,309.8 1606.7,310.4 1606,314.7 1605.4,317.8 1604.8,322.6 1604.1,323.2 1603.5,326.2 1602.9,323.4 1602.2,328.1 1601.6,332.9 1601,332.8 1600.4,334.2 1599.8,338.3 1599.2,339.6 1598.5,341.2 1597.9,342 1597.3,344 1596.7,344.3 1596.1,346.9 1595.5,346.3 1594.9,346.7 1594.3,348.7 1593.8,348.9 1593.2,348.3 1592.6,350.7 1592,352.4 1591.4,352.3 1590.9,351.9 1590.3,353.1 1589.7,358.7 1589.1,361.8 1588.6,364.4 1588,364.7 1587.5,366.6 1586.9,369.1 1586.3,370.1 1585.8,372.1 1585.2,372.6 1584.7,373.2 1584.1,376" fill="none" stroke="none" marker-start="url(#mb)" marker-mid="url(#mb)" marker-end="url(#mb)"/>
<polyline points="1963.9,291.9 1960.7,291.9 1957.5,291.9 1954.4,292.1 1951.3,290.1 1948.2,287.3 1945.1,285.7 1942.1,281.9 1939.1,279.3 1936.1,278.2 1933.2,271 1930.2,272.3 1927.3,267.9 1924.5,266.5 1921.6,265.9 1918.8,264.3 1916,263.4 1913.3,260.5 1910.5,256.1 1907.8,253.4 1905.1,249.3 1902.5,246.3 1899.8,244.4 1897.2,241.7 1894.6,237.7 1892,239.3 1889.5,236.5 1886.9,237.3 1884.4,237 1882,237 1879.5,236.9 1877.1,236.6 1874.6,233.2 1872.2,235.1 1869.9,238.2 1867.5,237.4 1865.2,237.4 1862.8,238.5 1860.5,238.8 1858.3,241.2 1856,244.2 1853.7,241.9 1851.5,247.1 1849.3,245.7 1847.1,247.6 1844.9,249.5 1842.8,250.1 1840.7,250.1 1838.5,252.6 1836.4,254.2 1834.3,255.5 1832.3,256.8 1830.2,258.8 1828.2,257.6 1826.2,262 1824.2,264 1822.2,263.8 1820.2,264.5 1818.2,266.6 1816.3,268.2 1814.4,269.1 1812.4,270.3 1810.5,272.2 1808.7,273.3 1806.8,272.5 1804.9,275.2 1803.1,275.8 1801.3,278.4 1799.4,278.7 1797.6,281.3 1795.9,282.2 1794.1,283 1792.3,283.9 1790.6,285.2 1788.8,287 1787.1,287.6 1785.4,288.3 1783.7,290 1782,290.2 1780.3,290.9 1778.7,290.4 1777,290.8 1775.4,292.9 1773.8,292.1 1772.1,291.8 1770.5,291.4 1768.9,292.1 1767.4,294 1765.8,292.4 1764.2,294.2 1762.7,293.4 1761.1,290.1 1759.6,292.3 1758.1,289.9 1756.6,291.9 1755.1,292.4 1753.6,290.1 1752.1,289.3 1750.7,287.6 1749.2,289.3 1747.8,286.1 1746.3,286.6 1744.9,286.4 1743.5,285.7 1742.1,285 1740.7,283 1739.3,283.1 1737.9,282.4 1736.5,282.6 1735.1,279.5 1733.8,279.8 1732.4,280.9 1731.1,279.3 1729.8,279.5 1728.5,280 1727.1,275.8 1725.8,280 1724.5,275.5 1723.3,275.5 1722,274.6 1720.7,272.4 1719.5,272.1 1718.2,272.6 1716.9,271.7 1715.7,270.1 1714.5,268.6 1713.3,270.8 1712,268.9 1710.8,267.1 1709.6,266.3 1708.4,267 1707.2,267.3 1706.1,262.1 1704.9,265.3 1703.7,263.9 1702.6,260.9 1701.4,260.7 1700.3,260.3 1699.1,257.7 1698,259.3 1696.9,256.9 1695.8,256.7 1694.7,254.9 1693.6,253.5 1692.5,251.6 1691.4,248.5 1690.3,249.1 1689.2,245.4 1688.1,247.4 1687.1,243.2 1686,240.6 1684.9,242.5 1683.9,239.9 1682.9,238.5 1681.8,237.8 1680.8,234.3 1679.8,232.9 1678.8,230.8 1677.7,230.7 1676.7,228.7 1675.7,229.5 1674.7,227.8 1673.7,228.1 1672.8,222.8 1671.8,220 1670.8,220.7 1669.8,220.5 1668.9,214.3 1667.9,214.1 1667,209.6 1666,205.8 1665.1,204.3 1664.1,201.2 1663.2,197.8 1662.3,193.7 1661.4,190 1660.4,188.7 1659.5,185.5 1658.6,180.7 1657.7,175.6 1656.8,175 1655.9,170.6 1655.1,167.7 1654.2,164.4 1653.3,161.2 1652.4,157.3 1651.6,152.1 1650.7,151.7 1649.8,149 1649,146.7 1648.1,143.9 1647.3,142.2 1646.4,140.2 1645.6,135.7 1644.8,135.1 1643.9,131 1643.1,129.3 1642.3,129.1 1641.5,123.9 1640.7,124.8 1639.9,118.5 1639.1,119.5 1638.3,113.5 1637.5,113.3 1636.7,109.7 1635.9,108.7 1635.1,110.1 1634.3,110.7 1633.5,112.3 1632.8,116.8 1632,117.4 1631.2,120.4 1630.5,124.2 1629.7,129.7 1629,129.2 1628.2,134.3 1627.5,141.7 1626.7,145.8 1626,150.2 1625.3,156.5 1624.5,164 1623.8,172.7 1623.1,174.9 1622.4,182.2 1621.6,186.4 1620.9,195.2 1620.2,199.3 1619.5,208.2 1618.8,215.4 1618.1,222.7 1617.4,231.6 1616.7,238.7 1616,245.2 1615.3,253.8 1614.6,259.3 1614,261.9 1613.3,269.6 1612.6,273.9 1611.9,279.5 1611.3,282.6 1610.6,289 1610,292.6 1609.3,296.2 1608.6,298.2 1608,303.6 1607.3,306.7 1606.7,311.7 1606,313.9 1605.4,317 1604.8,317.7 1604.1,322 1603.5,323.6 1602.9,323.5 1602.2,329.1 1601.6,331.3 1601,332.1 1600.4,332.3 1599.8,334.8 1599.2,338.2 1598.5,338.6 1597.9,340.7 1597.3,341.1 1596.7,345.5 1596.1,343.7 1595.5,343.9 1594.9,346.5 1594.3,349.2 1593.8,348.1 1593.2,351.3 1592.6,354 1592,353.9 1591.4,352.7 1590.9,355.5 1590.3,358 1589.7,360.1 1589.1,362.5 1588.6,366.2 1588,366 1587.5,370 1586.9,370.7 1586.3,372.3 1585.8,373.6 1585.2,375.6 1584.7,376.5 1584.1,375.9" fill="none" stroke="none" marker-start="url(#md)" marker-mid="url(#md)" marker-end="url(#md)"/>
<polyline points="1963.9,301.2 1960.7,300.5 1957.5,298.1 1954.4,299.9 1951.3,296.2 1948.2,295.7 1945.1,292.8 1942.1,291.1 1939.1,288.7 1936.1,285.1 1933.2,280 1930.2,279.9 1927.3,277.3 1924.5,275.1 1921.6,274 1918.8,276 1916,273.6 1913.3,271 1910.5,267.6 1907.8,266.4 1905.1,261.5 1902.5,259.9 1899.8,257 1897.2,254.1 1894.6,255.8 1892,254.2 1889.5,250.3 1886.9,250.2 1884.4,249.3 1882,248.3 1879.5,248.7 1877.1,246.3 1874.6,247.3 1872.2,248.8 1869.9,247.6 1867.5,250.1 1865.2,248.7 1862.8,250.6 1860.5,250.2 1858.3,252.8 1856,250.6 1853.7,251.2 1851.5,256.6 1849.3,255.8 1847.1,258.5 1844.9,257.1 1842.8,259.2 1840.7,260.9 1838.5,259.6 1836.4,263.1 1834.3,261.6 1832.3,267 1830.2,266.3 1828.2,268 1826.2,266.5 1824.2,269.9 1822.2,270.4 1820.2,271.3 1818.2,276.3 1816.3,275.1 1814.4,276.2 1812.4,278 1810.5,279.5 1808.7,281.6 1806.8,283.1 1804.9,286.6 1803.1,284.7 1801.3,285.9 1799.4,287.8 1797.6,288.3 1795.9,291 1794.1,290.6 1792.3,291.7 1790.6,295.8 1788.8,297.5 1787.1,295.5 1785.4,295.7 1783.7,297.3 1782,296.5 1780.3,298.6 1778.7,297.7 1777,299.7 1775.4,299.5 1773.8,297.1 1772.1,299.9 1770.5,299.9 1768.9,302 1767.4,301.7 1765.8,300 1764.2,302.3 1762.7,300.6 1761.1,300.3 1759.6,300.9 1758.1,298.8 1756.6,298 1755.1,297.5 1753.6,297.3 1752.1,295.5 1750.7,297.4 1749.2,296.5 1747.8,297.5 1746.3,296.5 1744.9,292.5 1743.5,292.7 1742.1,293.4 1740.7,291.2 1739.3,291.5 1737.9,291.5 1736.5,291.3 1735.1,289.6 1733.8,290.3 1732.4,289.5 1731.1,288.3 1729.8,284.6 1728.5,285.2 1727.1,286.8 1725.8,284.5 1724.5,283.9 1723.3,284.4 1722,282.1 1720.7,281 1719.5,279.8 1718.2,278 1716.9,279 1715.7,276.9 1714.5,275.9 1713.3,280.1 1712,275.3 1710.8,272.4 1709.6,274.1 1708.4,272.6 1707.2,275.3 1706.1,269.6 1704.9,269.9 1703.7,270.3 1702.6,268 1701.4,266.1 1700.3,266.9 1699.1,265 1698,264.9 1696.9,261.6 1695.8,261.1 1694.7,257.2 1693.6,258.6 1692.5,256.5 1691.4,253.4 1690.3,250.6 1689.2,251.1 1688.1,248.3 1687.1,247.3 1686,245.9 1684.9,242.8 1683.9,240 1682.9,237.4 1681.8,237.4 1680.8,235.7 1679.8,232.8 1678.8,228.3 1677.7,228.9 1676.7,227.7 1675.7,224.8 1674.7,221.4 1673.7,218.7 1672.8,217.1 1671.8,215.4 1670.8,215.1 1669.8,210.8 1668.9,206.5 1667.9,205.8 1667,201.4 1666,196.8 1665.1,192.8 1664.1,191.5 1663.2,187 1662.3,183.8 1661.4,180 1660.4,178.5 1659.5,173 1658.6,170.9 1657.7,165.3 1656.8,162.8 1655.9,157.1 1655.1,155.9 1654.2,151.6 1653.3,147.8 1652.4,143.1 1651.6,142 1650.7,137.4 1649.8,134.1 1649,134.7 1648.1,130.8 1647.3,126.5 1646.4,125.7 1645.6,122.5 1644.8,119.9 1643.9,117.9 1643.1,115.9 1642.3,114.1 1641.5,112 1640.7,110.8 1639.9,108.4 1639.1,106.1 1638.3,102.8 1637.5,101.4 1636.7,99.8 1635.9,97.3 1635.1,100.3 1634.3,101.9 1633.5,109.3 1632.8,112.8 1632,118.3 1631.2,122 1630.5,127.4 1629.7,130.2 1629,136.9 1628.2,142 1627.5,145.4 1626.7,152.5 1626,159.1 1625.3,164.3 1624.5,168.9 1623.8,176.1 1623.1,183.6 1622.4,185.4 1621.6,192.2 1620.9,201.2 1620.2,206.8 1619.5,214.5 1618.8,221.1 1618.1,228.2 1617.4,237.6 1616.7,242.8 1616,249.8 1615.3,256 1614.6,260.1 1614,265.8 1613.3,273.9 1612.6,276.6 1611.9,281.2 1611.3,286 1610.6,291.8 1610,293.3 1609.3,298.9 1608.6,302.8 1608,305.4 1607.3,309.7 1606.7,311.5 1606,314.6 1605.4,316.7 1604.8,320.1 1604.1,324.2 1603.5,323.5 1602.9,327.4 1602.2,328.8 1601.6,333.1 1601,334.9 1600.4,334.3 1599.8,337.6 1599.2,339.9 1598.5,338.8 1597.9,342.3 1597.3,341.9 1596.7,344.8 1596.1,347.5 1595.5,346.9 1594.9,348.1 1594.3,350.3 1593.8,348.1 1593.2,352.6 1592.6,348.7 1592,352 1591.4,353.3 1590.9,354.8 1590.3,356.1 1589.7,357 1589.1,360.4 1588.6,363.5 1588,365.5 1587.5,368 1586.9,371.3 1586.3,371.5 1585.8,372.7 1585.2,375.1 1584.7,375.3 1584.1,375.3" fill="none" stroke="none" marker-start="url(#mg)" marker-mid="url(#mg)" marker-end="url(#mg)"/>
</g>
<text x="87.6" y="575.8" font-size="30" font-weight="bold">e</text>
<rect x="82.4" y="593" width="368.6" height="412" fill="none" stroke="#000" stroke-width="1.7"/>
<polyline points="274.3,879.6" fill="none" stroke="none" marker-start="url(#mr)" marker-mid="url(#mr)" marker-end="url(#mr)"/>
<text x="311.5" y="889.2" font-size="26" text-anchor="start" fill="#ff0000">1 - 5 ns</text>
<polyline points="274.3,911.6" fill="none" stroke="none" marker-start="url(#mb)" marker-mid="url(#mb)" marker-end="url(#mb)"/>
<text x="311.5" y="921.2" font-size="26" text-anchor="start" fill="#0000ff">10 - 50 ns</text>
<polyline points="274.3,944.9" fill="none" stroke="none" marker-start="url(#md)" marker-mid="url(#md)" marker-end="url(#md)"/>
<text x="311.5" y="954.5" font-size="26" text-anchor="start" fill="#800000">100- 500 ns</text>
<polyline points="274.3,980.3" fill="none" stroke="none" marker-start="url(#mg)" marker-mid="url(#mg)" marker-end="url(#mg)"/>
<text x="311.5" y="989.9" font-size="26" text-anchor="start" fill="#008000">0.5-1 &#956;s</text>
<path d="M88.2 1005v-18.6M88.2 593v18.6M209 1005v-18.6M209 593v18.6M329.9 1005v-18.6M329.9 593v18.6M148.6 1005v-12.2M148.6 593v12.2M269.5 1005v-12.2M269.5 593v12.2M390.3 1005v-12.2M390.3 593v12.2M82.4 832.6h18.6M451 832.6h-18.6M82.4 659.9h18.6M451 659.9h-18.6M82.4 918.9h12.2M451 918.9h-12.2M82.4 746.2h12.2M451 746.2h-12.2" fill="none" stroke="#000" stroke-width="1.7"/>
<text x="88.2" y="1044.3" text-anchor="middle" font-size="23">400</text>
<text x="209" y="1044.3" text-anchor="middle" font-size="23">600</text>
<text x="329.9" y="1044.3" text-anchor="middle" font-size="23">800</text>
<text x="450.7" y="1044.3" text-anchor="middle" font-size="23">1000</text>
<text x="74.6" y="1012.6" text-anchor="end" font-size="23">0.0</text>
<text x="74.6" y="839.9" text-anchor="end" font-size="23">0.5</text>
<text x="74.6" y="667.2" text-anchor="end" font-size="23">1.0</text>
<text x="144.1" y="1103.5" font-size="27.5" textLength="215">W<tspan dx="2.6">avelength (nm)</tspan></text>
<text transform="translate(21.4 783.7) rotate(-90)" font-size="28" text-anchor="middle">Normalized &#916;OD</text>
<text x="444.2" y="644.9" font-size="29" text-anchor="end" fill="#000">0.2 mM</text>
<g clip-path="url(#ce)">
<polyline points="448.6,835.1 445.5,833 442.4,834.6 439.4,835.1 436.4,834 433.4,833 430.4,830.6 427.5,829.9 424.6,824.6 421.7,821.9 418.9,814.8 416.1,809.5 413.3,805.5 410.5,804 407.8,802.4 405.1,802.8 402.4,803.3 399.7,803.4 397.1,804.7 394.4,801.1 391.8,798.9 389.3,792.8 386.7,787 384.2,782.9 381.7,780.5 379.2,779.6 376.7,780.6 374.3,778.7 371.9,778.9 369.5,780.7 367.1,778 364.8,781.2 362.4,780.1 360.1,783.7 357.8,783 355.5,787.1 353.3,786 351,787.5 348.8,789.9 346.6,792.3 344.4,792.5 342.3,796.3 340.1,795.9 338,797 335.9,798.2 333.8,800.1 331.7,800.1 329.6,800.9 327.6,802.8 325.6,805.3 323.6,806.8 321.6,807 319.6,811.5 317.6,813.4 315.7,813.8 313.7,815.1 311.8,815.2 309.9,820.5 308,821.1 306.1,825.3 304.3,825.2 302.4,827.6 300.6,832.3 298.8,833 297,835.3 295.2,837.8 293.4,839 291.6,844.2 289.9,845.4 288.2,847 286.4,849.7 284.7,851.7 283,855.5 281.3,857.2 279.7,860.4 278,861.3 276.3,863.3 274.7,865.1 273.1,868 271.5,870.1 269.9,871.1 268.3,872.3 266.7,872.3 265.1,875.3 263.5,873.9 262,874.9 260.5,876.6 258.9,875.6 257.4,876.6 255.9,875.6 254.4,881.7 252.9,880.5 251.5,881.4 250,880.8 248.5,878.2 247.1,878.1 245.7,875.8 244.2,873.6 242.8,873.7 241.4,870.3 240,869.2 238.6,868.6 237.3,865.4 235.9,866.7 234.5,863.4 233.2,861.8 231.8,860.8 230.5,858 229.2,858 227.9,858.1 226.6,855.1 225.3,855.7 224,854 222.7,851.6 221.4,852.2 220.2,853.8 218.9,853.6 217.6,851.2 216.4,851.3 215.2,850.7 213.9,849.6 212.7,848.9 211.5,849.7 210.3,849.5 209.1,848.2 207.9,847.8 206.7,847.6 205.6,846.5 204.4,847.4 203.3,845.9 202.1,847.1 201,845.5 199.8,846.1 198.7,845.3 197.6,846.7 196.4,845.3 195.3,844 194.2,844 193.1,844.2 192,843.7 191,844.7 189.9,843.6 188.8,845.2 187.7,841.7 186.7,842.9 185.6,842.1 184.6,843 183.5,841.9 182.5,840.8 181.5,839.2 180.5,839.5 179.4,840 178.4,837.3 177.4,836.3 176.4,836 175.4,833.3 174.5,835.1 173.5,833.5 172.5,831.9 171.5,830.3 170.6,829.8 169.6,829.9 168.6,825.2 167.7,825.8 166.8,826 165.8,823.6 164.9,821.2 164,819.9 163,818.4 162.1,816.4 161.2,815.9 160.3,812.6 159.4,811.7 158.5,808.6 157.6,805.3 156.7,802.9 155.8,799.8 154.9,796.1 154.1,792.7 153.2,789.2 152.3,784.3 151.5,779.9 150.6,774.2 149.8,772.2 148.9,766.3 148.1,762.4 147.2,758.3 146.4,751.5 145.6,746.2 144.8,743.2 143.9,736.2 143.1,732.6 142.3,725.8 141.5,718.4 140.7,714.9 139.9,708 139.1,702.3 138.3,696.6 137.5,688 136.7,684.4 136,676.7 135.2,670.3 134.4,662.9 133.7,662.1 132.9,663.8 132.1,666.2 131.4,669.9 130.6,669.9 129.9,672.7 129.1,675.3 128.4,679.2 127.6,683.1 126.9,687.2 126.2,690 125.5,694.4 124.7,699.7 124,706.9 123.3,710.2 122.6,718.1 121.9,725 121.2,732 120.5,735 119.8,744.8 119.1,747.2 118.4,755.8 117.7,764.7 117,771.6 116.3,778.6 115.7,785.2 115,793 114.3,800.8 113.6,808.4 113,816.6 112.3,821.7 111.7,829.1 111,834.4 110.3,837.3 109.7,841.1 109,847.2 108.4,850.6 107.8,856.4 107.1,860.1 106.5,863.3 105.9,867 105.2,871.7 104.6,874.9 104,879.6 103.4,881.1 102.7,884.5 102.1,885.2 101.5,888.7 100.9,892.7 100.3,894.5 99.7,896.2 99.1,901.1 98.5,900.7 97.9,904.5 97.3,905.8 96.7,910 96.1,908.8 95.5,913.5 95,914.1 94.4,917.1 93.8,919.4 93.2,918.6 92.7,919.7 92.1,921.7 91.5,925.9 90.9,926.1 90.4,930.4 89.8,931.4 89.3,934.1 88.7,936.4 88.2,937.9 87.6,940.2 87.1,942.4 86.5,942.2 86,945 85.4,947.7 84.9,947.7 84.4,951 83.8,951.5 83.3,953.4 82.8,955.5" fill="none" stroke="none" marker-start="url(#mr)" marker-mid="url(#mr)" marker-end="url(#mr)"/>
<polyline points="448.6,827.3 445.5,825 442.4,826.4 439.4,827.3 436.4,827.5 433.4,825.7 430.4,824.6 427.5,820.8 424.6,815.2 421.7,810.8 418.9,802.3 416.1,793.3 413.3,793 410.5,791.6 407.8,794.9 405.1,797.3 402.4,799.5 399.7,795 397.1,793.3 394.4,786.5 391.8,782.5 389.3,780.6 386.7,774.2 384.2,774.8 381.7,773.1 379.2,773.4 376.7,774.6 374.3,772.4 371.9,774 369.5,774.9 367.1,772.1 364.8,771.1 362.4,772.9 360.1,776.1 357.8,775.6 355.5,775.6 353.3,779.7 351,781.1 348.8,782.5 346.6,784.9 344.4,784 342.3,785.5 340.1,787.2 338,788.9 335.9,788.1 333.8,790.7 331.7,790.8 329.6,794.2 327.6,792.6 325.6,792.3 323.6,796.6 321.6,797.5 319.6,799 317.6,801.9 315.7,802.4 313.7,806 311.8,808.6 309.9,809.7 308,810.9 306.1,814.9 304.3,818.5 302.4,818.5 300.6,823.6 298.8,821.6 297,826.2 295.2,829.1 293.4,831.1 291.6,834.1 289.9,835 288.2,838.8 286.4,840.5 284.7,842.8 283,845.3 281.3,848.6 279.7,847.7 278,853.7 276.3,856 274.7,858.2 273.1,861.7 271.5,863.9 269.9,862.9 268.3,864.2 266.7,866 265.1,867.3 263.5,869.8 262,869.5 260.5,870.3 258.9,872.3 257.4,871.9 255.9,873.2 254.4,875.8 252.9,875.1 251.5,874.9 250,876 248.5,876.4 247.1,874.6 245.7,872.5 244.2,870.4 242.8,868.5 241.4,867.9 240,865.7 238.6,865.9 237.3,864.3 235.9,861.3 234.5,857.6 233.2,859.2 231.8,856 230.5,856.1 229.2,854 227.9,853.5 226.6,852.6 225.3,852.2 224,852.2 222.7,851.6 221.4,850.8 220.2,849.6 218.9,846.8 217.6,847.3 216.4,847.2 215.2,846.1 213.9,847.5 212.7,844.9 211.5,844.8 210.3,846.2 209.1,844 207.9,845.5 206.7,843.4 205.6,841.6 204.4,843.9 203.3,842.5 202.1,842.2 201,842.9 199.8,841.5 198.7,841.3 197.6,841 196.4,840.4 195.3,842.1 194.2,841.7 193.1,839.3 192,839.5 191,839.2 189.9,840.7 188.8,837.3 187.7,838.1 186.7,839.1 185.6,836.6 184.6,837.3 183.5,837.3 182.5,834.3 181.5,836.2 180.5,834.1 179.4,835 178.4,833 177.4,833.9 176.4,832 175.4,830.4 174.5,830.1 173.5,829.4 172.5,824.9 171.5,825.3 170.6,826 169.6,821.7 168.6,822.7 167.7,819.5 166.8,818 165.8,816.1 164.9,817.1 164,814.4 163,812.5 162.1,811.3 161.2,806.8 160.3,807.4 159.4,805.4 158.5,805.1 157.6,800.6 156.7,797.1 155.8,793.6 154.9,787.9 154.1,785.3 153.2,781.6 152.3,777.8 151.5,773 150.6,768.8 149.8,765.4 148.9,759.6 148.1,754.7 147.2,749.6 146.4,744.7 145.6,741.5 144.8,735.4 143.9,730.3 143.1,725.4 142.3,718.2 141.5,713.5 140.7,707.4 139.9,702.8 139.1,696.3 138.3,690.3 137.5,686.6 136.7,681 136,674.4 135.2,666.4 134.4,662.8 133.7,660.6 132.9,662 132.1,660.6 131.4,662.3 130.6,663.8 129.9,665.4 129.1,671.6 128.4,670.3 127.6,675.1 126.9,676.8 126.2,681.3 125.5,685.7 124.7,688.4 124,692 123.3,697.9 122.6,701.7 121.9,707.8 121.2,715.7 120.5,721.6 119.8,726.8 119.1,733.3 118.4,738 117.7,744.9 117,751.7 116.3,758.7 115.7,763.7 115,770.8 114.3,778.6 113.6,787.4 113,794.6 112.3,801.2 111.7,810.5 111,815.1 110.3,820.7 109.7,828.2 109,833.8 108.4,839.5 107.8,843.1 107.1,847.5 106.5,851.7 105.9,855.4 105.2,860.1 104.6,865.7 104,870.2 103.4,871.6 102.7,876.6 102.1,877.8 101.5,883 100.9,884.9 100.3,885.9 99.7,891.2 99.1,893.4 98.5,896.1 97.9,897.4 97.3,901.2 96.7,902.1 96.1,904.8 95.5,907.7 95,908.1 94.4,910.4 93.8,910.6 93.2,915.5 92.7,917 92.1,917.7 91.5,921.1 90.9,922.7 90.4,926 89.8,928.2 89.3,928 88.7,930.7 88.2,932.6 87.6,933.5 87.1,936.5 86.5,937 86,938 85.4,941.6 84.9,943.4 84.4,943.3 83.8,945.9 83.3,948.5 82.8,949.5" fill="none" stroke="none" marker-start="url(#mb)" marker-mid="url(#mb)" marker-end="url(#mb)"/>
<polyline points="448.6,828.6 445.5,831.8 442.4,829.3 439.4,827.2 436.4,825.1 433.4,821.9 430.4,817.8 427.5,811 424.6,806.6 421.7,804.5 418.9,801.6 416.1,802 413.3,804 410.5,803 407.8,800.8 405.1,795.9 402.4,791.2 399.7,784.3 397.1,778.3 394.4,773.4 391.8,770.4 389.3,769.7 386.7,766.9 384.2,771.8 381.7,774.4 379.2,776.1 376.7,773 374.3,771 371.9,768 369.5,764.6 367.1,761.8 364.8,760.5 362.4,762.6 360.1,761.9 357.8,762.9 355.5,765.6 353.3,766.6 351,767.7 348.8,769.4 346.6,771.3 344.4,773.6 342.3,774.2 340.1,774.7 338,775.9 335.9,777 333.8,776.5 331.7,777.6 329.6,779.1 327.6,781.3 325.6,782.6 323.6,783.2 321.6,784.7 319.6,785.4 317.6,789.7 315.7,790.7 313.7,793.2 311.8,794.9 309.9,799.7 308,799.1 306.1,804.3 304.3,804.5 302.4,807.2 300.6,810.3 298.8,812 297,814.3 295.2,815.8 293.4,817.9 291.6,822.7 289.9,825.5 288.2,827.2 286.4,829.5 284.7,829.7 283,835 281.3,836.8 279.7,840.7 278,843.3 276.3,845.7 274.7,848.7 273.1,851.1 271.5,852.3 269.9,855.2 268.3,855.7 266.7,855.6 265.1,854.7 263.5,857.6 262,857.9 260.5,860.4 258.9,859.7 257.4,860.8 255.9,861.9 254.4,864.3 252.9,863.5 251.5,867.1 250,869.1 248.5,868.5 247.1,867.4 245.7,867.7 244.2,866.7 242.8,861.7 241.4,859.8 240,859.7 238.6,857.8 237.3,855.5 235.9,854.9 234.5,853 233.2,853.7 231.8,851.4 230.5,848.7 229.2,846.9 227.9,846.6 226.6,846.3 225.3,843.7 224,844 222.7,842 221.4,840.6 220.2,838.7 218.9,839.5 217.6,839.8 216.4,839.8 215.2,838.7 213.9,837.4 212.7,835.9 211.5,838.5 210.3,836.4 209.1,837.2 207.9,836.6 206.7,836.3 205.6,833.6 204.4,836.9 203.3,836.4 202.1,833.6 201,835.8 199.8,835.8 198.7,831.5 197.6,832.6 196.4,833.5 195.3,833.1 194.2,832.9 193.1,832.4 192,831 191,831 189.9,832.2 188.8,831 187.7,832.2 186.7,830.1 185.6,831.1 184.6,832 183.5,829.1 182.5,829.2 181.5,827.2 180.5,827.4 179.4,824.6 178.4,822.6 177.4,820.5 176.4,817.2 175.4,814.8 174.5,814.8 173.5,810.6 172.5,810.5 171.5,809 170.6,806.5 169.6,806.4 168.6,801.5 167.7,800.5 166.8,798.9 165.8,796.2 164.9,794.3 164,791.6 163,790.3 162.1,789.5 161.2,785.1 160.3,784.5 159.4,781.9 158.5,779.5 157.6,776.5 156.7,775.8 155.8,771.7 154.9,770.1 154.1,763.6 153.2,760.5 152.3,754.8 151.5,752.1 150.6,750.7 149.8,744.7 148.9,740.4 148.1,735.4 147.2,733.3 146.4,728.9 145.6,725.2 144.8,721.9 143.9,716.4 143.1,712.9 142.3,707.5 141.5,705 140.7,699.5 139.9,696.3 139.1,691.6 138.3,685.1 137.5,684.7 136.7,676.9 136,673.4 135.2,667.7 134.4,664.9 133.7,661.5 132.9,659 132.1,659.2 131.4,661 130.6,662.1 129.9,664.7 129.1,665.8 128.4,669.2 127.6,668.7 126.9,673.2 126.2,677.1 125.5,681.1 124.7,683.1 124,686.7 123.3,689.6 122.6,694.1 121.9,700.4 121.2,703.4 120.5,708.3 119.8,713.6 119.1,720 118.4,725.5 117.7,732.4 117,736.6 116.3,742.5 115.7,748.6 115,756.7 114.3,762.3 113.6,769.2 113,776 112.3,782 111.7,787.5 111,796.8 110.3,801.2 109.7,809.5 109,815.8 108.4,821.9 107.8,824.7 107.1,831.6 106.5,836.6 105.9,841.5 105.2,846.2 104.6,853.4 104,856 103.4,864.1 102.7,864.6 102.1,870.9 101.5,874.1 100.9,877.9 100.3,880.1 99.7,885.2 99.1,885.6 98.5,888.5 97.9,890.7 97.3,893.6 96.7,894.7 96.1,897.6 95.5,900 95,899.2 94.4,903.6 93.8,905.3 93.2,908.1 92.7,910.2 92.1,911.8 91.5,911.2 90.9,915.3 90.4,916.8 89.8,920.2 89.3,923 88.7,922.8 88.2,925.6 87.6,927.6 87.1,927.8 86.5,928.8 86,932.2 85.4,934.9 84.9,935.4 84.4,938.5 83.8,940.1 83.3,942.3 82.8,942.9" fill="none" stroke="none" marker-start="url(#md)" marker-mid="url(#md)" marker-end="url(#md)"/>
<polyline points="448.6,832.5 445.5,834.2 442.4,833.2 439.4,828.9 436.4,821.2 433.4,813.1 430.4,805 427.5,802.8 424.6,794.7 421.7,795.2 418.9,796.6 416.1,796.3 413.3,796.1 410.5,792.3 407.8,793.8 405.1,787.7 402.4,782.8 399.7,776.5 397.1,767.5 394.4,758.8 391.8,754.5 389.3,756.2 386.7,756.7 384.2,758.7 381.7,762.3 379.2,764.4 376.7,765.6 374.3,759 371.9,754 369.5,752.6 367.1,750.3 364.8,748.1 362.4,747.7 360.1,748.2 357.8,751 355.5,750.1 353.3,750.4 351,752.7 348.8,754.3 346.6,755.9 344.4,757.3 342.3,757.4 340.1,760.3 338,760.4 335.9,761 333.8,761.5 331.7,764.4 329.6,765.8 327.6,764.8 325.6,767.5 323.6,769.5 321.6,772 319.6,772.4 317.6,775.1 315.7,777.4 313.7,779.7 311.8,780.6 309.9,785.4 308,785.9 306.1,785.5 304.3,790.6 302.4,791.8 300.6,793.7 298.8,796.4 297,798.5 295.2,802.6 293.4,805.1 291.6,807.4 289.9,809.7 288.2,811.1 286.4,814.5 284.7,817.2 283,821.7 281.3,823.4 279.7,824.2 278,829.7 276.3,831.7 274.7,833.2 273.1,835.7 271.5,837.1 269.9,838.3 268.3,843.1 266.7,841.8 265.1,844.7 263.5,845.1 262,847.9 260.5,848.8 258.9,850.5 257.4,850.4 255.9,853 254.4,854.8 252.9,852.7 251.5,856.4 250,858.6 248.5,857 247.1,854.5 245.7,855.5 244.2,851.8 242.8,852 241.4,849.4 240,848.6 238.6,847.5 237.3,849.3 235.9,845.9 234.5,846.4 233.2,843.9 231.8,842.3 230.5,846.2 229.2,844.9 227.9,846 226.6,846.5 225.3,845.3 224,847.7 222.7,849.4 221.4,849.3 220.2,849.7 218.9,851.9 217.6,852.9 216.4,854.1 215.2,854.7 213.9,852 212.7,855.6 211.5,854.9 210.3,854.3 209.1,855.3 207.9,855 206.7,856.3 205.6,856.3 204.4,857.5 203.3,856.7 202.1,856.1 201,856 199.8,858.4 198.7,862.3 197.6,861.6 196.4,862.2 195.3,861.3 194.2,861.9 193.1,862 192,861.5 191,860.2 189.9,861.2 188.8,858.5 187.7,854.3 186.7,849.3 185.6,848.1 184.6,845.8 183.5,842.2 182.5,840.4 181.5,840.6 180.5,840.7 179.4,837.4 178.4,835 177.4,831.5 176.4,825 175.4,823.9 174.5,818.5 173.5,807.8 172.5,799.1 171.5,788 170.6,781.4 169.6,778 168.6,771.9 167.7,765.3 166.8,761 165.8,760 164.9,759.1 164,759.3 163,762 162.1,761.3 161.2,764.6 160.3,764.3 159.4,764.4 158.5,765.2 157.6,765.6 156.7,767.4 155.8,763.2 154.9,762.2 154.1,750.1 153.2,742.5 152.3,739 151.5,733.8 150.6,732.1 149.8,726.9 148.9,727.7 148.1,723.3 147.2,719.7 146.4,717.4 145.6,714.8 144.8,712.1 143.9,708.9 143.1,708.6 142.3,702.1 141.5,702.1 140.7,697.8 139.9,694.8 139.1,689.6 138.3,687.1 137.5,683.4 136.7,679.8 136,673.3 135.2,668.4 134.4,666.8 133.7,662.1 132.9,661.8 132.1,661 131.4,661.4 130.6,663.2 129.9,662.1 129.1,666.5 128.4,667.2 127.6,670.6 126.9,672.3 126.2,674 125.5,675.2 124.7,677.1 124,681.7 123.3,683.7 122.6,688.7 121.9,689.5 121.2,693.6 120.5,696.6 119.8,701.3 119.1,704.1 118.4,711.1 117.7,715.3 117,720.5 116.3,724.6 115.7,730.9 115,737.3 114.3,742.4 113.6,748.3 113,753.7 112.3,762 111.7,770.1 111,778.3 110.3,788.5 109.7,797.8 109,807 108.4,814.1 107.8,823.4 107.1,826.5 106.5,833.5 105.9,835.7 105.2,838.7 104.6,841 104,846.2 103.4,845.7 102.7,847 102.1,848.5 101.5,849.7 100.9,851.5 100.3,852.7 99.7,854 99.1,855.2 98.5,856.6 97.9,856.9 97.3,858.4 96.7,857.2 96.1,859.7 95.5,861.5 95,861.2 94.4,861.7 93.8,864.1 93.2,865.1 92.7,864.2 92.1,866.5 91.5,867.4 90.9,871.9 90.4,877.7 89.8,879.4 89.3,882.1 88.7,879.8 88.2,878.3 87.6,874.6 87.1,874.1 86.5,874.7 86,875.2 85.4,882.5 84.9,886.6 84.4,891.8 83.8,897.3 83.3,907.6 82.8,919.7" fill="none" stroke="none" marker-start="url(#mg)" marker-mid="url(#mg)" marker-end="url(#mg)"/>
</g>
<ellipse cx="208.1" cy="858.5" rx="40.6" ry="58.7" fill="none" stroke="#808080" stroke-width="3.1"/>
<text x="595.8" y="578.3" font-size="30" font-weight="bold">f</text>
<rect x="591" y="591.6" width="368.6" height="412" fill="none" stroke="#000" stroke-width="1.7"/>
<polyline points="780.1,892.7" fill="none" stroke="none" marker-start="url(#mr)" marker-mid="url(#mr)" marker-end="url(#mr)"/>
<text x="817.2" y="902.2" font-size="25" text-anchor="start" fill="#ff0000">1 - 5 ns</text>
<polyline points="780.1,924.9" fill="none" stroke="none" marker-start="url(#mb)" marker-mid="url(#mb)" marker-end="url(#mb)"/>
<text x="817.2" y="934.4" font-size="25" text-anchor="start" fill="#0000ff">10 - 50 ns</text>
<polyline points="780.1,957.7" fill="none" stroke="none" marker-start="url(#md)" marker-mid="url(#md)" marker-end="url(#md)"/>
<text x="817.2" y="967.2" font-size="25" text-anchor="start" fill="#800000">100- 500 ns</text>
<path d="M597 1003.6v-18.6M597 591.6v18.6M717.6 1003.6v-18.6M717.6 591.6v18.6M838.2 1003.6v-18.6M838.2 591.6v18.6M657.3 1003.6v-12.2M657.3 591.6v12.2M777.9 1003.6v-12.2M777.9 591.6v12.2M898.5 1003.6v-12.2M898.5 591.6v12.2M591 831.6h18.6M959.6 831.6h-18.6M591 659.8h18.6M959.6 659.8h-18.6M591 917.6h12.2M959.6 917.6h-12.2M591 745.7h12.2M959.6 745.7h-12.2" fill="none" stroke="#000" stroke-width="1.7"/>
<text x="597" y="1042.7" text-anchor="middle" font-size="23">400</text>
<text x="717.6" y="1042.7" text-anchor="middle" font-size="23">600</text>
<text x="838.2" y="1042.7" text-anchor="middle" font-size="23">800</text>
<text x="958.8" y="1042.7" text-anchor="middle" font-size="23">1000</text>
<text x="582" y="1010.8" text-anchor="end" font-size="23">0.0</text>
<text x="582" y="839" text-anchor="end" font-size="23">0.5</text>
<text x="582" y="667.1" text-anchor="end" font-size="23">1.0</text>
<text x="658.2" y="1102.1" font-size="27.5" textLength="215">W<tspan dx="2.6">avelength (nm)</tspan></text>
<text transform="translate(528.4 783.7) rotate(-90)" font-size="28" text-anchor="middle">Normalized &#916;OD</text>
<text x="953.2" y="642.2" font-size="29" text-anchor="end" fill="#000">0.4 mM</text>
<text x="609.4" y="628.3" font-size="23.5" text-anchor="start" fill="#0000ff">Blue shift</text>
<path d="M710.2 640.3H614" stroke="#0000ff" stroke-width="1.5" fill="none"/><path d="M600 640.3l15.8 -3.9v7.8z" fill="#0000ff"/>
<g clip-path="url(#cf)">
<polyline points="958.2,825.7 955.5,824.5 952.8,823.3 950.1,822 947.3,820.7 944.6,819.3 941.9,817.9 939.2,816.2 936.5,813.9 933.8,809.1 931.1,801.8 928.3,796.3 925.6,792.6 922.9,789.4 920.2,787.1 917.5,785.9 914.8,785.6 912.1,785.4 909.4,785.2 906.6,782.4 903.9,771.3 901.2,769.5 898.5,768.7 895.8,767 893.1,756.9 890.4,754.4 887.6,754.6 885,755.2 882.5,755 880.1,756 877.7,757.3 875.4,756.7 873,757.9 870.7,759.8 868.4,759.8 866.1,760.7 863.8,762.3 861.6,762.9 859.3,764.4 857.1,766.2 854.9,767.4 852.7,768.7 850.6,770.3 848.4,771.7 846.3,772.7 844.2,775.3 842.1,777.2 840,778.6 838,779.9 835.9,783.1 833.9,784.2 831.9,787.6 829.9,789.2 827.9,790.7 826,793.5 824,796.4 822.1,797.5 820.2,799.9 818.3,801.7 816.4,804 814.5,806.7 812.7,808.3 810.8,811.2 809,813.4 807.2,815.6 805.4,817.7 803.6,819.9 801.8,822.7 800,823.8 798.3,826.1 796.6,827.8 794.8,830.5 793.1,832.7 791.4,835.4 789.7,836.5 788.1,838.6 786.4,839.8 784.8,842.9 783.1,844.3 781.5,846 779.9,847.8 778.3,850.2 776.7,851 775.1,851.8 773.6,850.7 772,851.8 770.5,851.8 768.9,852.1 767.4,852.2 765.9,851.9 764.4,851.3 762.9,850.8 761.4,850 759.9,847.6 758.5,846.6 757,845.6 755.6,844.6 754.2,843 752.7,841.3 751.3,840.3 749.9,839.4 748.5,836.6 747.1,835.8 745.8,834.8 744.4,833.4 743,832.1 741.7,830.7 740.4,829.9 739,829.1 737.7,827.2 736.4,827.1 735.1,825.9 733.8,824.2 732.5,823.1 731.2,822.3 730,821.2 728.7,820.5 727.4,820 726.2,819.5 724.9,818.8 723.7,818.5 722.5,817 721.3,816.9 720.1,816.2 718.9,816.1 717.7,815.9 716.5,814.2 715.3,815 714.1,813.8 713,814.3 711.8,814.8 710.7,814.2 709.5,815.5 708.4,816.8 707.3,818.5 706.1,819.1 705,819.8 703.9,821.2 702.8,821.4 701.7,822.7 700.6,823.3 699.6,824.3 698.5,826.1 697.4,826.6 696.3,828.2 695.3,828.5 694.2,829.6 693.2,830.1 692.2,830.1 691.1,831.3 690.1,831.1 689.1,830.9 688.1,831.6 687.1,831.4 686.1,831 685.1,830 684.1,830.3 683.1,829.7 682.1,830 681.1,829 680.2,828.6 679.2,827.5 678.2,827.5 677.3,825 676.3,824.6 675.4,822.9 674.5,821.1 673.5,819.2 672.6,817.5 671.7,815.9 670.8,813.5 669.9,811.6 668.9,808.9 668,805.9 667.1,803.5 666.3,800.2 665.4,796.3 664.5,791 663.6,786.9 662.7,781.5 661.9,776.7 661,772.2 660.2,768.1 659.3,763.4 658.4,757.6 657.6,752.8 656.8,747 655.9,737.4 655.1,729 654.3,717.8 653.4,706.9 652.6,696 651.8,688.4 651,682.5 650.2,676.4 649.4,671.4 648.6,666.1 647.8,662.2 647,659.7 646.2,659.5 645.4,659.7 644.7,660.5 643.9,662.8 643.1,663.2 642.4,663.5 641.6,665.6 640.8,666.6 640.1,667.3 639.3,669 638.6,670.3 637.8,673.1 637.1,676 636.4,678.2 635.6,679.9 634.9,682.7 634.2,685.1 633.5,687.6 632.7,691 632,694.1 631.3,696.6 630.6,700.4 629.9,703.8 629.2,707.4 628.5,710.7 627.8,714.7 627.1,718.2 626.4,723.1 625.8,726.7 625.1,731.6 624.4,735.6 623.7,740.8 623.1,744.6 622.4,749.3 621.7,754.2 621.1,759.9 620.4,765.9 619.8,770.9 619.1,777.4 618.5,783 617.8,789 617.2,794.4 616.5,799.8 615.9,806.4 615.3,811.7 614.6,817 614,822 613.4,826.7 612.7,830.8 612.1,835.3 611.5,838.7 610.9,841.3 610.3,853.8 609.7,855.8 609.1,848.5 608.5,849.9 607.9,856.2 607.3,863.5 606.7,860.3 606.1,863.2 605.5,866.9 604.9,875.9 604.3,879.9 603.7,875.6 603.2,879.9 602.6,882.4 602,880.1 601.4,887.9 600.9,883.9 600.3,886.7 599.7,891.6 599.2,889.5 598.6,897.8 598.1,891 597.5,895 597,906.6 596.4,907.5 595.9,906.2 595.3,915 594.8,917.6 594.2,926.1 593.7,917.9 593.2,928 592.6,920.2 592.1,926.6 591.6,928.1" fill="none" stroke="none" marker-start="url(#mr)" marker-mid="url(#mr)" marker-end="url(#mr)"/>
<polyline points="958.2,796.9 955.5,796.9 952.8,796.9 950.1,796.9 947.3,796.4 944.6,794 941.9,790.5 939.2,786.6 936.5,781 933.8,774 931.1,765.7 928.3,761.1 925.6,759.3 922.9,758.2 920.2,757 917.5,754.9 914.8,748.3 912.1,737.5 909.4,726.7 906.6,720.1 903.9,752.9 901.2,730.5 898.5,729 895.8,730.1 893.1,726.6 890.4,717.9 887.6,717.8 885,717.3 882.5,718.4 880.1,719.4 877.7,720.6 875.4,720 873,721.9 870.7,721.2 868.4,722.7 866.1,723.9 863.8,724.6 861.6,726 859.3,727 857.1,727.4 854.9,729.3 852.7,730.4 850.6,731 848.4,732.2 846.3,734.2 844.2,735.6 842.1,736.6 840,739.1 838,739.6 835.9,741.9 833.9,745 831.9,746.4 829.9,748.6 827.9,751.8 826,753.1 824,755.8 822.1,757.8 820.2,760.1 818.3,761.6 816.4,765.1 814.5,767.9 812.7,770.7 810.8,772.7 809,775.8 807.2,777 805.4,779.1 803.6,781.6 801.8,784.5 800,786.3 798.3,788.2 796.6,790 794.8,792.4 793.1,794.9 791.4,796.2 789.7,798.2 788.1,799.3 786.4,800.9 784.8,803.8 783.1,805.1 781.5,805.1 779.9,808.3 778.3,809.2 776.7,811.6 775.1,811.4 773.6,813 772,813.7 770.5,813.6 768.9,813.4 767.4,814 765.9,813.9 764.4,814.1 762.9,815.1 761.4,814 759.9,814.4 758.5,813.1 757,811.8 755.6,811.1 754.2,811.2 752.7,810.1 751.3,809.5 749.9,809.3 748.5,807.2 747.1,807.6 745.8,806.3 744.4,804.8 743,804.2 741.7,803 740.4,801.4 739,800.9 737.7,800.2 736.4,799.1 735.1,798.1 733.8,798 732.5,797.3 731.2,796.3 730,795.9 728.7,794.6 727.4,793.8 726.2,793.5 724.9,792.2 723.7,792.9 722.5,791.9 721.3,792.6 720.1,793.1 718.9,791.9 717.7,792.1 716.5,793 715.3,792.9 714.1,792.7 713,793.7 711.8,793.7 710.7,792.8 709.5,794.1 708.4,794.3 707.3,795.3 706.1,795.8 705,796 703.9,797.1 702.8,796.5 701.7,797.9 700.6,797.8 699.6,798.8 698.5,799.7 697.4,801.4 696.3,801.2 695.3,802.3 694.2,803.8 693.2,804.4 692.2,805.2 691.1,805.1 690.1,806.1 689.1,805.3 688.1,807.3 687.1,807.3 686.1,808.7 685.1,808.1 684.1,808.3 683.1,808.8 682.1,809 681.1,809.2 680.2,807.5 679.2,807.2 678.2,806 677.3,804.9 676.3,802.9 675.4,802.2 674.5,801 673.5,798.6 672.6,797.6 671.7,796.2 670.8,794.9 669.9,791.9 668.9,790 668,787.4 667.1,785.5 666.3,783.4 665.4,779.6 664.5,778.1 663.6,775.2 662.7,772.6 661.9,770.2 661,767.1 660.2,764 659.3,761.4 658.4,757.2 657.6,754.7 656.8,750.2 655.9,746.4 655.1,741.6 654.3,734.9 653.4,728.1 652.6,720 651.8,711.9 651,704.6 650.2,695.4 649.4,689 648.6,682.1 647.8,677.6 647,673.8 646.2,670.5 645.4,667.5 644.7,663.7 643.9,661.3 643.1,659.8 642.4,659.7 641.6,660.4 640.8,661.5 640.1,662.4 639.3,663.4 638.6,665.4 637.8,667.3 637.1,669.5 636.4,671.7 635.6,673.2 634.9,675.1 634.2,677.4 633.5,680.2 632.7,682.9 632,686.1 631.3,689 630.6,693 629.9,694.3 629.2,699.3 628.5,703.1 627.8,706.6 627.1,710.7 626.4,715.9 625.8,719.6 625.1,724.9 624.4,729.3 623.7,733.8 623.1,738.6 622.4,743.8 621.7,748.1 621.1,753 620.4,758.8 619.8,764.3 619.1,769.1 618.5,775.7 617.8,780.7 617.2,786.3 616.5,790.8 615.9,797.7 615.3,802.9 614.6,807.7 614,813.6 613.4,818.1 612.7,822.9 612.1,827.2 611.5,831.5 610.9,839.6 610.3,839.6 609.7,843.9 609.1,858.2 608.5,837.3 607.9,852.1 607.3,860 606.7,854.3 606.1,857.3 605.5,858 604.9,857.9 604.3,863.2 603.7,869.9 603.2,876.6 602.6,862.2 602,880.6 601.4,868.4 600.9,873 600.3,876.9 599.7,877.8 599.2,890.5 598.6,884.4 598.1,888 597.5,894.9 597,897 596.4,903.3 595.9,901 595.3,912.4 594.8,905.4 594.2,916.9 593.7,916.5 593.2,917 592.6,912.4 592.1,926.3 591.6,921.5" fill="none" stroke="none" marker-start="url(#mb)" marker-mid="url(#mb)" marker-end="url(#mb)"/>
<polyline points="958.2,776.4 955.5,772.4 952.8,767.2 950.1,760.3 947.3,753 944.6,744.5 941.9,735.5 939.2,730.6 936.5,728.5 933.8,729.6 931.1,731.4 928.3,732.3 925.6,730 922.9,725.6 920.2,721.3 917.5,716.8 914.8,709 912.1,696.9 909.4,690.6 906.6,685.6 903.9,681.8 901.2,682.4 898.5,684 895.8,685.8 893.1,687.1 890.4,687.8 887.6,688.3 885,689.5 882.5,688.1 880.1,682.8 877.7,680.4 875.4,679.6 873,679.3 870.7,680.1 868.4,679.8 866.1,679.4 863.8,679.4 861.6,680.3 859.3,680.1 857.1,680.1 854.9,681.3 852.7,682.5 850.6,683.5 848.4,684.9 846.3,686.4 844.2,687.3 842.1,689.4 840,691.3 838,692.7 835.9,694.6 833.9,696.6 831.9,699.1 829.9,700.8 827.9,703.5 826,705.9 824,708.1 822.1,710.6 820.2,712.2 818.3,715.6 816.4,718 814.5,719.9 812.7,722.1 810.8,724.8 809,727.4 807.2,730.1 805.4,732 803.6,734.9 801.8,737.6 800,740.8 798.3,743.2 796.6,745.9 794.8,749.6 793.1,752.8 791.4,754.1 789.7,757.4 788.1,760.7 786.4,762.4 784.8,765.2 783.1,767.1 781.5,768.8 779.9,769.9 778.3,771.1 776.7,772 775.1,774.3 773.6,775 772,776.5 770.5,778.3 768.9,778.9 767.4,780.2 765.9,782.3 764.4,782.8 762.9,783.8 761.4,785 759.9,784.4 758.5,784.7 757,785.4 755.6,785.1 754.2,785.7 752.7,785.1 751.3,785.6 749.9,784.7 748.5,784.3 747.1,784 745.8,782.8 744.4,782 743,782.1 741.7,780.7 740.4,780.5 739,779.4 737.7,780.1 736.4,778.9 735.1,777.5 733.8,777.9 732.5,778.3 731.2,778.4 730,777.9 728.7,777.8 727.4,777.5 726.2,778.2 724.9,777.7 723.7,777.8 722.5,778.4 721.3,777.3 720.1,777.5 718.9,777.8 717.7,777.8 716.5,777.6 715.3,777.8 714.1,777.8 713,777.8 711.8,778.7 710.7,778.9 709.5,779.5 708.4,779.9 707.3,780.8 706.1,781.2 705,782.1 703.9,783.1 702.8,783.6 701.7,784.2 700.6,785.8 699.6,786.4 698.5,786.7 697.4,787.6 696.3,790 695.3,791.1 694.2,792.5 693.2,794.1 692.2,796.8 691.1,800.4 690.1,801.1 689.1,802.3 688.1,801 687.1,801.7 686.1,800.2 685.1,800.5 684.1,800.1 683.1,800 682.1,798.6 681.1,798.3 680.2,799.5 679.2,798.5 678.2,797.8 677.3,796.4 676.3,796.2 675.4,796.2 674.5,795.1 673.5,795 672.6,794.3 671.7,794.5 670.8,796.4 669.9,796.6 668.9,799 668,801.8 667.1,803.4 666.3,806.8 665.4,810.5 664.5,811.5 663.6,810.9 662.7,808.7 661.9,806.2 661,804.3 660.2,800.2 659.3,794.4 658.4,790.4 657.6,783.9 656.8,780.3 655.9,775.1 655.1,771.3 654.3,765.3 653.4,759.6 652.6,749.9 651.8,739.9 651,733.4 650.2,728.8 649.4,725.6 648.6,721.8 647.8,718.9 647,715.7 646.2,714.6 645.4,712.4 644.7,709.1 643.9,707.4 643.1,705.7 642.4,704.8 641.6,703.8 640.8,702.5 640.1,701.3 639.3,700.2 638.6,699.1 637.8,697.1 637.1,694.6 636.4,693.1 635.6,689.6 634.9,683.7 634.2,674.1 633.5,668.4 632.7,662.1 632,660.1 631.3,659.5 630.6,662.1 629.9,665.2 629.2,668.5 628.5,673.1 627.8,677.7 627.1,683.2 626.4,689.9 625.8,696.1 625.1,701.5 624.4,708.6 623.7,714.4 623.1,720.5 622.4,726.7 621.7,732.9 621.1,739 620.4,744.9 619.8,750.2 619.1,755.5 618.5,760.4 617.8,766.1 617.2,771.3 616.5,776.1 615.9,781 615.3,785.4 614.6,790.3 614,794.5 613.4,798.2 612.7,802 612.1,806 611.5,807.7 610.9,814.6 610.3,804.1 609.7,822.1 609.1,832.6 608.5,835.2 607.9,861.6 607.3,856.8 606.7,851.2 606.1,862.3 605.5,869.1 604.9,861.8 604.3,858.6 603.7,861.3 603.2,858.6 602.6,868.1 602,873.9 601.4,880.8 600.9,861.1 600.3,866.5 599.7,877.2 599.2,878.3 598.6,871.6 598.1,871 597.5,870.1 597,879 596.4,866.6 595.9,890.2 595.3,891.3 594.8,888.4 594.2,895.4 593.7,885.7 593.2,886.4 592.6,900.8 592.1,897.8 591.6,895.8" fill="none" stroke="none" marker-start="url(#md)" marker-mid="url(#md)" marker-end="url(#md)"/>
<polyline points="692.9,815.5 697.1,814.5" fill="none" stroke="none" marker-start="url(#md)" marker-mid="url(#md)" marker-end="url(#md)"/>
</g>
<ellipse cx="707.9" cy="800.5" rx="32.4" ry="59.1" fill="none" stroke="#808080" stroke-width="3.1"/>
<text x="1087.2" y="573.2" font-size="32" font-weight="bold">g</text>
<rect x="1093.3" y="593.2" width="368.1" height="411.9" fill="none" stroke="#000" stroke-width="1.7"/>
<path d="M1277.4 1005.1v-18.6M1277.4 593.2v18.6M1185.3 1005.1v-12.2M1185.3 593.2v12.2M1369.4 1005.1v-12.2M1369.4 593.2v12.2M1093.3 887.7h18.6M1461.4 887.7h-18.6M1093.3 770h18.6M1461.4 770h-18.6M1093.3 652.3h18.6M1461.4 652.3h-18.6M1093.3 946.5h12.2M1461.4 946.5h-12.2M1093.3 828.9h12.2M1461.4 828.9h-12.2M1093.3 711.1h12.2M1461.4 711.1h-12.2" fill="none" stroke="#000" stroke-width="1.7"/>
<text x="1093.3" y="1046.1" text-anchor="middle" font-size="26">400</text>
<text x="1277.4" y="1046.1" text-anchor="middle" font-size="26">600</text>
<text x="1461.5" y="1046.1" text-anchor="middle" font-size="26">800</text>
<text x="1081.3" y="1013.8" text-anchor="end" font-size="26">-2</text>
<text x="1081.3" y="896.1" text-anchor="end" font-size="26">-1</text>
<text x="1081.3" y="778.4" text-anchor="end" font-size="26">0</text>
<text x="1081.3" y="660.7" text-anchor="end" font-size="26">1</text>
<text x="1181.6" y="1103.3" font-size="27.5" textLength="215">W<tspan dx="2.6">avelength (nm)</tspan></text>
<text transform="translate(1040.5 785) rotate(-90)" font-size="28" text-anchor="middle">Normalized &#916;OD</text>
<text x="1459.8" y="638.8" font-size="29" text-anchor="end" fill="#000">2.6 mM</text>
<g clip-path="url(#cg)">
<polyline points="1460.4,762.8 1458,765.2 1455.6,763.5 1453.3,762.6 1451,761.2 1448.6,761.4 1446.3,755.6 1444,756 1441.8,757.1 1439.5,757 1437.3,756.9 1435,752.4 1432.8,752.8 1430.6,756.9 1428.4,754.2 1426.2,755 1424,754.1 1421.9,755.4 1419.7,754 1417.6,756.9 1415.5,752.1 1413.4,753.2 1411.3,752 1409.2,752 1407.1,750 1405.1,753.9 1403,750.5 1401,753.9 1399,751.6 1397,750.4 1395,753.8 1393,748.5 1391,750.4 1389,749.3 1387.1,750.9 1385.1,748 1383.2,749.9 1381.3,748.4 1379.4,744.6 1377.5,749.7 1375.6,749.2 1373.7,747.9 1371.8,748.7 1369.9,746.2 1368.1,747 1366.3,749.2 1364.4,741.7 1362.6,743.5 1360.8,741.1 1359,738.5 1357.2,740 1355.4,737 1353.6,737.3 1351.9,737.1 1350.1,735.5 1348.4,732.2 1346.6,735.5 1344.9,736.2 1343.2,732.7 1341.5,732.4 1339.8,729.9 1338.1,728.6 1336.4,722.9 1334.7,725.3 1333.1,725 1331.4,722 1329.8,719.7 1328.1,720.3 1326.5,717.2 1324.9,716.5 1323.3,719.3 1321.7,710.4 1320.1,711.9 1318.5,707.4 1316.9,709.6 1315.3,707.3 1313.8,706.4 1312.2,704.8 1310.7,702.5 1309.1,702 1307.6,699.2 1306,699.5 1304.5,699.4 1303,694.5 1301.5,697.6 1300,692.6 1298.5,695.6 1297,694.2 1295.6,691.9 1294.1,691.6 1292.6,688.5 1291.2,687.1 1289.7,687.1 1288.3,686.6 1286.9,686.4 1285.4,685.1 1284,685 1282.6,684.5 1281.2,683.1 1279.8,680.4 1278.4,678.7 1277,682.9 1275.7,680.6 1274.3,680.6 1272.9,680.9 1271.6,683.1 1270.2,681.4 1268.9,681.4 1267.5,679.6 1266.2,680.7 1264.9,683.5 1263.5,684.3 1262.2,686.9 1260.9,684.6 1259.6,686.1 1258.3,684.9 1257,684.1 1255.7,686.8 1254.5,687 1253.2,689.9 1251.9,692.7 1250.7,694.4 1249.4,693 1248.1,694.9 1246.9,695.9 1245.7,697.6 1244.4,696.5 1243.2,698.8 1242,702.8 1240.8,700.5 1239.5,707.1 1238.3,706.7 1237.1,704.3 1235.9,713 1234.8,713.5 1233.6,715.2 1232.4,719.1 1231.2,718.8 1230,723.5 1228.9,726.2 1227.7,730.5 1226.6,731.9 1225.4,736 1224.3,739.7 1223.1,746.1 1222,746.9 1220.9,754.7 1219.7,757.1 1218.6,761 1217.5,766.8 1216.4,769.6 1215.3,772.4 1214.2,777.8 1213.1,777.5 1212,782.1 1210.9,784.7 1209.8,788.4 1208.8,791.5 1207.7,791.5 1206.6,791.1 1205.6,794.3 1204.5,795.6 1203.4,795.4 1202.4,798 1201.3,797.2 1200.3,796.6 1199.3,800.4 1198.2,802 1197.2,802.6 1196.2,801.9 1195.2,803 1194.1,803 1193.1,803.7 1192.1,807 1191.1,806.1 1190.1,804.9 1189.1,806.8 1188.1,804.2 1187.1,807.5 1186.2,805.7 1185.2,805.1 1184.2,805.3 1183.2,806.6 1182.3,804.1 1181.3,805 1180.3,804 1179.4,803.6 1178.4,801.6 1177.5,800.3 1176.5,801.4 1175.6,800.3 1174.6,798.5 1173.7,796.2 1172.8,796.4 1171.9,796.5 1170.9,797.4 1170,793.4 1169.1,790.7 1168.2,793.3 1167.3,793.2 1166.4,790.1 1165.5,790.2 1164.6,789.9 1163.7,787.6 1162.8,788.5 1161.9,787 1161,786.1 1160.1,785.6 1159.3,787.4 1158.4,783.5 1157.5,781.3 1156.6,778.6 1155.8,779 1154.9,779.3 1154.1,776.2 1153.2,775.6 1152.3,776.8 1151.5,771.9 1150.7,774.7 1149.8,771.3 1149,769.7 1148.1,768.5 1147.3,767.7 1146.5,764.8 1145.6,766.5 1144.8,763.9 1144,765.5 1143.2,760.2 1142.4,761.3 1141.6,762.3 1140.8,759.5 1140,758.3 1139.1,758.4 1138.3,753.8 1137.6,755.5 1136.8,752.2 1136,751.4 1135.2,754.5 1134.4,751.5 1133.6,752 1132.8,747 1132.1,748.5 1131.3,743.6 1130.5,742.9 1129.7,741.6 1129,740.7 1128.2,739.2 1127.5,739.8 1126.7,741.4 1125.9,736.9 1125.2,737.1 1124.4,735.5 1123.7,734.4 1123,735 1122.2,731.9 1121.5,729.4 1120.7,731.6 1120,728.4 1119.3,725.6 1118.6,727.6 1117.8,726.4 1117.1,727.5 1116.4,724.2 1115.7,723 1114.9,722.9 1114.2,717.4 1113.5,718.2 1112.8,718.6 1112.1,718.4 1111.4,716.7 1110.7,714.7 1110,715.7 1109.3,715.3 1108.6,712.6 1107.9,710 1107.2,711.5 1106.6,712.1 1105.9,711.1 1105.2,707.2 1104.5,710 1103.8,707.7 1103.2,706.7 1102.5,705.3 1101.8,702.2 1101.1,702.6 1100.5,702 1099.8,704.5 1099.2,702.8 1098.5,701.7 1097.8,702.1 1097.2,701 1096.5,701.1 1095.9,700.7 1095.2,702.7 1094.6,699.7 1093.9,699 1093.3,696.9" fill="none" stroke="none" marker-start="url(#mr)" marker-mid="url(#mr)" marker-end="url(#mr)"/>
<polyline points="1460.4,762.7 1458,761.3 1455.6,758 1453.3,759.5 1451,753.9 1448.6,757 1446.3,755.1 1444,751.5 1441.8,759.2 1439.5,755.8 1437.3,750.6 1435,754.4 1432.8,755.1 1430.6,751 1428.4,755.2 1426.2,754.5 1424,751.1 1421.9,751.2 1419.7,751.8 1417.6,753.3 1415.5,749.5 1413.4,751.5 1411.3,750.8 1409.2,748.3 1407.1,750.2 1405.1,752.4 1403,748.4 1401,747.1 1399,749.1 1397,747.7 1395,748.5 1393,746.8 1391,746.7 1389,746.8 1387.1,744.8 1385.1,746 1383.2,745.8 1381.3,744.4 1379.4,742.7 1377.5,743.4 1375.6,743.8 1373.7,740.6 1371.8,743.4 1369.9,741.5 1368.1,740 1366.3,736.3 1364.4,738.4 1362.6,738.1 1360.8,737.5 1359,735.5 1357.2,733.2 1355.4,735.3 1353.6,728.5 1351.9,728.2 1350.1,728.4 1348.4,726.2 1346.6,723.4 1344.9,720.8 1343.2,722.6 1341.5,719.4 1339.8,718.3 1338.1,716.8 1336.4,713.8 1334.7,708.3 1333.1,705.9 1331.4,704.4 1329.8,705.9 1328.1,702.1 1326.5,704.4 1324.9,700.8 1323.3,695.6 1321.7,694.2 1320.1,696.6 1318.5,692.6 1316.9,691.3 1315.3,686 1313.8,683.7 1312.2,682.8 1310.7,679.4 1309.1,682.8 1307.6,676.9 1306,676.3 1304.5,678.4 1303,676.7 1301.5,675.1 1300,674.9 1298.5,669.7 1297,671.1 1295.6,671.6 1294.1,666.6 1292.6,671.5 1291.2,670.8 1289.7,668.2 1288.3,664.2 1286.9,664 1285.4,665.2 1284,665.5 1282.6,665.6 1281.2,664.1 1279.8,661.2 1278.4,662.4 1277,661.1 1275.7,660.7 1274.3,659.6 1272.9,656.6 1271.6,656.8 1270.2,658.1 1268.9,659.3 1267.5,653.6 1266.2,658.1 1264.9,657.2 1263.5,657.3 1262.2,658.1 1260.9,658.7 1259.6,660.3 1258.3,659 1257,662.1 1255.7,666.5 1254.5,667 1253.2,669.6 1251.9,668.6 1250.7,675.1 1249.4,675.9 1248.1,680.3 1246.9,682 1245.7,688.4 1244.4,693.4 1243.2,699.8 1242,701.8 1240.8,708.9 1239.5,710.4 1238.3,716.7 1237.1,719.6 1235.9,724.4 1234.8,729.6 1233.6,730.2 1232.4,736.2 1231.2,739.8 1230,744.9 1228.9,750.2 1227.7,754.4 1226.6,762.6 1225.4,766.3 1224.3,773.9 1223.1,782.9 1222,788.7 1220.9,795.4 1219.7,799.5 1218.6,805.3 1217.5,811.2 1216.4,816.5 1215.3,820.9 1214.2,823.8 1213.1,828.5 1212,831.1 1210.9,835.7 1209.8,838.6 1208.8,842.1 1207.7,844.6 1206.6,845.9 1205.6,850.3 1204.5,854.9 1203.4,858.1 1202.4,865.5 1201.3,868.7 1200.3,870.6 1199.3,871.3 1198.2,878.1 1197.2,878.7 1196.2,878.3 1195.2,880.6 1194.1,882.3 1193.1,883.3 1192.1,887.3 1191.1,887.2 1190.1,885.4 1189.1,888.1 1188.1,889.7 1187.1,889 1186.2,890.7 1185.2,888.1 1184.2,888.7 1183.2,891.8 1182.3,890.3 1181.3,891.9 1180.3,888.7 1179.4,886.2 1178.4,889.1 1177.5,888.2 1176.5,888.3 1175.6,887.3 1174.6,887 1173.7,883.8 1172.8,885.4 1171.9,883.6 1170.9,882.7 1170,881.7 1169.1,881.1 1168.2,881.3 1167.3,878.4 1166.4,876.9 1165.5,873.4 1164.6,870.8 1163.7,870.7 1162.8,868.2 1161.9,866.7 1161,865.5 1160.1,864.6 1159.3,861.9 1158.4,864.1 1157.5,861.5 1156.6,856.7 1155.8,860 1154.9,858.1 1154.1,859.4 1153.2,855.6 1152.3,855 1151.5,852.5 1150.7,849 1149.8,848 1149,848.1 1148.1,845 1147.3,842.3 1146.5,842 1145.6,838.7 1144.8,839.4 1144,837.4 1143.2,835.7 1142.4,837.8 1141.6,838.6 1140.8,835.5 1140,838.3 1139.1,836.2 1138.3,837.3 1137.6,835.9 1136.8,835.2 1136,831.9 1135.2,834.6 1134.4,833.9 1133.6,833.5 1132.8,836 1132.1,833.3 1131.3,834.2 1130.5,832.7 1129.7,832.2 1129,842.8 1128.2,827 1127.5,826.3 1126.7,832 1125.9,823.4 1125.2,831.9 1124.4,825 1123.7,830.1 1123,829.1 1122.2,836.6 1121.5,825.2 1120.7,834.6 1120,822.8 1119.3,828.7 1118.6,821.3 1117.8,814 1117.1,821 1116.4,832.1 1115.7,839.1 1114.9,824.5 1114.2,821.2 1113.5,827.8 1112.8,831.6 1112.1,813.6 1111.4,829.3 1110.7,812.4 1110,819.7 1109.3,808.5 1108.6,828.2 1107.9,819.8 1107.2,820 1106.6,825.6 1105.9,819.1 1105.2,814.7 1104.5,809.4 1103.8,821.7 1103.2,815.6 1102.5,824 1101.8,814.8 1101.1,813.8 1100.5,816.4 1099.8,811.8 1099.2,821.8 1098.5,812.6 1097.8,810.6 1097.2,817.5 1096.5,822.6 1095.9,815.3 1095.2,808.4 1094.6,817.9 1093.9,808.7 1093.3,810.9" fill="none" stroke="none" marker-start="url(#mk)" marker-mid="url(#mk)" marker-end="url(#mk)"/>
<polyline points="1460.4,746.2 1458,746.9 1455.6,741.8 1453.3,743.9 1451,742.5 1448.6,739.2 1446.3,738 1444,732.7 1441.8,738.2 1439.5,731.3 1437.3,731.1 1435,726.8 1432.8,731.9 1430.6,727 1428.4,729.1 1426.2,732.9 1424,728.9 1421.9,729.7 1419.7,725.2 1417.6,727 1415.5,725 1413.4,728.9 1411.3,724.4 1409.2,728.9 1407.1,731.1 1405.1,728.4 1403,728.6 1401,729.4 1399,730.1 1397,727.7 1395,728.6 1393,729 1391,731 1389,731.5 1387.1,728.4 1385.1,729.7 1383.2,726.7 1381.3,727.3 1379.4,728 1377.5,722.7 1375.6,724.5 1373.7,721.6 1371.8,719.4 1369.9,718.7 1368.1,717.8 1366.3,716.1 1364.4,717 1362.6,714.9 1360.8,716 1359,714.2 1357.2,716 1355.4,712.5 1353.6,710.4 1351.9,709.5 1350.1,706 1348.4,703.8 1346.6,702.4 1344.9,701.8 1343.2,699.9 1341.5,692.8 1339.8,695.5 1338.1,689.6 1336.4,686.7 1334.7,682.5 1333.1,681.9 1331.4,681.2 1329.8,678.3 1328.1,675.1 1326.5,673 1324.9,673.5 1323.3,672.2 1321.7,669.8 1320.1,668.1 1318.5,661.7 1316.9,662.1 1315.3,662 1313.8,660.2 1312.2,661.6 1310.7,660.5 1309.1,656.3 1307.6,661 1306,659.6 1304.5,659.2 1303,657.4 1301.5,659.3 1300,660.4 1298.5,659.4 1297,653 1295.6,657.1 1294.1,655.5 1292.6,653.5 1291.2,654.7 1289.7,653.8 1288.3,656.9 1286.9,654.3 1285.4,654.7 1284,651 1282.6,650.4 1281.2,649.5 1279.8,651.6 1278.4,651.1 1277,649.5 1275.7,653.3 1274.3,651 1272.9,650.2 1271.6,650.2 1270.2,653 1268.9,656 1267.5,657.4 1266.2,658.6 1264.9,659.8 1263.5,662.4 1262.2,665.6 1260.9,667.8 1259.6,670.9 1258.3,674.5 1257,676.7 1255.7,681.4 1254.5,683.8 1253.2,690.5 1251.9,693.3 1250.7,697.8 1249.4,702.1 1248.1,706.6 1246.9,710.1 1245.7,715.6 1244.4,718.2 1243.2,722.5 1242,725 1240.8,727.6 1239.5,731.7 1238.3,735 1237.1,740.3 1235.9,745.2 1234.8,753.4 1233.6,762.8 1232.4,773.6 1231.2,784.3 1230,805.9 1228.9,808.4 1227.7,801.1 1226.6,819.5 1225.4,826.3 1224.3,830.3 1223.1,844.8 1222,837.9 1220.9,834.8 1219.7,856.8 1218.6,856.7 1217.5,853.8 1216.4,857.6 1215.3,855.2 1214.2,879.5 1213.1,880.1 1212,872.7 1210.9,874.2 1209.8,874.8 1208.8,878.9 1207.7,885.9 1206.6,888.3 1205.6,881.3 1204.5,887.1 1203.4,895.2 1202.4,911 1201.3,912.6 1200.3,921.3 1199.3,925.8 1198.2,926.7 1197.2,945.4 1196.2,953.9 1195.2,944.8 1194.1,950.5 1193.1,959.1 1192.1,956.3 1191.1,947.8 1190.1,939.3 1189.1,935.8 1188.1,940 1187.1,944.5 1186.2,928 1185.2,934.5 1184.2,940.3 1183.2,944.3 1182.3,935.1 1181.3,929.9 1180.3,934.6 1179.4,931.9 1178.4,928.7 1177.5,936.5 1176.5,920.9 1175.6,934.8 1174.6,927.2 1173.7,929.5 1172.8,929.1 1171.9,939.1 1170.9,931.4 1170,929 1169.1,930.3 1168.2,930.4 1167.3,933.5 1166.4,931.2 1165.5,923.1 1164.6,925.3 1163.7,922.2 1162.8,916.4 1161.9,915.6 1161,906.3 1160.1,911.3 1159.3,909 1158.4,904.5 1157.5,904.4 1156.6,895.3 1155.8,894 1154.9,893.8 1154.1,892.9 1153.2,893.7 1152.3,885.7 1151.5,894.5 1150.7,894.9 1149.8,892.1 1149,886.2 1148.1,893.5 1147.3,888.7 1146.5,880.8 1145.6,866.6 1144.8,863.7 1144,875.2 1143.2,862.1 1142.4,875.3 1141.6,862.2 1140.8,855.5 1140,858.9 1139.1,855.3 1138.3,859.6 1137.6,855.9 1136.8,849.5 1136,854 1135.2,850.6 1134.4,847.2 1133.6,839.5 1132.8,848.1 1132.1,841.7 1131.3,847.5 1130.5,846.6 1129.7,856.1 1129,837.8 1128.2,822.9 1127.5,836.5 1126.7,836.4 1125.9,825.1 1125.2,816 1124.4,812.3 1123.7,821.5 1123,819.4 1122.2,821.4 1121.5,826.9 1120.7,824.4 1120,804.1 1119.3,821 1118.6,805.4 1117.8,817 1117.1,816 1116.4,818.8 1115.7,819 1114.9,817.7 1114.2,824.1 1113.5,808.9 1112.8,818.3 1112.1,817.1 1111.4,820.9 1110.7,816.6 1110,810.1 1109.3,807.5 1108.6,823.1 1107.9,828.5 1107.2,829 1106.6,830.9 1105.9,814.4 1105.2,837.8 1104.5,802.6 1103.8,810.4 1103.2,830.3 1102.5,840.6 1101.8,816.5 1101.1,826.5 1100.5,824.6 1099.8,834.7 1099.2,825.2 1098.5,819.2 1097.8,827 1097.2,829.8 1096.5,802.9 1095.9,817.9 1095.2,821.2 1094.6,792.3 1093.9,821 1093.3,812.4" fill="none" stroke="none" marker-start="url(#mb)" marker-mid="url(#mb)" marker-end="url(#mb)"/>
<polyline points="1460.4,760.1 1458,757.6 1455.6,757.1 1453.3,758.6 1451,755.3 1448.6,755.4 1446.3,753.3 1444,752.8 1441.8,752.8 1439.5,750.9 1437.3,754.8 1435,752.9 1432.8,748.9 1430.6,750.5 1428.4,751.1 1426.2,749.7 1424,750.4 1421.9,750.1 1419.7,750.1 1417.6,747.2 1415.5,750.5 1413.4,748.4 1411.3,747.7 1409.2,748.3 1407.1,748.3 1405.1,746.7 1403,748.6 1401,749.3 1399,749.4 1397,748.3 1395,749.1 1393,747.8 1391,749.3 1389,752.1 1387.1,752.2 1385.1,753.3 1383.2,750.1 1381.3,751.7 1379.4,750.3 1377.5,750.1 1375.6,751.1 1373.7,753.3 1371.8,755.2 1369.9,753 1368.1,749 1366.3,752.2 1364.4,751.3 1362.6,753.1 1360.8,751.3 1359,754.1 1357.2,753.6 1355.4,752.4 1353.6,752.4 1351.9,752.6 1350.1,752.5 1348.4,753.4 1346.6,752.1 1344.9,751.8 1343.2,752 1341.5,748.1 1339.8,751.6 1338.1,749.5 1336.4,748.2 1334.7,749.3 1333.1,749.3 1331.4,748.8 1329.8,745.6 1328.1,745.2 1326.5,744.5 1324.9,744.8 1323.3,743.3 1321.7,740.1 1320.1,741.7 1318.5,742.5 1316.9,741.5 1315.3,742.1 1313.8,739.1 1312.2,737.2 1310.7,737.7 1309.1,737.8 1307.6,740.2 1306,741.1 1304.5,741.6 1303,740.7 1301.5,739.7 1300,739.7 1298.5,741.7 1297,740.2 1295.6,739.5 1294.1,738.9 1292.6,743.5 1291.2,738.8 1289.7,740.5 1288.3,738.9 1286.9,743 1285.4,739.3 1284,741.3 1282.6,739.2 1281.2,738.5 1279.8,743.6 1278.4,741.7 1277,740.1 1275.7,739.5 1274.3,738.1 1272.9,738.9 1271.6,737 1270.2,740 1268.9,739 1267.5,742.3 1266.2,743.4 1264.9,740.7 1263.5,741.1 1262.2,744.5 1260.9,744.6 1259.6,743.2 1258.3,742.8 1257,743.7 1255.7,745.6 1254.5,745 1253.2,748.6 1251.9,747.5 1250.7,748.9 1249.4,749.3 1248.1,750.6 1246.9,750.9 1245.7,751.4 1244.4,755.6 1243.2,757.9 1242,759.2 1240.8,761.6 1239.5,762.5 1238.3,763.3 1237.1,766.2 1235.9,767.4 1234.8,770.4 1233.6,771.7 1232.4,772.1 1231.2,778.7 1230,778.1 1228.9,781 1227.7,786.7 1226.6,789.5 1225.4,788.1 1224.3,790.5 1223.1,790 1222,795.5 1220.9,798.8 1219.7,798.1 1218.6,793.1 1217.5,796.3 1216.4,799.2 1215.3,792.9 1214.2,801.2 1213.1,796.5 1212,813.1 1210.9,803.6 1209.8,801.4 1208.8,811.3 1207.7,805.3 1206.6,808.2 1205.6,810 1204.5,809 1203.4,810.7 1202.4,813.1 1201.3,811.4 1200.3,814.4 1199.3,816.2 1198.2,816.8 1197.2,818.2 1196.2,818.1 1195.2,820.7 1194.1,818 1193.1,818.9 1192.1,817.9 1191.1,817.1 1190.1,817.2 1189.1,816.6 1188.1,817 1187.1,818 1186.2,819.1 1185.2,809.8 1184.2,819.8 1183.2,816.1 1182.3,824.4 1181.3,818.3 1180.3,814.2 1179.4,820.9 1178.4,823.2 1177.5,822.9 1176.5,821.1 1175.6,819.5 1174.6,820.5 1173.7,826.8 1172.8,822.5 1171.9,819.7 1170.9,819.4 1170,823 1169.1,820.1 1168.2,818.3 1167.3,811.8 1166.4,816.8 1165.5,813.4 1164.6,808.2 1163.7,813.5 1162.8,814.6 1161.9,814 1161,809.1 1160.1,812.7 1159.3,806.1 1158.4,811.8 1157.5,806.5 1156.6,803.2 1155.8,806.8 1154.9,801.1 1154.1,810.1 1153.2,797.7 1152.3,799.9 1151.5,799.9 1150.7,798.8 1149.8,802.9 1149,797.1 1148.1,798.3 1147.3,793.8 1146.5,788 1145.6,788.1 1144.8,790.8 1144,788.2 1143.2,790.2 1142.4,797.7 1141.6,793.2 1140.8,787.5 1140,791.8 1139.1,787 1138.3,785.9 1137.6,789.4 1136.8,792.4 1136,789.6 1135.2,789.4 1134.4,792.6 1133.6,798.3 1132.8,792.5 1132.1,791 1131.3,802.3 1130.5,800.7 1129.7,806.7 1129,796.2 1128.2,803.3 1127.5,815.7 1126.7,812.3 1125.9,814.2 1125.2,794.3 1124.4,811.3 1123.7,795.9 1123,781.9 1122.2,791.8 1121.5,786.8 1120.7,770.4 1120,779.9 1119.3,785.7 1118.6,788.8 1117.8,799.6 1117.1,782.4 1116.4,781.4 1115.7,774.8 1114.9,775.6 1114.2,795.1 1113.5,787.9 1112.8,778.8 1112.1,784.9 1111.4,777.7 1110.7,770.8 1110,793.5 1109.3,777.2 1108.6,787.9 1107.9,795.3 1107.2,769.2 1106.6,781.2 1105.9,777.4 1105.2,778.8 1104.5,785.3 1103.8,783.3 1103.2,782.7 1102.5,782.8 1101.8,773.4 1101.1,786.2 1100.5,778.3 1099.8,761.5 1099.2,786.6 1098.5,769.4 1097.8,795.2 1097.2,773.3 1096.5,774.9 1095.9,802.8 1095.2,789.5 1094.6,780.2 1093.9,775.9 1093.3,784.3" fill="none" stroke="none" marker-start="url(#md)" marker-mid="url(#md)" marker-end="url(#md)"/>
<polyline points="1460.4,750.7 1458,750.8 1455.6,750.5 1453.3,745.9 1451,748.2 1448.6,745.9 1446.3,746.2 1444,746.4 1441.8,748.5 1439.5,746.2 1437.3,742.5 1435,745.4 1432.8,745.8 1430.6,743.3 1428.4,742.7 1426.2,744.8 1424,743.4 1421.9,742.1 1419.7,741.6 1417.6,743.7 1415.5,740.5 1413.4,741 1411.3,742.6 1409.2,742 1407.1,740 1405.1,742.4 1403,741.8 1401,742.2 1399,744.1 1397,740.1 1395,742.8 1393,743.1 1391,744.1 1389,742.3 1387.1,743.3 1385.1,744.6 1383.2,741.4 1381.3,744.9 1379.4,744.8 1377.5,745.3 1375.6,743.9 1373.7,746.2 1371.8,743.2 1369.9,743.5 1368.1,747.7 1366.3,744.7 1364.4,744.1 1362.6,744.9 1360.8,745.3 1359,746.2 1357.2,746.4 1355.4,742.3 1353.6,744.1 1351.9,744.5 1350.1,742.2 1348.4,742.6 1346.6,745.5 1344.9,743.6 1343.2,744 1341.5,745.2 1339.8,745 1338.1,745.1 1336.4,746.3 1334.7,745.4 1333.1,748.4 1331.4,748.2 1329.8,745.6 1328.1,747.7 1326.5,749.8 1324.9,749.2 1323.3,748.6 1321.7,750.9 1320.1,751.9 1318.5,749.7 1316.9,751.7 1315.3,752.6 1313.8,750.9 1312.2,751.5 1310.7,751 1309.1,751.2 1307.6,751 1306,753.1 1304.5,753.8 1303,752.1 1301.5,755.3 1300,751.6 1298.5,751.9 1297,753.8 1295.6,753.4 1294.1,758 1292.6,754.2 1291.2,756.4 1289.7,755.2 1288.3,754.9 1286.9,753.9 1285.4,754.8 1284,754.7 1282.6,756.4 1281.2,756.6 1279.8,753.7 1278.4,758.1 1277,753.1 1275.7,756.4 1274.3,757.6 1272.9,753.4 1271.6,757.6 1270.2,754.8 1268.9,757 1267.5,759.3 1266.2,755.8 1264.9,756.8 1263.5,755.9 1262.2,758.4 1260.9,759.2 1259.6,758.8 1258.3,759.7 1257,762.3 1255.7,760.1 1254.5,758.5 1253.2,757.3 1251.9,760.5 1250.7,759.4 1249.4,759.2 1248.1,760.6 1246.9,762.4 1245.7,760.2 1244.4,761.1 1243.2,763.1 1242,761 1240.8,760.9 1239.5,762 1238.3,761.3 1237.1,761.4 1235.9,758.6 1234.8,761.4 1233.6,763.9 1232.4,763.8 1231.2,762 1230,763.1 1228.9,766.1 1227.7,762.8 1226.6,763.7 1225.4,763.4 1224.3,764.3 1223.1,762.6 1222,762.2 1220.9,761.8 1219.7,765.2 1218.6,761.7 1217.5,772.4 1216.4,779.8 1215.3,778.5 1214.2,778.5 1213.1,775.9 1212,774.5 1210.9,775.6 1209.8,774.8 1208.8,774.7 1207.7,775.1 1206.6,775.9 1205.6,773.7 1204.5,772.7 1203.4,776.3 1202.4,772.7 1201.3,776 1200.3,776.1 1199.3,774.4 1198.2,773.1 1197.2,775.3 1196.2,776 1195.2,773.7 1194.1,772.6 1193.1,773.5 1192.1,772.7 1191.1,770.5 1190.1,771.2 1189.1,776.1 1188.1,774.5 1187.1,773.3 1186.2,773.4 1185.2,773.2 1184.2,770.6 1183.2,773.2 1182.3,773 1181.3,770.7 1180.3,772.8 1179.4,776.4 1178.4,770.8 1177.5,772.9 1176.5,776.3 1175.6,777.6 1174.6,774.6 1173.7,776.5 1172.8,777.2 1171.9,776.7 1170.9,775.9 1170,774.6 1169.1,775.4 1168.2,774.6 1167.3,770 1166.4,772.5 1165.5,770.1 1164.6,767.3 1163.7,770.8 1162.8,772.6 1161.9,770.6 1161,767.3 1160.1,768.5 1159.3,766.5 1158.4,767.4 1157.5,764 1156.6,763.8 1155.8,763.3 1154.9,763.2 1154.1,762.5 1153.2,763.6 1152.3,760 1151.5,756.6 1150.7,764.5 1149.8,759 1149,752.6 1148.1,766.4 1147.3,757.8 1146.5,758.6 1145.6,758.8 1144.8,751.9 1144,757.9 1143.2,758.7 1142.4,744.1 1141.6,766.5 1140.8,757 1140,753.2 1139.1,756.4 1138.3,750.5 1137.6,752.6 1136.8,747.3 1136,759 1135.2,755.6 1134.4,762.5 1133.6,774.6 1132.8,770.8 1132.1,762.6 1131.3,757.5 1130.5,772.1 1129.7,763.2 1129,772.1 1128.2,771.3 1127.5,754 1126.7,775.3 1125.9,744.2 1125.2,733.2 1124.4,745.8 1123.7,752.6 1123,747.3 1122.2,744.4 1121.5,743.7 1120.7,756.1 1120,748.8 1119.3,749.6 1118.6,757.8 1117.8,736.3 1117.1,749.2 1116.4,742.7 1115.7,739.3 1114.9,741.1 1114.2,744.1 1113.5,722.4 1112.8,749.6 1112.1,738.6 1111.4,725.4 1110.7,733.4 1110,746.4 1109.3,761.2 1108.6,734.3 1107.9,741.8 1107.2,747.3 1106.6,721.8 1105.9,741.8 1105.2,739.8 1104.5,741.8 1103.8,727.5 1103.2,748.7 1102.5,743.1 1101.8,746.6 1101.1,752.3 1100.5,712.7 1099.8,752.6 1099.2,724.4 1098.5,726.5 1097.8,708 1097.2,713.9 1096.5,704.8 1095.9,765.5 1095.2,753.4 1094.6,760.4 1093.9,720.8 1093.3,733.5" fill="none" stroke="none" marker-start="url(#mg)" marker-mid="url(#mg)" marker-end="url(#mg)"/>
</g>
<polyline points="1224.6,846.2" fill="none" stroke="none" marker-start="url(#mr)" marker-mid="url(#mr)" marker-end="url(#mr)"/>
<text x="1260.6" y="855.6" font-size="22" text-anchor="start" fill="#ff0000">1-5 ns</text>
<polyline points="1224.6,878" fill="none" stroke="none" marker-start="url(#mk)" marker-mid="url(#mk)" marker-end="url(#mk)"/>
<text x="1260.6" y="887.4" font-size="22" text-anchor="start" fill="#000000">10-50 ns</text>
<polyline points="1224.6,909.9" fill="none" stroke="none" marker-start="url(#mb)" marker-mid="url(#mb)" marker-end="url(#mb)"/>
<text x="1260.6" y="919.3" font-size="22" text-anchor="start" fill="#0000ff">50-100 ns</text>
<polyline points="1224.6,941.9" fill="none" stroke="none" marker-start="url(#md)" marker-mid="url(#md)" marker-end="url(#md)"/>
<text x="1260.6" y="951.3" font-size="22" text-anchor="start" fill="#800000">100-500 ns</text>
<polyline points="1224.6,973.8" fill="none" stroke="none" marker-start="url(#mg)" marker-mid="url(#mg)" marker-end="url(#mg)"/>
<text x="1260.6" y="983.2" font-size="22" text-anchor="start" fill="#008000">1-5&#956;s</text>
<text x="1588" y="576" font-size="28.5" font-weight="bold">h</text>
<rect x="1591.5" y="591.6" width="379.1" height="407.4" fill="none" stroke="#000" stroke-width="1.7"/>
<path d="M1717.9 999v-18.6M1717.9 591.6v18.6M1844.2 999v-18.6M1844.2 591.6v18.6M1654.7 999v-12.2M1654.7 591.6v12.2M1781 999v-12.2M1781 591.6v12.2M1907.4 999v-12.2M1907.4 591.6v12.2M1591.5 814.4h18.6M1970.6 814.4h-18.6M1591.5 628.3h18.6M1970.6 628.3h-18.6M1591.5 907.5h12.2M1970.6 907.5h-12.2M1591.5 721.4h12.2M1970.6 721.4h-12.2" fill="none" stroke="#000" stroke-width="1.7"/>
<text x="1591.5" y="1037.5" text-anchor="middle" font-size="23">400</text>
<text x="1717.9" y="1037.5" text-anchor="middle" font-size="23">600</text>
<text x="1844.2" y="1037.5" text-anchor="middle" font-size="23">800</text>
<text x="1970.6" y="1037.5" text-anchor="middle" font-size="23">1000</text>
<text x="1583" y="1007.8" text-anchor="end" font-size="23">0.0</text>
<text x="1583" y="821.7" text-anchor="end" font-size="23">0.5</text>
<text x="1583" y="635.6" text-anchor="end" font-size="23">1.0</text>
<text x="1673.5" y="1103.4" font-size="27.5" textLength="215">W<tspan dx="2.6">avelength (nm)</tspan></text>
<text transform="translate(1536.4 785) rotate(-90)" font-size="28" text-anchor="middle">Normalized &#916;OD</text>
<g clip-path="url(#ch)">
<polyline points="1970.6,934.6 1967.7,933.1 1964.9,931.6 1962.1,930 1959.2,928.4 1956.4,926.7 1953.5,924.8 1950.7,922.9 1947.8,920.7 1945,918.2 1942.1,915.3 1939.3,911.5 1936.5,907.2 1933.6,903.1 1930.8,899 1927.9,895 1925.1,891 1922.2,887.4 1919.4,884.1 1916.6,880.8 1913.7,877.3 1910.9,873.6 1908,869.7 1906.5,867.4 1904.9,865 1903.3,862.4 1901.7,859.6 1900.1,856.5 1898.6,853.3 1897,850 1895.4,846.6 1893.8,843.2 1892.2,839.7 1890.7,836.1 1889.1,832.5 1887.5,828.7 1885.9,824.7 1884.3,820.5 1882.8,815.9 1881.2,810.7 1879.6,805.3 1878,799.7 1876.4,794.1 1874.9,788.9 1873.3,784 1871.7,779.3 1870.1,774.7 1868.5,770.3 1867,766 1865.4,761.7 1863.8,757.6 1862.2,753.6 1860.6,749.8 1859.1,746.1 1857.5,742.4 1855.9,738.6 1854.3,734.7 1852.7,730.8 1851.2,726.7 1849.6,722.6 1848,718.5 1846.4,714.3 1844.9,710.2 1843.3,706.1 1841.7,702 1840.1,697.9 1838.5,693.7 1837,689.6 1835.4,685.6 1833.8,681.7 1832.2,677.7 1830.6,673.8 1829.1,670 1827.5,666.2 1825.9,662.5 1824.3,658.8 1822.7,655 1821.8,652.7 1820.8,650.4 1819.9,648.1 1818.9,645.9 1818,643.7 1817.1,641.8 1816.1,639.9 1815.2,638.4 1814.2,637 1813.3,635.7 1812.3,634.5 1811.4,633.5 1810.7,632.8 1810.1,632.3 1809.5,631.7 1808.8,631.3 1808.2,630.9 1807.6,630.4 1806.9,630 1806.3,629.6 1805.7,629.3 1805,628.9 1804.4,628.7 1803.8,628.5 1803.2,628.3 1802.5,629.7 1801.9,629 1801.3,629.6 1800.6,630.2 1800,632.3 1799.4,629.4 1798.7,628.2 1798.1,629.1 1797.5,628.6 1796.8,630 1796.2,629.8 1795.6,632.3 1794.9,631.1 1794.3,634.3 1793.7,630 1793,630.4 1792.4,633.7 1791.8,633.6 1791.1,636.2 1790.5,636.7 1789.9,637.1 1789.3,639.4 1788.6,637.9 1788,638.7 1787.4,639.4 1786.7,638.2 1786.1,639.9 1785.5,641.2 1784.8,643.8 1784.2,642.3 1783.6,646.6 1782.9,645.9 1782.3,646.2 1781.7,647.6 1781,648.6 1780.4,651.2 1779.8,652.6 1779.1,649.7 1778.5,656.7 1777.9,655 1777.2,654.6 1776.6,654.6 1776,657.7 1775.4,654.8 1774.7,658 1774.1,655.7 1773.5,658.8 1772.8,659.4 1772.2,659.3 1771.6,659.7 1770.9,661 1770.3,660.3 1769.7,662.2 1769,663.3 1768.4,662.3 1767.8,665.4 1767.1,664.1 1766.5,664.5 1765.9,665.5 1765.2,663.9 1764.6,663.3 1764,667.4 1763.3,666.6 1762.7,665.2 1762.1,664.5 1761.5,664.9 1760.8,665.9 1760.2,667.3 1759.6,666.1 1758.9,667.8 1758.3,668.5 1757.7,669.2 1757,666.4 1756.4,667.5 1755.8,668.6 1755.1,667.7 1754.5,670.6 1753.9,671 1753.2,671 1752.6,672.1 1752,669 1751.3,669.4 1750.7,672 1750.1,672.6 1749.5,671.8 1748.8,672.1 1748.2,673.6 1747.6,672 1746.9,673.7 1746.3,673.7 1745.7,673.9 1745,672.8 1744.4,672.4 1743.8,670.7 1743.1,670.4 1742.5,671.8 1741.9,670.3 1741.2,672.5 1740.6,671.5 1740,671.9 1739.3,672 1738.7,669.5 1738.1,668.9 1737.4,671.1 1736.8,668.2 1736.2,669.2 1735.6,667.4 1734.9,667.6 1734.3,671 1733.7,665.2 1733,666.6 1732.4,666.3 1731.8,667.4 1731.1,669 1730.5,665.2 1729.9,668 1729.2,665.3 1728.6,664.3 1728,664.9 1727.3,664.1 1726.7,666.5 1726.1,663.3 1725.4,660.8 1724.8,660.8 1724.2,662 1723.5,663.5 1722.9,663.4 1722.3,663 1721.7,662 1721,662.3 1720.4,658.3 1719.8,660.1 1719.1,661.4 1718.5,656.2 1717.9,655.8 1717.2,656.9 1716.6,657.1 1716,654.2 1715.3,656.5 1714.7,655.7 1714.1,656.1 1713.4,657.9 1712.8,658.2 1712.2,656.4 1711.5,658.1 1710.9,659.5 1710.3,656.8 1709.6,659.9 1709,662.8 1708.4,663.9 1707.8,662.6 1707.1,662.8 1706.5,663.7 1705.9,661.6 1705.2,665.7 1704.6,663.4 1704,665.1 1703.3,663.1 1702.7,662.8 1702.1,662 1701.4,663.7 1700.8,663.3 1700.2,662.9 1699.5,660.8 1698.9,662.4 1698.3,660.3 1697.6,661.2 1697,658.7 1696.4,658.3 1695.7,657.5 1695.1,658.6 1694.5,660 1693.9,658.2 1693.2,658.3 1692.6,657.1 1692,657.8 1691.3,657.3 1690.7,654.4 1690.1,653.4 1689.4,652.3 1688.8,654.3 1688.2,653.1 1687.5,651.9 1686.9,651.3 1686.3,648.2 1685.6,647.9 1685,648.5 1684.4,646.5 1683.7,645.2 1683.1,646 1682.5,645.8 1681.8,642.8 1681.2,641.6 1680.6,639.8 1680,642.3 1679.3,639.4 1678.7,639 1678.1,637.5 1677.4,635.3 1676.8,633.2 1676.2,634.7 1675.5,634.6 1674.9,631 1674.3,630.8 1673.6,630.8 1673,628.8 1672.4,626.4 1671.7,628.6 1671.1,628.9 1670.5,628.4 1669.8,630.3 1669.2,626.5 1668.6,629.3 1667.9,629.8 1667.3,633 1666.7,631.7 1666.1,632.3 1665.4,634.9 1664.8,635.6 1664.2,637.3 1663.5,640.3 1662.9,640.5 1662.3,646.5 1661.6,648.1 1661,644.3 1660.4,648.8 1659.7,647.5 1659.1,650.1 1658.5,655 1657.8,657.5 1657.2,659.4 1656.6,664.9 1655.9,671.1 1655.3,677 1654.7,684.6 1654,691.7 1653.4,696 1652.8,704.2 1652.2,705.7 1651.5,711 1650.9,715.7 1650.3,721.8 1649.6,723.6 1649,730.9 1648.4,736.3 1647.7,740.7 1647.1,746.3 1646.5,748.1 1645.8,753.6 1645.2,757.2 1644.6,760.7 1643.9,759.4 1643.3,763.4 1642.7,769.8 1642,768.9 1641.4,775.3 1640.8,776.6 1640.1,779.7 1639.5,781.5 1638.9,785 1638.3,789.3 1637.6,797.5 1637,804.6 1636.4,811 1635.7,816.3 1635.1,822.8 1634.5,828.5 1633.8,829.3 1633.2,836.5 1632.6,840.9 1631.9,840.3 1631.3,846.8 1630.7,851 1630,851 1629.4,858 1628.8,858 1628.1,861.7 1627.5,865.9 1626.9,866.4 1626.2,871.3 1625.6,874.1 1625,876.8 1624.4,878.4 1623.7,880.9 1623.1,882.1 1622.5,885 1621.8,885.8 1621.2,883.1 1620.6,882.9 1619.9,884.8 1619.3,881.7 1618.7,883.1 1618,883.5 1617.4,885.1 1616.8,883.6 1616.1,881.3 1615.5,885.3 1614.9,880.7 1614.2,881.9 1613.6,881.8 1613,881.3 1612.3,881.4 1611.7,880.5 1611.1,880.2 1610.5,879.1 1609.8,878.9 1609.2,877.6 1608.6,877.5 1607.9,874.7 1607.3,875 1606.7,873.5 1606,871.4 1605.4,872 1604.8,873 1604.1,870.5 1603.5,872.7 1602.9,871.3 1602.2,868.5 1601.6,869.3 1601,871.7 1600.3,871.6 1599.7,868.4 1599.1,867.9 1598.4,869.2 1597.8,869.5 1597.2,869.4 1596.6,866.9 1595.9,866.7 1595.3,867.6 1594.7,866.9 1594,866.1 1593.4,869.7 1592.8,866.1 1592.1,865.4 1591.5,862" fill="none" stroke="none" marker-start="url(#ok)" marker-mid="url(#ok)" marker-end="url(#ok)"/>
<polyline points="1969.5,993.4 1966.8,1002.4 1964.2,1010.4 1961.5,1009.6 1958.9,1000.2 1956.2,990.1 1953.6,979.6 1950.9,969.9 1948.3,966.1 1945.6,964.4 1942.9,966.1 1940.3,970.6 1937.6,980.2 1935,993.9 1932.3,1004.6 1929.7,1006.7 1927,1007.8 1924.4,1002.6 1921.7,984.2 1919.1,969.6 1916.4,960.7 1913.8,957.4 1911.1,956.8 1908.5,960.3 1905.8,966 1903.1,975.6 1900.5,988.2 1897.8,1000.7 1895.2,1006.5 1892.5,1006.7 1889.9,996.5 1887.2,986.3 1885.9,985.3 1884.7,987.5 1883.4,981.6 1882.1,983.2 1880.9,984.5 1879.6,985.9 1878.4,978.1 1877.1,982.6 1875.9,980.5 1874.6,981.3 1873.4,978.1 1872.2,983.2 1871,977.3 1869.7,979.4 1868.5,978.9 1867.3,978.1 1866.1,978.1 1864.9,977.7 1863.7,979.8 1862.6,978 1861.4,973.8 1860.2,977.8 1859,975.7 1857.9,977.1 1856.7,979.3 1855.5,976.4 1854.4,979.2 1853.2,974.3 1852.1,976.1 1851,974.7 1849.8,974.7 1848.7,973.6 1847.6,971.1 1846.5,977.3 1845.3,975 1844.2,971.7 1843.1,974.2 1842,976.2 1840.9,973.8 1839.8,976.8 1838.7,978.1 1837.6,975.4 1836.6,976.2 1835.5,970.7 1834.4,973.1 1833.3,977.7 1832.3,979.9 1831.2,978.6 1830.2,975.7 1829.1,975.8 1828.1,974.6 1827,979.5 1826,977.7 1824.9,976.2 1823.9,975.7 1822.9,972.5 1821.9,977.6 1820.8,974.2 1819.8,975 1818.8,972.9 1817.8,980.5 1816.8,979.8 1815.8,979 1814.8,976.6 1813.8,976.3 1812.8,977.6 1811.8,978.7 1810.8,979.7 1809.9,977 1808.9,977.4 1807.9,975.3 1806.9,979.9 1806,977.8 1805,979.2 1804.1,981.3 1803.1,978.7 1802.1,980.8 1801.2,977 1800.3,977.2 1799.3,979.8 1798.4,981.7 1797.4,977 1796.5,981.9 1795.6,976.8 1794.7,981.2 1793.7,979.2 1792.8,978.8 1791.9,981.1 1791,981.6 1790.1,982.7 1789.2,982.1 1788.3,981 1787.4,979.8 1786.5,981.1 1785.6,980.8 1784.7,979.4 1783.8,981.3 1783,982.7 1782.1,981.7 1781.2,978.8 1780.3,977.8 1779.5,981.6 1778.6,982.6 1777.7,980.7 1776.9,977.2 1776,981.8 1775.2,981.4 1774.3,981.7 1773.5,979.3 1772.6,977.3 1771.8,981.6 1770.9,979.2 1770.1,977.7 1769.3,976.4 1768.4,981.5 1767.6,980 1766.8,975 1766,977.2 1765.2,976.1 1764.3,977.2 1763.5,971.5 1762.7,975.1 1761.9,974.3 1761.1,974.4 1760.3,973.6 1759.5,974.1 1758.7,973.5 1757.9,970.5 1757.1,970.5 1756.3,969 1755.5,969.8 1754.8,969 1754,969.3 1753.2,966.8 1752.4,969.7 1751.7,967.4 1750.9,963.6 1750.1,965.9 1749.4,964.1 1748.6,961.8 1747.8,961.2 1747.1,954.8 1746.3,955.6 1745.6,958.5 1744.8,958.3 1744.1,956.6 1743.3,957 1742.6,950.9 1741.8,950.1 1741.1,946.3 1740.4,948.7 1739.6,945.3 1738.9,942.7 1738.2,941 1737.5,940.1 1736.7,933.5 1736,931.1 1735.3,925.2 1734.6,920.9 1733.9,919.5 1733.2,915.4 1732.4,910.9 1731.7,908 1731,906.6 1730.3,898.6 1729.6,897.1 1728.9,900.1 1728.2,886.7 1727.5,884.1 1726.9,881.5 1726.2,875.7 1725.5,869.9 1724.8,868.1 1724.1,860 1723.4,856.6 1722.8,852.5 1722.1,846.4 1721.4,843.6 1720.7,839.3 1720.1,841.2 1719.4,839.1 1718.7,839.9 1718.1,833.5 1717.4,836.3 1716.7,831.4 1716.1,835.8 1715.4,834.8 1714.8,832.8 1714.1,833.6 1713.5,833.8 1712.8,831.2 1712.2,830 1711.6,833.5 1710.9,839.7 1710.3,835.8 1709.6,833.3 1709,840.1 1708.4,843.7 1707.7,841.5 1707.1,842.8 1706.5,846.3 1705.9,849.2 1705.2,852.5 1704.6,856.6 1704,858.3 1703.4,857.7 1702.8,864.2 1702.1,861.6 1701.5,867 1700.9,868.5 1700.3,872.4 1699.7,872.1 1699.1,873.1 1698.5,874.8 1697.9,876.2 1697.3,874.2 1696.7,880.4 1696.1,880.7 1695.5,881.2 1694.9,879.5 1694.3,886.1 1693.7,884.2 1693.2,884.9 1692.6,894.2 1692,891.4 1691.4,889.5 1690.8,893.9 1690.2,893 1689.7,891.2 1689.1,893.3 1688.5,890.1 1688,896.1 1687.4,897.6 1686.8,896.9 1686.2,900.9 1685.7,904 1685.1,902.5 1684.6,907.7 1684,906.4 1683.4,908.1 1682.9,907.2 1682.3,905.8 1681.8,911.9 1681.2,910 1680.7,915.6 1680.1,912.7 1679.6,915.4 1679,915.4 1678.5,914.9 1677.9,918.8 1677.4,921.5 1676.9,923.9 1676.3,920.4 1675.8,919 1675.3,918.1 1674.7,918.7 1674.2,924.5 1673.7,919.2 1673.1,922.1 1672.6,926.8 1672.1,927.3 1671.6,922 1671,927.1 1670.5,923.9 1670,927.4 1669.5,925.2 1669,930.2 1668.4,929 1667.9,926.4 1667.4,928.8 1666.9,928.6 1666.4,929 1665.9,929.4 1665.4,931.2 1664.9,933.3 1664.4,929.5 1663.9,928.2 1663.4,931 1662.9,926.6 1662.4,927.9 1661.9,930.1 1661.4,932 1660.9,929.5 1660.4,927.8 1659.9,929.5 1659.4,931.9 1658.9,932.3 1658.4,933 1658,930.7 1657.5,929.5 1657,932.5 1656.5,930.5 1656,928.6 1655.5,931 1655.1,929.6 1654.6,934.7 1654.1,930 1653.6,932.9 1653.2,932.6 1652.7,929.9 1652.2,929.2 1651.8,934.3 1651.3,936.5 1650.8,930.9 1650.4,938 1649.9,932 1649.4,931 1649,935.8 1648.5,932.6 1648,932.2 1647.6,933.6 1647.1,937 1646.7,936.1 1646.2,936.8 1645.8,935.4 1645.3,940 1644.9,938.4 1644.4,936.6 1644,934 1643.5,936.3 1643.1,938.3 1642.6,937.7 1642.2,938.4 1641.7,946.7 1641.3,940.7 1640.9,940.2 1640.4,941.7 1640,946 1639.5,947.6 1639.1,941.7 1638.7,946.6 1638.2,946.9 1637.8,944 1637.4,947.8 1636.9,950.5 1636.5,951.9 1636.1,947.8 1635.7,950 1635.2,951.7 1634.8,949.3 1634.4,947.3 1634,949.5 1633.5,948.4 1633.1,947.7 1632.7,944.4 1632.3,944.1 1631.9,950.1 1631.5,950 1631,944.8 1630.6,949.8 1630.2,948 1629.8,945.4 1629.4,943.4 1629,942.9 1628.6,947.1 1628.2,942.2 1627.8,946.8 1627.4,938.4 1627,946.7 1626.5,947.3 1626.1,945.9 1625.7,945 1625.3,944.5 1624.9,944.1 1624.5,946.7 1624.1,946.9 1623.8,943.3 1623.4,944.8 1623,946.7 1622.6,941.3 1622.2,945.3 1621.8,942.3 1621.4,940.9 1621,944 1620.6,945.1 1620.2,942.9 1619.8,940.9 1619.5,942.4 1619.1,940.7 1618.7,945.3 1618.3,942.3 1617.9,935 1617.5,937.3 1617.2,936.8 1616.8,938.4 1616.4,938.6 1616,933.3 1615.7,930.9 1615.3,926.7 1614.9,924.6 1614.5,911.4 1614.2,907.8 1613.8,917.1 1613.4,896.5 1613,892 1612.7,888.7 1612.3,889.1 1611.9,886.7 1611.6,874.4 1611.2,883.7 1610.8,874.1 1610.5,871.1 1610.3,869.7 1610,872.2 1609.8,869.4 1609.6,866 1609.3,869.9 1609.1,868.1 1608.9,870.5 1608.7,865.4 1608.4,865.1 1608.2,858.9 1608,852.3 1607.7,865 1607.5,854 1607.3,854.5 1607.1,850.6 1606.8,864.1 1606.6,835.1 1606.4,836.3 1606.2,827.2 1605.9,815.8 1605.7,805.9 1605.5,796.7 1605.2,799.3 1605,797.4 1604.8,792.8 1604.6,782.3 1604.3,776.1 1604.1,766.9 1603.9,751.7 1603.7,743.5 1603.4,734.4 1603.2,722.1 1603,713.8 1602.7,706.3 1602.5,696.1 1602.3,692.6 1602.1,682.1 1601.8,676.8 1601.6,676.6 1601.4,669.8 1601.2,660.7 1600.9,659 1600.7,660.3 1600.5,657.8 1600.2,653.8 1600,662.9 1599.8,661.4 1599.6,651.5 1599.3,654.8 1599.1,646.1 1598.9,654.8 1598.7,637.6 1598.4,628.9 1598.2,620.2 1598,592.2 1597.7,599.5 1597.5,589 1597.3,581.6 1597.1,582.2 1596.8,566.1 1596.6,571.5 1596.4,557.6 1596.2,556.5 1595.9,546.3" fill="none" stroke="none" marker-start="url(#or)" marker-mid="url(#or)" marker-end="url(#or)"/>
<polyline points="1967.7,834.3 1961.4,832.7 1955.1,830.4 1948.7,826.7 1942.4,820.8 1936.1,811.9 1929.8,805.6 1923.5,801.7 1917.2,797.3 1910.8,788.8 1904.5,775.3 1898.2,770.6 1893.3,768.7 1888.5,768.6 1883.9,768.6 1879.3,768.6 1874.8,768.6 1870.5,768.9 1866.2,769.8 1862,771.3 1857.9,773 1853.9,774.8 1850,777.3 1846.1,780.8 1842.4,784.6 1838.7,788.4 1835,791.6 1831.5,794.3 1828,796.7 1824.6,799 1821.2,801.2 1817.9,803.5 1814.7,805.8 1811.5,808.3 1808.4,811 1805.3,813.7 1802.3,816.3 1799.3,818.7 1796.4,820.8 1793.6,822.6 1790.7,824.3 1788,825.8 1785.2,827.1 1782.6,828 1779.9,828.8 1777.3,829.4 1774.8,829.7 1772.3,829.5 1769.8,829.2 1767.3,828.7 1764.9,828.2 1762.6,827.6 1760.2,826.9 1757.9,825.9 1755.7,824.8 1753.5,823.6 1751.3,822.3 1749.1,821 1746.9,819.7 1744.8,818.5 1742.8,817.3 1740.7,816.1 1738.7,814.8 1736.7,813.6 1734.7,812.3 1732.8,811 1730.8,809.7 1729,808.5 1727.1,807.3 1725.2,806.1 1723.4,804.9 1721.6,803.8 1719.8,802.7 1718.1,801.6 1716.4,800.6 1714.6,799.5 1713,798.5 1711.3,797.4 1709.6,796.3 1708,795.1 1706.4,794 1704.8,792.7 1703.2,791.5 1701.7,790.3 1700.1,789 1698.6,787.7 1697.1,786.3 1695.6,785 1694.1,783.7 1692.7,782.3 1691.2,780.9 1689.8,779.5 1688.4,778.1 1687,776.6 1685.6,775.1 1684.3,773.6 1682.9,772.1 1681.6,770.7 1680.3,769.1 1679,767.5 1677.7,765.8 1676.4,763.8 1675.1,761.5 1673.9,758.6 1672.6,755.5 1671.4,752.3 1670.2,749.1 1669,746.1 1667.8,742.9 1666.6,737.9 1665.4,740.9 1664.3,733.9 1663.1,729.6 1662,726.2 1660.8,729.5 1659.7,719.3 1658.6,703.7 1657.5,692.2 1656.4,686.9 1655.4,682 1654.3,675.6 1653.2,680.2 1652.2,683.9 1651.1,686.6 1650.1,693.7 1649.1,696.1 1648.1,703.5 1647.1,699.6 1646.1,691 1645.1,683.4 1644.1,678 1643.2,667.8 1642.2,666.6 1641.2,662.5 1640.3,654.6 1639.4,644.2 1638.4,637.9 1637.5,634.6 1636.6,632.6 1635.7,629.6 1634.8,630.5 1633.9,633.7 1633,639.8 1632.1,643.8 1631.3,647.2 1630.4,643.8 1629.6,646.5 1628.7,652.5 1627.9,655.2 1627,668 1626.2,679.4 1625.4,685.9 1624.6,694.3 1623.7,700.7 1622.9,709.4 1622.1,713.3 1621.4,714.4 1620.6,724.5 1619.8,729.4 1619,730.9 1618.2,738.6 1617.5,741.9 1616.7,748.1 1616,754.3 1615.2,755 1614.5,760.3 1613.7,767.4 1613,776 1612.3,784 1611.6,786.4 1610.9,797.5 1610.1,810.6 1609.4,813.2 1608.7,826.5 1608,838.8 1607.4,843 1606.7,850.9 1606,859.3 1605.3,860.6 1604.6,865.5 1604,875.1 1603.3,877 1602.6,878.9 1602,878.3 1601.3,885.4 1600.7,887.3 1600.1,888.1 1599.4,892.7 1598.8,892.7 1598.2,898.5 1597.5,899 1596.9,901.1 1596.3,896.9 1595.7,899.6 1595.1,899.8 1594.5,902.8 1593.9,902.1 1593.3,905.1 1592.7,907.3 1592.1,906.6 1591.5,910.9" fill="none" stroke="none" marker-start="url(#og)" marker-mid="url(#og)" marker-end="url(#og)"/>
</g>
<polyline points="1712.6,698.4" fill="none" stroke="none" marker-start="url(#ok)" marker-mid="url(#ok)" marker-end="url(#ok)"/>
<text x="1750" y="707.7" font-size="21.3" text-anchor="start" fill="#000">3* MK</text>
<polyline points="1712.6,730.4" fill="none" stroke="none" marker-start="url(#or)" marker-mid="url(#or)" marker-end="url(#or)"/>
<polyline points="1712.6,762.6" fill="none" stroke="none" marker-start="url(#og)" marker-mid="url(#og)" marker-end="url(#og)"/>
<text x="1750" y="771.9" font-size="21.3" text-anchor="start" fill="#000">3* PS1</text>
<text x="1750" y="739.6" font-size="21.3">*D<tspan dy="-8.8" font-size="14.5">T</tspan></text>
</svg>
</body></html>
